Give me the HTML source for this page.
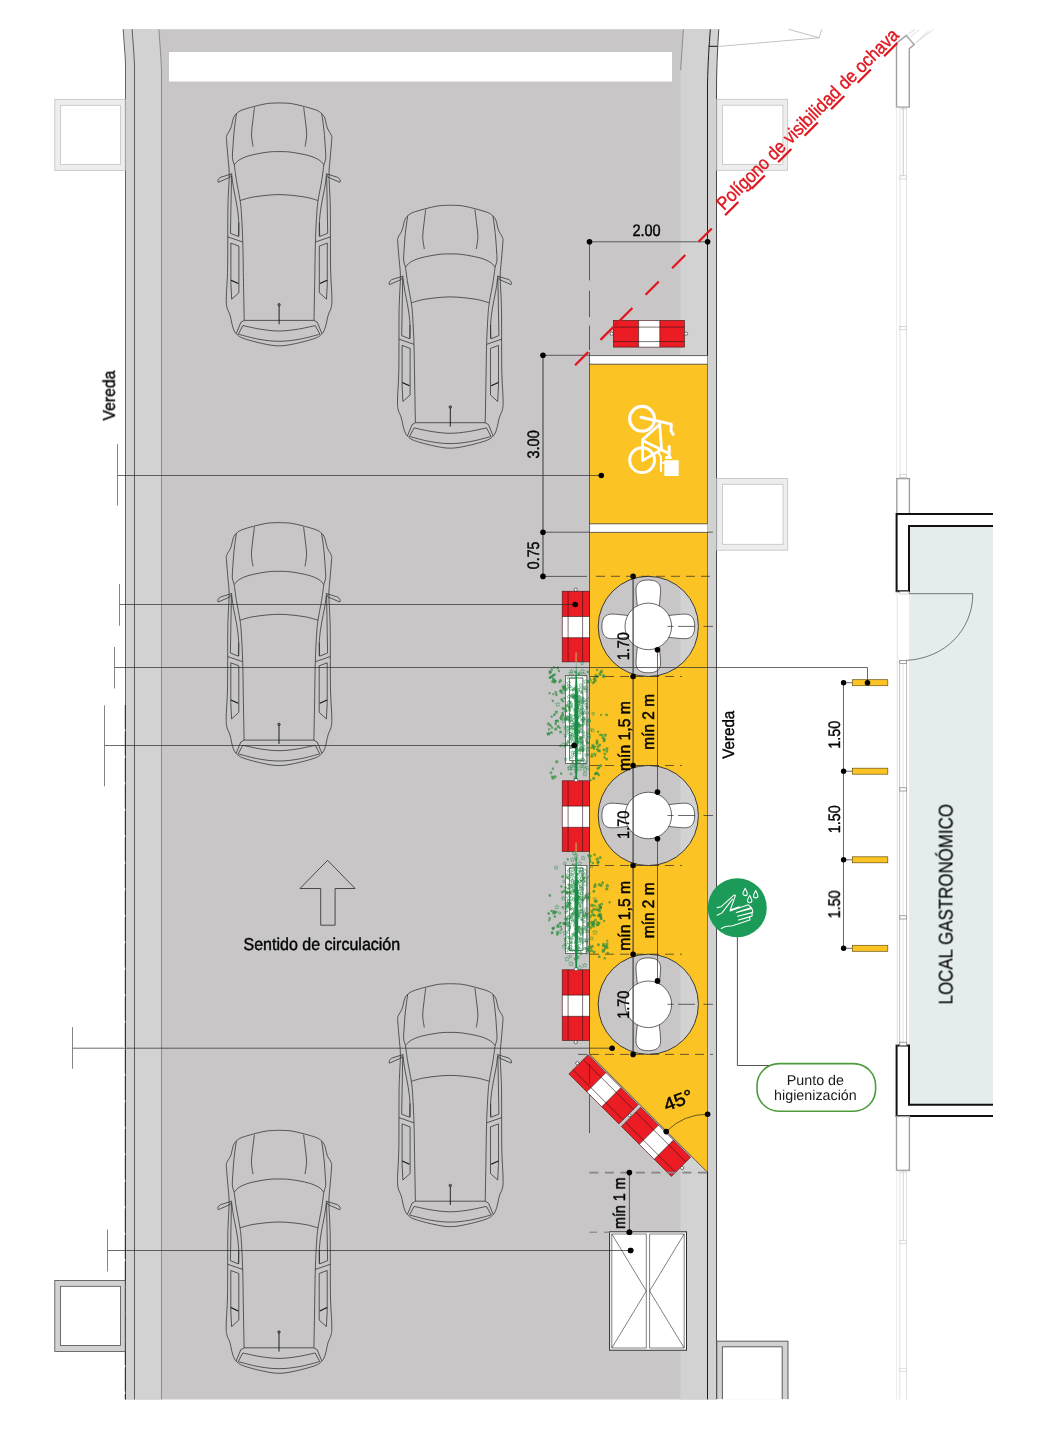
<!DOCTYPE html>
<html lang="es"><head><meta charset="utf-8"><title>Plano local gastronómico</title>
<style>
html,body{margin:0;padding:0;background:#fff;}
body{width:1063px;height:1452px;overflow:hidden;}
svg{display:block;font-family:"Liberation Sans",sans-serif;}
</style></head><body>
<svg width="1063" height="1452" viewBox="0 0 1063 1452">
<rect x="0" y="0" width="1063" height="1452" fill="#fff"/>
<path d="M123.2,29.3 C123.8,40 124.9,50 125.5,64 L125.5,1399.4 L716.5,1399.4 L716.5,90 C716.7,62 717.8,45 718.8,29.3 Z" fill="#c8c6c7"/>
<path d="M123.2,29.3 C123.8,40 124.9,50 125.5,64 L125.5,1399.4 L161.5,1399.4 L161.5,70 C160.8,55 159.6,40 158.9,29.3 Z" fill="#d3d2d3"/>
<path d="M683.4,29.3 C682,50 680.8,65 680.5,80 L680.5,1399.4 L716.5,1399.4 L716.5,90 C716.7,62 717.8,45 718.8,29.3 Z" fill="#d3d2d3"/>
<rect x="169" y="52" width="503" height="29.5" fill="#fff"/>
<path d="M123.2,29.3 C123.8,40 124.9,50 125.5,64 L125.5,1399.4" fill="none" stroke="#2b2a2a" stroke-width="0.7"/>
<path d="M132.1,29.3 C132.8,40 134,52 134.5,66 L134.5,1399.4" fill="none" stroke="#2b2a2a" stroke-width="0.7"/>
<path d="M158.9,29.3 C159.6,40 160.8,55 161.5,70 L161.5,1399.4" fill="none" stroke="#4a4a4a" stroke-width="0.5"/>
<path d="M683.4,29.3 C682.4,45 681.2,60 680.7,70" fill="none" stroke="#4a4a4a" stroke-width="0.5"/>
<path d="M710.3,29.3 C709.2,45 707.9,62 707.5,85 L707.5,1399.4" fill="none" stroke="#1e1e1e" stroke-width="1"/>
<path d="M718.8,29.3 C717.8,45 716.7,62 716.5,90 L716.5,1399.4" fill="none" stroke="#3a3a3a" stroke-width="0.9"/>
<path d="M708.6,46.3 L717.6,46.3" fill="none" stroke="#111" stroke-width="1"/>
<path d="M125.3,705 L125.3,1399.4" fill="none" stroke="#1e1e1e" stroke-width="0.9" stroke-dasharray="24 2.5"/>
<path d="M717.6,46.5 L819.2,37.8 L821.7,29.3 M788.7,29.3 L819.2,37.8" fill="none" stroke="#9a9a9a" stroke-width="0.6"/>
<rect x="54.8" y="99.4" width="70.4" height="71" fill="#ededed" stroke="#c2c2c2" stroke-width="0.8"/>
<rect x="60.5" y="105.30000000000001" width="60.00000000000001" height="59.2" fill="#fff" stroke="#c2c2c2" stroke-width="0.8"/>
<rect x="54.8" y="1280.4" width="70.4" height="71" fill="#d2d2d2" stroke="#4c4c4c" stroke-width="0.8"/>
<rect x="60.5" y="1286.3000000000002" width="60.00000000000001" height="59.2" fill="#fff" stroke="#4c4c4c" stroke-width="0.8"/>
<rect x="716.8" y="99.3" width="70.8" height="71" fill="#ededed" stroke="#c2c2c2" stroke-width="0.8"/>
<rect x="722.5" y="105.2" width="60.4" height="59.2" fill="#fff" stroke="#c2c2c2" stroke-width="0.8"/>
<rect x="716.8" y="478.4" width="70.9" height="71.8" fill="#ededed" stroke="#c2c2c2" stroke-width="0.8"/>
<rect x="722.5" y="484.29999999999995" width="60.50000000000001" height="60.0" fill="#fff" stroke="#c2c2c2" stroke-width="0.8"/>
<path d="M716.8,1399.4 L716.8,1341.2 L788,1341.2 L788,1399.4" fill="#d2d2d2" stroke="#4c4c4c" stroke-width="0.9"/>
<path d="M722.4,1399.4 L722.4,1346.8 L782.2,1346.8 L782.2,1399.4" fill="#fff" stroke="#4c4c4c" stroke-width="0.9"/>
<rect x="716" y="1399.4" width="80" height="3" fill="#fff"/>
<g transform="translate(279.1,102.7)"><path d="M0.00,0.20 C2.06,0.32 8.13,0.28 12.38,0.90 C16.62,1.52 21.32,2.82 25.44,3.90 C29.57,4.98 34.30,6.27 37.12,7.40 C39.95,8.53 40.95,9.38 42.37,10.70 C43.79,12.02 44.67,12.88 45.64,15.30 C46.61,17.72 47.12,22.33 48.21,25.20 C49.30,28.07 51.45,30.52 52.17,32.50 C52.90,34.48 52.75,33.27 52.57,37.10 C52.39,40.93 51.53,49.80 51.08,55.50 C50.64,61.20 49.93,64.72 49.90,71.30 C49.86,77.88 50.65,88.22 50.89,95.00 C51.12,101.78 51.18,100.33 51.28,112.00 C51.38,123.67 51.23,151.33 51.48,165.00 C51.73,178.67 52.65,187.42 52.77,194.00 C52.88,200.58 52.78,201.43 52.17,204.50 C51.56,207.57 50.08,209.12 49.10,212.40 C48.13,215.68 47.34,221.13 46.33,224.20 C45.33,227.27 44.81,228.90 43.06,230.80 C41.32,232.70 40.29,233.92 35.84,235.60 C31.38,237.28 22.31,239.63 16.34,240.90 C10.36,242.17 5.45,243.20 0.00,243.20 C-5.45,243.20 -10.36,242.17 -16.34,240.90 C-22.31,239.63 -31.38,237.28 -35.84,235.60 C-40.29,233.92 -41.32,232.70 -43.06,230.80 C-44.81,228.90 -45.33,227.27 -46.33,224.20 C-47.34,221.13 -48.13,215.68 -49.10,212.40 C-50.08,209.12 -51.56,207.57 -52.17,204.50 C-52.78,201.43 -52.88,200.58 -52.77,194.00 C-52.65,187.42 -51.73,178.67 -51.48,165.00 C-51.23,151.33 -51.38,123.67 -51.28,112.00 C-51.18,100.33 -51.12,101.78 -50.89,95.00 C-50.65,88.22 -49.86,77.88 -49.90,71.30 C-49.93,64.72 -50.64,61.20 -51.08,55.50 C-51.53,49.80 -52.39,40.93 -52.57,37.10 C-52.75,33.27 -52.90,34.48 -52.17,32.50 C-51.45,30.52 -49.30,28.07 -48.21,25.20 C-47.12,22.33 -46.61,17.72 -45.64,15.30 C-44.67,12.88 -43.79,12.02 -42.37,10.70 C-40.95,9.38 -39.95,8.53 -37.12,7.40 C-34.30,6.27 -29.57,4.98 -25.44,3.90 C-21.32,2.82 -16.62,1.52 -12.38,0.90 C-8.13,0.28 -2.06,0.32 -0.00,0.20 Z M42.60,10.70 C42.87,12.58 43.73,18.28 44.20,22.00 C44.67,25.72 45.07,29.17 45.40,33.00 C45.73,36.83 45.98,41.33 46.20,45.00 C46.42,48.67 46.93,52.15 46.70,55.00 C46.47,57.85 45.12,60.92 44.80,62.10 M24.60,4.60 C24.88,6.92 25.80,13.98 26.30,18.50 C26.80,23.02 27.65,27.45 27.60,31.70 C27.55,35.95 26.27,41.95 26.00,44.00 M44.80,62.10 C44.43,64.75 43.57,72.07 42.60,78.00 C41.63,83.93 39.83,92.03 39.00,97.70 C38.17,103.37 38.05,104.95 37.60,112.00 C37.15,119.05 36.63,128.67 36.30,140.00 C35.97,151.33 35.83,167.05 35.60,180.00 C35.37,192.95 35.02,211.42 34.90,217.70 M47.30,72.50 C47.05,74.42 46.65,78.92 45.80,84.00 C44.95,89.08 43.10,97.33 42.20,103.00 C41.30,108.67 40.73,112.92 40.40,118.00 C40.07,123.08 40.23,130.92 40.20,133.50 M47.60,73.50 L48.60,130.60 L40.60,133.80 L40.30,120.00 M36.40,139.30 L51.20,134.20 M40.20,143.40 L48.20,140.40 L48.20,181.00 L47.40,196.50 L40.20,190.00 Z M47.00,71.00 L58.50,74.60 C61.00,76.00 61.80,78.40 60.80,79.60 L49.20,74.60 Z M34.80,217.70 L38.20,219.60 L42.80,230.80 M36.20,222.90 L40.80,231.50 M-42.60,10.70 C-42.87,12.58 -43.73,18.28 -44.20,22.00 C-44.67,25.72 -45.07,29.17 -45.40,33.00 C-45.73,36.83 -45.98,41.33 -46.20,45.00 C-46.42,48.67 -46.93,52.15 -46.70,55.00 C-46.47,57.85 -45.12,60.92 -44.80,62.10 M-24.60,4.60 C-24.88,6.92 -25.80,13.98 -26.30,18.50 C-26.80,23.02 -27.65,27.45 -27.60,31.70 C-27.55,35.95 -26.27,41.95 -26.00,44.00 M-44.80,62.10 C-44.43,64.75 -43.57,72.07 -42.60,78.00 C-41.63,83.93 -39.83,92.03 -39.00,97.70 C-38.17,103.37 -38.05,104.95 -37.60,112.00 C-37.15,119.05 -36.63,128.67 -36.30,140.00 C-35.97,151.33 -35.83,167.05 -35.60,180.00 C-35.37,192.95 -35.02,211.42 -34.90,217.70 M-47.30,72.50 C-47.05,74.42 -46.65,78.92 -45.80,84.00 C-44.95,89.08 -43.10,97.33 -42.20,103.00 C-41.30,108.67 -40.73,112.92 -40.40,118.00 C-40.07,123.08 -40.23,130.92 -40.20,133.50 M-47.60,73.50 L-48.60,130.60 L-40.60,133.80 L-40.30,120.00 M-36.40,139.30 L-51.20,134.20 M-40.20,143.40 L-48.20,140.40 L-48.20,181.00 L-47.40,196.50 L-40.20,190.00 Z M-47.00,71.00 L-58.50,74.60 C-61.00,76.00 -61.80,78.40 -60.80,79.60 L-49.20,74.60 Z M-34.80,217.70 L-38.20,219.60 L-42.80,230.80 M-36.20,222.90 L-40.80,231.50 M-44.80,62.10 C-44.00,61.30 -42.53,58.83 -40.00,57.30 C-37.47,55.77 -34.27,54.20 -29.60,52.90 C-24.93,51.60 -16.93,50.17 -12.00,49.50 C-7.07,48.83 -4.00,48.90 0.00,48.90 C4.00,48.90 7.07,48.83 12.00,49.50 C16.93,50.17 24.93,51.60 29.60,52.90 C34.27,54.20 37.47,55.77 40.00,57.30 C42.53,58.83 44.00,61.30 44.80,62.10 M-38.90,97.80 C-36.58,97.20 -31.48,95.18 -25.00,94.20 C-18.52,93.22 -8.33,91.90 0.00,91.90 C8.33,91.90 18.52,93.22 25.00,94.20 C31.48,95.18 36.58,97.20 38.90,97.80 M-34.8,217.7 L34.8,217.7 M-36.20,222.90 C-33.17,223.52 -24.03,225.70 -18.00,226.60 C-11.97,227.50 -6.00,228.30 0.00,228.30 C6.00,228.30 11.97,227.50 18.00,226.60 C24.03,225.70 33.17,223.52 36.20,222.90 M-40.80,231.50 C-37.33,232.35 -26.80,235.42 -20.00,236.60 C-13.20,237.78 -6.67,238.60 0.00,238.60 C6.67,238.60 13.20,237.78 20.00,236.60 C26.80,235.42 37.33,232.35 40.80,231.50" fill="none" stroke="#232323" stroke-width="0.7" stroke-linejoin="round"/><path d="M40.8,180.8 L48.1,177.5 M-40.8,180.8 L-48.1,177.5" stroke="#111" stroke-width="1.1" fill="none"/><path d="M0,203 L0,221.5" stroke="#111" stroke-width="0.9" fill="none"/><circle cx="0" cy="202" r="1.3" fill="#666" stroke="#111" stroke-width="0.5"/></g>
<g transform="translate(450.3,205.0)"><path d="M0.00,0.20 C2.06,0.32 8.13,0.28 12.38,0.90 C16.62,1.52 21.32,2.82 25.44,3.90 C29.57,4.98 34.30,6.27 37.12,7.40 C39.95,8.53 40.95,9.38 42.37,10.70 C43.79,12.02 44.67,12.88 45.64,15.30 C46.61,17.72 47.12,22.33 48.21,25.20 C49.30,28.07 51.45,30.52 52.17,32.50 C52.90,34.48 52.75,33.27 52.57,37.10 C52.39,40.93 51.53,49.80 51.08,55.50 C50.64,61.20 49.93,64.72 49.90,71.30 C49.86,77.88 50.65,88.22 50.89,95.00 C51.12,101.78 51.18,100.33 51.28,112.00 C51.38,123.67 51.23,151.33 51.48,165.00 C51.73,178.67 52.65,187.42 52.77,194.00 C52.88,200.58 52.78,201.43 52.17,204.50 C51.56,207.57 50.08,209.12 49.10,212.40 C48.13,215.68 47.34,221.13 46.33,224.20 C45.33,227.27 44.81,228.90 43.06,230.80 C41.32,232.70 40.29,233.92 35.84,235.60 C31.38,237.28 22.31,239.63 16.34,240.90 C10.36,242.17 5.45,243.20 0.00,243.20 C-5.45,243.20 -10.36,242.17 -16.34,240.90 C-22.31,239.63 -31.38,237.28 -35.84,235.60 C-40.29,233.92 -41.32,232.70 -43.06,230.80 C-44.81,228.90 -45.33,227.27 -46.33,224.20 C-47.34,221.13 -48.13,215.68 -49.10,212.40 C-50.08,209.12 -51.56,207.57 -52.17,204.50 C-52.78,201.43 -52.88,200.58 -52.77,194.00 C-52.65,187.42 -51.73,178.67 -51.48,165.00 C-51.23,151.33 -51.38,123.67 -51.28,112.00 C-51.18,100.33 -51.12,101.78 -50.89,95.00 C-50.65,88.22 -49.86,77.88 -49.90,71.30 C-49.93,64.72 -50.64,61.20 -51.08,55.50 C-51.53,49.80 -52.39,40.93 -52.57,37.10 C-52.75,33.27 -52.90,34.48 -52.17,32.50 C-51.45,30.52 -49.30,28.07 -48.21,25.20 C-47.12,22.33 -46.61,17.72 -45.64,15.30 C-44.67,12.88 -43.79,12.02 -42.37,10.70 C-40.95,9.38 -39.95,8.53 -37.12,7.40 C-34.30,6.27 -29.57,4.98 -25.44,3.90 C-21.32,2.82 -16.62,1.52 -12.38,0.90 C-8.13,0.28 -2.06,0.32 -0.00,0.20 Z M42.60,10.70 C42.87,12.58 43.73,18.28 44.20,22.00 C44.67,25.72 45.07,29.17 45.40,33.00 C45.73,36.83 45.98,41.33 46.20,45.00 C46.42,48.67 46.93,52.15 46.70,55.00 C46.47,57.85 45.12,60.92 44.80,62.10 M24.60,4.60 C24.88,6.92 25.80,13.98 26.30,18.50 C26.80,23.02 27.65,27.45 27.60,31.70 C27.55,35.95 26.27,41.95 26.00,44.00 M44.80,62.10 C44.43,64.75 43.57,72.07 42.60,78.00 C41.63,83.93 39.83,92.03 39.00,97.70 C38.17,103.37 38.05,104.95 37.60,112.00 C37.15,119.05 36.63,128.67 36.30,140.00 C35.97,151.33 35.83,167.05 35.60,180.00 C35.37,192.95 35.02,211.42 34.90,217.70 M47.30,72.50 C47.05,74.42 46.65,78.92 45.80,84.00 C44.95,89.08 43.10,97.33 42.20,103.00 C41.30,108.67 40.73,112.92 40.40,118.00 C40.07,123.08 40.23,130.92 40.20,133.50 M47.60,73.50 L48.60,130.60 L40.60,133.80 L40.30,120.00 M36.40,139.30 L51.20,134.20 M40.20,143.40 L48.20,140.40 L48.20,181.00 L47.40,196.50 L40.20,190.00 Z M47.00,71.00 L58.50,74.60 C61.00,76.00 61.80,78.40 60.80,79.60 L49.20,74.60 Z M34.80,217.70 L38.20,219.60 L42.80,230.80 M36.20,222.90 L40.80,231.50 M-42.60,10.70 C-42.87,12.58 -43.73,18.28 -44.20,22.00 C-44.67,25.72 -45.07,29.17 -45.40,33.00 C-45.73,36.83 -45.98,41.33 -46.20,45.00 C-46.42,48.67 -46.93,52.15 -46.70,55.00 C-46.47,57.85 -45.12,60.92 -44.80,62.10 M-24.60,4.60 C-24.88,6.92 -25.80,13.98 -26.30,18.50 C-26.80,23.02 -27.65,27.45 -27.60,31.70 C-27.55,35.95 -26.27,41.95 -26.00,44.00 M-44.80,62.10 C-44.43,64.75 -43.57,72.07 -42.60,78.00 C-41.63,83.93 -39.83,92.03 -39.00,97.70 C-38.17,103.37 -38.05,104.95 -37.60,112.00 C-37.15,119.05 -36.63,128.67 -36.30,140.00 C-35.97,151.33 -35.83,167.05 -35.60,180.00 C-35.37,192.95 -35.02,211.42 -34.90,217.70 M-47.30,72.50 C-47.05,74.42 -46.65,78.92 -45.80,84.00 C-44.95,89.08 -43.10,97.33 -42.20,103.00 C-41.30,108.67 -40.73,112.92 -40.40,118.00 C-40.07,123.08 -40.23,130.92 -40.20,133.50 M-47.60,73.50 L-48.60,130.60 L-40.60,133.80 L-40.30,120.00 M-36.40,139.30 L-51.20,134.20 M-40.20,143.40 L-48.20,140.40 L-48.20,181.00 L-47.40,196.50 L-40.20,190.00 Z M-47.00,71.00 L-58.50,74.60 C-61.00,76.00 -61.80,78.40 -60.80,79.60 L-49.20,74.60 Z M-34.80,217.70 L-38.20,219.60 L-42.80,230.80 M-36.20,222.90 L-40.80,231.50 M-44.80,62.10 C-44.00,61.30 -42.53,58.83 -40.00,57.30 C-37.47,55.77 -34.27,54.20 -29.60,52.90 C-24.93,51.60 -16.93,50.17 -12.00,49.50 C-7.07,48.83 -4.00,48.90 0.00,48.90 C4.00,48.90 7.07,48.83 12.00,49.50 C16.93,50.17 24.93,51.60 29.60,52.90 C34.27,54.20 37.47,55.77 40.00,57.30 C42.53,58.83 44.00,61.30 44.80,62.10 M-38.90,97.80 C-36.58,97.20 -31.48,95.18 -25.00,94.20 C-18.52,93.22 -8.33,91.90 0.00,91.90 C8.33,91.90 18.52,93.22 25.00,94.20 C31.48,95.18 36.58,97.20 38.90,97.80 M-34.8,217.7 L34.8,217.7 M-36.20,222.90 C-33.17,223.52 -24.03,225.70 -18.00,226.60 C-11.97,227.50 -6.00,228.30 0.00,228.30 C6.00,228.30 11.97,227.50 18.00,226.60 C24.03,225.70 33.17,223.52 36.20,222.90 M-40.80,231.50 C-37.33,232.35 -26.80,235.42 -20.00,236.60 C-13.20,237.78 -6.67,238.60 0.00,238.60 C6.67,238.60 13.20,237.78 20.00,236.60 C26.80,235.42 37.33,232.35 40.80,231.50" fill="none" stroke="#232323" stroke-width="0.7" stroke-linejoin="round"/><path d="M40.8,180.8 L48.1,177.5 M-40.8,180.8 L-48.1,177.5" stroke="#111" stroke-width="1.1" fill="none"/><path d="M0,203 L0,221.5" stroke="#111" stroke-width="0.9" fill="none"/><circle cx="0" cy="202" r="1.3" fill="#666" stroke="#111" stroke-width="0.5"/></g>
<g transform="translate(279.0,522.4)"><path d="M0.00,0.20 C2.06,0.32 8.13,0.28 12.38,0.90 C16.62,1.52 21.32,2.82 25.44,3.90 C29.57,4.98 34.30,6.27 37.12,7.40 C39.95,8.53 40.95,9.38 42.37,10.70 C43.79,12.02 44.67,12.88 45.64,15.30 C46.61,17.72 47.12,22.33 48.21,25.20 C49.30,28.07 51.45,30.52 52.17,32.50 C52.90,34.48 52.75,33.27 52.57,37.10 C52.39,40.93 51.53,49.80 51.08,55.50 C50.64,61.20 49.93,64.72 49.90,71.30 C49.86,77.88 50.65,88.22 50.89,95.00 C51.12,101.78 51.18,100.33 51.28,112.00 C51.38,123.67 51.23,151.33 51.48,165.00 C51.73,178.67 52.65,187.42 52.77,194.00 C52.88,200.58 52.78,201.43 52.17,204.50 C51.56,207.57 50.08,209.12 49.10,212.40 C48.13,215.68 47.34,221.13 46.33,224.20 C45.33,227.27 44.81,228.90 43.06,230.80 C41.32,232.70 40.29,233.92 35.84,235.60 C31.38,237.28 22.31,239.63 16.34,240.90 C10.36,242.17 5.45,243.20 0.00,243.20 C-5.45,243.20 -10.36,242.17 -16.34,240.90 C-22.31,239.63 -31.38,237.28 -35.84,235.60 C-40.29,233.92 -41.32,232.70 -43.06,230.80 C-44.81,228.90 -45.33,227.27 -46.33,224.20 C-47.34,221.13 -48.13,215.68 -49.10,212.40 C-50.08,209.12 -51.56,207.57 -52.17,204.50 C-52.78,201.43 -52.88,200.58 -52.77,194.00 C-52.65,187.42 -51.73,178.67 -51.48,165.00 C-51.23,151.33 -51.38,123.67 -51.28,112.00 C-51.18,100.33 -51.12,101.78 -50.89,95.00 C-50.65,88.22 -49.86,77.88 -49.90,71.30 C-49.93,64.72 -50.64,61.20 -51.08,55.50 C-51.53,49.80 -52.39,40.93 -52.57,37.10 C-52.75,33.27 -52.90,34.48 -52.17,32.50 C-51.45,30.52 -49.30,28.07 -48.21,25.20 C-47.12,22.33 -46.61,17.72 -45.64,15.30 C-44.67,12.88 -43.79,12.02 -42.37,10.70 C-40.95,9.38 -39.95,8.53 -37.12,7.40 C-34.30,6.27 -29.57,4.98 -25.44,3.90 C-21.32,2.82 -16.62,1.52 -12.38,0.90 C-8.13,0.28 -2.06,0.32 -0.00,0.20 Z M42.60,10.70 C42.87,12.58 43.73,18.28 44.20,22.00 C44.67,25.72 45.07,29.17 45.40,33.00 C45.73,36.83 45.98,41.33 46.20,45.00 C46.42,48.67 46.93,52.15 46.70,55.00 C46.47,57.85 45.12,60.92 44.80,62.10 M24.60,4.60 C24.88,6.92 25.80,13.98 26.30,18.50 C26.80,23.02 27.65,27.45 27.60,31.70 C27.55,35.95 26.27,41.95 26.00,44.00 M44.80,62.10 C44.43,64.75 43.57,72.07 42.60,78.00 C41.63,83.93 39.83,92.03 39.00,97.70 C38.17,103.37 38.05,104.95 37.60,112.00 C37.15,119.05 36.63,128.67 36.30,140.00 C35.97,151.33 35.83,167.05 35.60,180.00 C35.37,192.95 35.02,211.42 34.90,217.70 M47.30,72.50 C47.05,74.42 46.65,78.92 45.80,84.00 C44.95,89.08 43.10,97.33 42.20,103.00 C41.30,108.67 40.73,112.92 40.40,118.00 C40.07,123.08 40.23,130.92 40.20,133.50 M47.60,73.50 L48.60,130.60 L40.60,133.80 L40.30,120.00 M36.40,139.30 L51.20,134.20 M40.20,143.40 L48.20,140.40 L48.20,181.00 L47.40,196.50 L40.20,190.00 Z M47.00,71.00 L58.50,74.60 C61.00,76.00 61.80,78.40 60.80,79.60 L49.20,74.60 Z M34.80,217.70 L38.20,219.60 L42.80,230.80 M36.20,222.90 L40.80,231.50 M-42.60,10.70 C-42.87,12.58 -43.73,18.28 -44.20,22.00 C-44.67,25.72 -45.07,29.17 -45.40,33.00 C-45.73,36.83 -45.98,41.33 -46.20,45.00 C-46.42,48.67 -46.93,52.15 -46.70,55.00 C-46.47,57.85 -45.12,60.92 -44.80,62.10 M-24.60,4.60 C-24.88,6.92 -25.80,13.98 -26.30,18.50 C-26.80,23.02 -27.65,27.45 -27.60,31.70 C-27.55,35.95 -26.27,41.95 -26.00,44.00 M-44.80,62.10 C-44.43,64.75 -43.57,72.07 -42.60,78.00 C-41.63,83.93 -39.83,92.03 -39.00,97.70 C-38.17,103.37 -38.05,104.95 -37.60,112.00 C-37.15,119.05 -36.63,128.67 -36.30,140.00 C-35.97,151.33 -35.83,167.05 -35.60,180.00 C-35.37,192.95 -35.02,211.42 -34.90,217.70 M-47.30,72.50 C-47.05,74.42 -46.65,78.92 -45.80,84.00 C-44.95,89.08 -43.10,97.33 -42.20,103.00 C-41.30,108.67 -40.73,112.92 -40.40,118.00 C-40.07,123.08 -40.23,130.92 -40.20,133.50 M-47.60,73.50 L-48.60,130.60 L-40.60,133.80 L-40.30,120.00 M-36.40,139.30 L-51.20,134.20 M-40.20,143.40 L-48.20,140.40 L-48.20,181.00 L-47.40,196.50 L-40.20,190.00 Z M-47.00,71.00 L-58.50,74.60 C-61.00,76.00 -61.80,78.40 -60.80,79.60 L-49.20,74.60 Z M-34.80,217.70 L-38.20,219.60 L-42.80,230.80 M-36.20,222.90 L-40.80,231.50 M-44.80,62.10 C-44.00,61.30 -42.53,58.83 -40.00,57.30 C-37.47,55.77 -34.27,54.20 -29.60,52.90 C-24.93,51.60 -16.93,50.17 -12.00,49.50 C-7.07,48.83 -4.00,48.90 0.00,48.90 C4.00,48.90 7.07,48.83 12.00,49.50 C16.93,50.17 24.93,51.60 29.60,52.90 C34.27,54.20 37.47,55.77 40.00,57.30 C42.53,58.83 44.00,61.30 44.80,62.10 M-38.90,97.80 C-36.58,97.20 -31.48,95.18 -25.00,94.20 C-18.52,93.22 -8.33,91.90 0.00,91.90 C8.33,91.90 18.52,93.22 25.00,94.20 C31.48,95.18 36.58,97.20 38.90,97.80 M-34.8,217.7 L34.8,217.7 M-36.20,222.90 C-33.17,223.52 -24.03,225.70 -18.00,226.60 C-11.97,227.50 -6.00,228.30 0.00,228.30 C6.00,228.30 11.97,227.50 18.00,226.60 C24.03,225.70 33.17,223.52 36.20,222.90 M-40.80,231.50 C-37.33,232.35 -26.80,235.42 -20.00,236.60 C-13.20,237.78 -6.67,238.60 0.00,238.60 C6.67,238.60 13.20,237.78 20.00,236.60 C26.80,235.42 37.33,232.35 40.80,231.50" fill="none" stroke="#232323" stroke-width="0.7" stroke-linejoin="round"/><path d="M40.8,180.8 L48.1,177.5 M-40.8,180.8 L-48.1,177.5" stroke="#111" stroke-width="1.1" fill="none"/><path d="M0,203 L0,221.5" stroke="#111" stroke-width="0.9" fill="none"/><circle cx="0" cy="202" r="1.3" fill="#666" stroke="#111" stroke-width="0.5"/></g>
<g transform="translate(450.3,983.5)"><path d="M0.00,0.20 C2.06,0.32 8.13,0.28 12.38,0.90 C16.62,1.52 21.32,2.82 25.44,3.90 C29.57,4.98 34.30,6.27 37.12,7.40 C39.95,8.53 40.95,9.38 42.37,10.70 C43.79,12.02 44.67,12.88 45.64,15.30 C46.61,17.72 47.12,22.33 48.21,25.20 C49.30,28.07 51.45,30.52 52.17,32.50 C52.90,34.48 52.75,33.27 52.57,37.10 C52.39,40.93 51.53,49.80 51.08,55.50 C50.64,61.20 49.93,64.72 49.90,71.30 C49.86,77.88 50.65,88.22 50.89,95.00 C51.12,101.78 51.18,100.33 51.28,112.00 C51.38,123.67 51.23,151.33 51.48,165.00 C51.73,178.67 52.65,187.42 52.77,194.00 C52.88,200.58 52.78,201.43 52.17,204.50 C51.56,207.57 50.08,209.12 49.10,212.40 C48.13,215.68 47.34,221.13 46.33,224.20 C45.33,227.27 44.81,228.90 43.06,230.80 C41.32,232.70 40.29,233.92 35.84,235.60 C31.38,237.28 22.31,239.63 16.34,240.90 C10.36,242.17 5.45,243.20 0.00,243.20 C-5.45,243.20 -10.36,242.17 -16.34,240.90 C-22.31,239.63 -31.38,237.28 -35.84,235.60 C-40.29,233.92 -41.32,232.70 -43.06,230.80 C-44.81,228.90 -45.33,227.27 -46.33,224.20 C-47.34,221.13 -48.13,215.68 -49.10,212.40 C-50.08,209.12 -51.56,207.57 -52.17,204.50 C-52.78,201.43 -52.88,200.58 -52.77,194.00 C-52.65,187.42 -51.73,178.67 -51.48,165.00 C-51.23,151.33 -51.38,123.67 -51.28,112.00 C-51.18,100.33 -51.12,101.78 -50.89,95.00 C-50.65,88.22 -49.86,77.88 -49.90,71.30 C-49.93,64.72 -50.64,61.20 -51.08,55.50 C-51.53,49.80 -52.39,40.93 -52.57,37.10 C-52.75,33.27 -52.90,34.48 -52.17,32.50 C-51.45,30.52 -49.30,28.07 -48.21,25.20 C-47.12,22.33 -46.61,17.72 -45.64,15.30 C-44.67,12.88 -43.79,12.02 -42.37,10.70 C-40.95,9.38 -39.95,8.53 -37.12,7.40 C-34.30,6.27 -29.57,4.98 -25.44,3.90 C-21.32,2.82 -16.62,1.52 -12.38,0.90 C-8.13,0.28 -2.06,0.32 -0.00,0.20 Z M42.60,10.70 C42.87,12.58 43.73,18.28 44.20,22.00 C44.67,25.72 45.07,29.17 45.40,33.00 C45.73,36.83 45.98,41.33 46.20,45.00 C46.42,48.67 46.93,52.15 46.70,55.00 C46.47,57.85 45.12,60.92 44.80,62.10 M24.60,4.60 C24.88,6.92 25.80,13.98 26.30,18.50 C26.80,23.02 27.65,27.45 27.60,31.70 C27.55,35.95 26.27,41.95 26.00,44.00 M44.80,62.10 C44.43,64.75 43.57,72.07 42.60,78.00 C41.63,83.93 39.83,92.03 39.00,97.70 C38.17,103.37 38.05,104.95 37.60,112.00 C37.15,119.05 36.63,128.67 36.30,140.00 C35.97,151.33 35.83,167.05 35.60,180.00 C35.37,192.95 35.02,211.42 34.90,217.70 M47.30,72.50 C47.05,74.42 46.65,78.92 45.80,84.00 C44.95,89.08 43.10,97.33 42.20,103.00 C41.30,108.67 40.73,112.92 40.40,118.00 C40.07,123.08 40.23,130.92 40.20,133.50 M47.60,73.50 L48.60,130.60 L40.60,133.80 L40.30,120.00 M36.40,139.30 L51.20,134.20 M40.20,143.40 L48.20,140.40 L48.20,181.00 L47.40,196.50 L40.20,190.00 Z M47.00,71.00 L58.50,74.60 C61.00,76.00 61.80,78.40 60.80,79.60 L49.20,74.60 Z M34.80,217.70 L38.20,219.60 L42.80,230.80 M36.20,222.90 L40.80,231.50 M-42.60,10.70 C-42.87,12.58 -43.73,18.28 -44.20,22.00 C-44.67,25.72 -45.07,29.17 -45.40,33.00 C-45.73,36.83 -45.98,41.33 -46.20,45.00 C-46.42,48.67 -46.93,52.15 -46.70,55.00 C-46.47,57.85 -45.12,60.92 -44.80,62.10 M-24.60,4.60 C-24.88,6.92 -25.80,13.98 -26.30,18.50 C-26.80,23.02 -27.65,27.45 -27.60,31.70 C-27.55,35.95 -26.27,41.95 -26.00,44.00 M-44.80,62.10 C-44.43,64.75 -43.57,72.07 -42.60,78.00 C-41.63,83.93 -39.83,92.03 -39.00,97.70 C-38.17,103.37 -38.05,104.95 -37.60,112.00 C-37.15,119.05 -36.63,128.67 -36.30,140.00 C-35.97,151.33 -35.83,167.05 -35.60,180.00 C-35.37,192.95 -35.02,211.42 -34.90,217.70 M-47.30,72.50 C-47.05,74.42 -46.65,78.92 -45.80,84.00 C-44.95,89.08 -43.10,97.33 -42.20,103.00 C-41.30,108.67 -40.73,112.92 -40.40,118.00 C-40.07,123.08 -40.23,130.92 -40.20,133.50 M-47.60,73.50 L-48.60,130.60 L-40.60,133.80 L-40.30,120.00 M-36.40,139.30 L-51.20,134.20 M-40.20,143.40 L-48.20,140.40 L-48.20,181.00 L-47.40,196.50 L-40.20,190.00 Z M-47.00,71.00 L-58.50,74.60 C-61.00,76.00 -61.80,78.40 -60.80,79.60 L-49.20,74.60 Z M-34.80,217.70 L-38.20,219.60 L-42.80,230.80 M-36.20,222.90 L-40.80,231.50 M-44.80,62.10 C-44.00,61.30 -42.53,58.83 -40.00,57.30 C-37.47,55.77 -34.27,54.20 -29.60,52.90 C-24.93,51.60 -16.93,50.17 -12.00,49.50 C-7.07,48.83 -4.00,48.90 0.00,48.90 C4.00,48.90 7.07,48.83 12.00,49.50 C16.93,50.17 24.93,51.60 29.60,52.90 C34.27,54.20 37.47,55.77 40.00,57.30 C42.53,58.83 44.00,61.30 44.80,62.10 M-38.90,97.80 C-36.58,97.20 -31.48,95.18 -25.00,94.20 C-18.52,93.22 -8.33,91.90 0.00,91.90 C8.33,91.90 18.52,93.22 25.00,94.20 C31.48,95.18 36.58,97.20 38.90,97.80 M-34.8,217.7 L34.8,217.7 M-36.20,222.90 C-33.17,223.52 -24.03,225.70 -18.00,226.60 C-11.97,227.50 -6.00,228.30 0.00,228.30 C6.00,228.30 11.97,227.50 18.00,226.60 C24.03,225.70 33.17,223.52 36.20,222.90 M-40.80,231.50 C-37.33,232.35 -26.80,235.42 -20.00,236.60 C-13.20,237.78 -6.67,238.60 0.00,238.60 C6.67,238.60 13.20,237.78 20.00,236.60 C26.80,235.42 37.33,232.35 40.80,231.50" fill="none" stroke="#232323" stroke-width="0.7" stroke-linejoin="round"/><path d="M40.8,180.8 L48.1,177.5 M-40.8,180.8 L-48.1,177.5" stroke="#111" stroke-width="1.1" fill="none"/><path d="M0,203 L0,221.5" stroke="#111" stroke-width="0.9" fill="none"/><circle cx="0" cy="202" r="1.3" fill="#666" stroke="#111" stroke-width="0.5"/></g>
<g transform="translate(279.0,1130.1)"><path d="M0.00,0.20 C2.06,0.32 8.13,0.28 12.38,0.90 C16.62,1.52 21.32,2.82 25.44,3.90 C29.57,4.98 34.30,6.27 37.12,7.40 C39.95,8.53 40.95,9.38 42.37,10.70 C43.79,12.02 44.67,12.88 45.64,15.30 C46.61,17.72 47.12,22.33 48.21,25.20 C49.30,28.07 51.45,30.52 52.17,32.50 C52.90,34.48 52.75,33.27 52.57,37.10 C52.39,40.93 51.53,49.80 51.08,55.50 C50.64,61.20 49.93,64.72 49.90,71.30 C49.86,77.88 50.65,88.22 50.89,95.00 C51.12,101.78 51.18,100.33 51.28,112.00 C51.38,123.67 51.23,151.33 51.48,165.00 C51.73,178.67 52.65,187.42 52.77,194.00 C52.88,200.58 52.78,201.43 52.17,204.50 C51.56,207.57 50.08,209.12 49.10,212.40 C48.13,215.68 47.34,221.13 46.33,224.20 C45.33,227.27 44.81,228.90 43.06,230.80 C41.32,232.70 40.29,233.92 35.84,235.60 C31.38,237.28 22.31,239.63 16.34,240.90 C10.36,242.17 5.45,243.20 0.00,243.20 C-5.45,243.20 -10.36,242.17 -16.34,240.90 C-22.31,239.63 -31.38,237.28 -35.84,235.60 C-40.29,233.92 -41.32,232.70 -43.06,230.80 C-44.81,228.90 -45.33,227.27 -46.33,224.20 C-47.34,221.13 -48.13,215.68 -49.10,212.40 C-50.08,209.12 -51.56,207.57 -52.17,204.50 C-52.78,201.43 -52.88,200.58 -52.77,194.00 C-52.65,187.42 -51.73,178.67 -51.48,165.00 C-51.23,151.33 -51.38,123.67 -51.28,112.00 C-51.18,100.33 -51.12,101.78 -50.89,95.00 C-50.65,88.22 -49.86,77.88 -49.90,71.30 C-49.93,64.72 -50.64,61.20 -51.08,55.50 C-51.53,49.80 -52.39,40.93 -52.57,37.10 C-52.75,33.27 -52.90,34.48 -52.17,32.50 C-51.45,30.52 -49.30,28.07 -48.21,25.20 C-47.12,22.33 -46.61,17.72 -45.64,15.30 C-44.67,12.88 -43.79,12.02 -42.37,10.70 C-40.95,9.38 -39.95,8.53 -37.12,7.40 C-34.30,6.27 -29.57,4.98 -25.44,3.90 C-21.32,2.82 -16.62,1.52 -12.38,0.90 C-8.13,0.28 -2.06,0.32 -0.00,0.20 Z M42.60,10.70 C42.87,12.58 43.73,18.28 44.20,22.00 C44.67,25.72 45.07,29.17 45.40,33.00 C45.73,36.83 45.98,41.33 46.20,45.00 C46.42,48.67 46.93,52.15 46.70,55.00 C46.47,57.85 45.12,60.92 44.80,62.10 M24.60,4.60 C24.88,6.92 25.80,13.98 26.30,18.50 C26.80,23.02 27.65,27.45 27.60,31.70 C27.55,35.95 26.27,41.95 26.00,44.00 M44.80,62.10 C44.43,64.75 43.57,72.07 42.60,78.00 C41.63,83.93 39.83,92.03 39.00,97.70 C38.17,103.37 38.05,104.95 37.60,112.00 C37.15,119.05 36.63,128.67 36.30,140.00 C35.97,151.33 35.83,167.05 35.60,180.00 C35.37,192.95 35.02,211.42 34.90,217.70 M47.30,72.50 C47.05,74.42 46.65,78.92 45.80,84.00 C44.95,89.08 43.10,97.33 42.20,103.00 C41.30,108.67 40.73,112.92 40.40,118.00 C40.07,123.08 40.23,130.92 40.20,133.50 M47.60,73.50 L48.60,130.60 L40.60,133.80 L40.30,120.00 M36.40,139.30 L51.20,134.20 M40.20,143.40 L48.20,140.40 L48.20,181.00 L47.40,196.50 L40.20,190.00 Z M47.00,71.00 L58.50,74.60 C61.00,76.00 61.80,78.40 60.80,79.60 L49.20,74.60 Z M34.80,217.70 L38.20,219.60 L42.80,230.80 M36.20,222.90 L40.80,231.50 M-42.60,10.70 C-42.87,12.58 -43.73,18.28 -44.20,22.00 C-44.67,25.72 -45.07,29.17 -45.40,33.00 C-45.73,36.83 -45.98,41.33 -46.20,45.00 C-46.42,48.67 -46.93,52.15 -46.70,55.00 C-46.47,57.85 -45.12,60.92 -44.80,62.10 M-24.60,4.60 C-24.88,6.92 -25.80,13.98 -26.30,18.50 C-26.80,23.02 -27.65,27.45 -27.60,31.70 C-27.55,35.95 -26.27,41.95 -26.00,44.00 M-44.80,62.10 C-44.43,64.75 -43.57,72.07 -42.60,78.00 C-41.63,83.93 -39.83,92.03 -39.00,97.70 C-38.17,103.37 -38.05,104.95 -37.60,112.00 C-37.15,119.05 -36.63,128.67 -36.30,140.00 C-35.97,151.33 -35.83,167.05 -35.60,180.00 C-35.37,192.95 -35.02,211.42 -34.90,217.70 M-47.30,72.50 C-47.05,74.42 -46.65,78.92 -45.80,84.00 C-44.95,89.08 -43.10,97.33 -42.20,103.00 C-41.30,108.67 -40.73,112.92 -40.40,118.00 C-40.07,123.08 -40.23,130.92 -40.20,133.50 M-47.60,73.50 L-48.60,130.60 L-40.60,133.80 L-40.30,120.00 M-36.40,139.30 L-51.20,134.20 M-40.20,143.40 L-48.20,140.40 L-48.20,181.00 L-47.40,196.50 L-40.20,190.00 Z M-47.00,71.00 L-58.50,74.60 C-61.00,76.00 -61.80,78.40 -60.80,79.60 L-49.20,74.60 Z M-34.80,217.70 L-38.20,219.60 L-42.80,230.80 M-36.20,222.90 L-40.80,231.50 M-44.80,62.10 C-44.00,61.30 -42.53,58.83 -40.00,57.30 C-37.47,55.77 -34.27,54.20 -29.60,52.90 C-24.93,51.60 -16.93,50.17 -12.00,49.50 C-7.07,48.83 -4.00,48.90 0.00,48.90 C4.00,48.90 7.07,48.83 12.00,49.50 C16.93,50.17 24.93,51.60 29.60,52.90 C34.27,54.20 37.47,55.77 40.00,57.30 C42.53,58.83 44.00,61.30 44.80,62.10 M-38.90,97.80 C-36.58,97.20 -31.48,95.18 -25.00,94.20 C-18.52,93.22 -8.33,91.90 0.00,91.90 C8.33,91.90 18.52,93.22 25.00,94.20 C31.48,95.18 36.58,97.20 38.90,97.80 M-34.8,217.7 L34.8,217.7 M-36.20,222.90 C-33.17,223.52 -24.03,225.70 -18.00,226.60 C-11.97,227.50 -6.00,228.30 0.00,228.30 C6.00,228.30 11.97,227.50 18.00,226.60 C24.03,225.70 33.17,223.52 36.20,222.90 M-40.80,231.50 C-37.33,232.35 -26.80,235.42 -20.00,236.60 C-13.20,237.78 -6.67,238.60 0.00,238.60 C6.67,238.60 13.20,237.78 20.00,236.60 C26.80,235.42 37.33,232.35 40.80,231.50" fill="none" stroke="#232323" stroke-width="0.7" stroke-linejoin="round"/><path d="M40.8,180.8 L48.1,177.5 M-40.8,180.8 L-48.1,177.5" stroke="#111" stroke-width="1.1" fill="none"/><path d="M0,203 L0,221.5" stroke="#111" stroke-width="0.9" fill="none"/><circle cx="0" cy="202" r="1.3" fill="#666" stroke="#111" stroke-width="0.5"/></g>
<rect x="589.5" y="355.6" width="118.0" height="8.6" fill="#fff"/>
<path d="M589.5,364.2 L707.5,364.2 L707.5,1172.3 L589.5,1054.2 Z M598.1999999999999,626.4 a50.1,50.1 0 1,0 100.2,0 a50.1,50.1 0 1,0 -100.2,0 Z M598.1999999999999,815.5 a50.1,50.1 0 1,0 100.2,0 a50.1,50.1 0 1,0 -100.2,0 Z M598.1999999999999,1004.3 a50.1,50.1 0 1,0 100.2,0 a50.1,50.1 0 1,0 -100.2,0 Z" fill="#fcc324" fill-rule="evenodd"/>
<rect x="589.5" y="523.8" width="118.0" height="8.6" fill="#fff"/>
<path d="M589.5,364.2 L707.5,364.2 M589.5,523.8 L707.5,523.8 M589.5,532.4 L707.5,532.4 M589.5,355.6 L707.5,355.6" fill="none" stroke="#2b2a2a" stroke-width="0.7"/>
<path d="M589.5,355.6 L589.5,1054.2 L707.5,1172.3" fill="none" stroke="#2b2a2a" stroke-width="0.7"/>
<circle cx="648.3" cy="626.4" r="50.1" fill="none" stroke="#2b2a2a" stroke-width="0.9"/>
<circle cx="648.3" cy="815.5" r="50.1" fill="none" stroke="#2b2a2a" stroke-width="0.9"/>
<circle cx="648.3" cy="1004.3" r="50.1" fill="none" stroke="#2b2a2a" stroke-width="0.9"/>
<path d="M-10.9,-20 C-11.6,-27 -12.3,-32 -12.3,-36.5 C-12.3,-43.4 -8,-46.4 0,-46.4 C8,-46.4 12.3,-43.4 12.3,-36.5 C12.3,-32 11.6,-27 10.9,-20 Z" transform="translate(648.3,626.4) rotate(0)" fill="#fff" stroke="#2b2a2a" stroke-width="0.7"/>
<path d="M-10.9,-20 C-11.6,-27 -12.3,-32 -12.3,-36.5 C-12.3,-43.4 -8,-46.4 0,-46.4 C8,-46.4 12.3,-43.4 12.3,-36.5 C12.3,-32 11.6,-27 10.9,-20 Z" transform="translate(648.3,626.4) rotate(90)" fill="#fff" stroke="#2b2a2a" stroke-width="0.7"/>
<path d="M-10.9,-20 C-11.6,-27 -12.3,-32 -12.3,-36.5 C-12.3,-43.4 -8,-46.4 0,-46.4 C8,-46.4 12.3,-43.4 12.3,-36.5 C12.3,-32 11.6,-27 10.9,-20 Z" transform="translate(648.3,626.4) rotate(180)" fill="#fff" stroke="#2b2a2a" stroke-width="0.7"/>
<path d="M-10.9,-20 C-11.6,-27 -12.3,-32 -12.3,-36.5 C-12.3,-43.4 -8,-46.4 0,-46.4 C8,-46.4 12.3,-43.4 12.3,-36.5 C12.3,-32 11.6,-27 10.9,-20 Z" transform="translate(648.3,626.4) rotate(270)" fill="#fff" stroke="#2b2a2a" stroke-width="0.7"/>
<circle cx="648.3" cy="626.4" r="23.3" fill="#fff" stroke="#2b2a2a" stroke-width="0.7"/>
<path d="M-10.9,-20 C-11.6,-27 -12.3,-32 -12.3,-36.5 C-12.3,-43.4 -8,-46.4 0,-46.4 C8,-46.4 12.3,-43.4 12.3,-36.5 C12.3,-32 11.6,-27 10.9,-20 Z" transform="translate(648.3,815.5) rotate(90)" fill="#fff" stroke="#2b2a2a" stroke-width="0.7"/>
<path d="M-10.9,-20 C-11.6,-27 -12.3,-32 -12.3,-36.5 C-12.3,-43.4 -8,-46.4 0,-46.4 C8,-46.4 12.3,-43.4 12.3,-36.5 C12.3,-32 11.6,-27 10.9,-20 Z" transform="translate(648.3,815.5) rotate(270)" fill="#fff" stroke="#2b2a2a" stroke-width="0.7"/>
<circle cx="648.3" cy="815.5" r="23.3" fill="#fff" stroke="#2b2a2a" stroke-width="0.7"/>
<path d="M-10.9,-20 C-11.6,-27 -12.3,-32 -12.3,-36.5 C-12.3,-43.4 -8,-46.4 0,-46.4 C8,-46.4 12.3,-43.4 12.3,-36.5 C12.3,-32 11.6,-27 10.9,-20 Z" transform="translate(648.3,1004.3) rotate(0)" fill="#fff" stroke="#2b2a2a" stroke-width="0.7"/>
<path d="M-10.9,-20 C-11.6,-27 -12.3,-32 -12.3,-36.5 C-12.3,-43.4 -8,-46.4 0,-46.4 C8,-46.4 12.3,-43.4 12.3,-36.5 C12.3,-32 11.6,-27 10.9,-20 Z" transform="translate(648.3,1004.3) rotate(180)" fill="#fff" stroke="#2b2a2a" stroke-width="0.7"/>
<circle cx="648.3" cy="1004.3" r="23.3" fill="#fff" stroke="#2b2a2a" stroke-width="0.7"/>
<g transform="translate(589.4,591.2) rotate(90)"><rect x="0" y="0" width="70.7" height="27.2" fill="#ec1c24"/><rect x="25.3" y="0" width="21.2" height="27.2" fill="#fff"/><path d="M0,6.8 L70.7,6.8 M0,21.3 L70.7,21.3 M25.3,0 L25.3,27.2 M46.5,0 L46.5,27.2" fill="none" stroke="#2a1616" stroke-width="0.6"/><rect x="0" y="0" width="70.7" height="27.2" fill="none" stroke="#3a1a1a" stroke-width="0.6"/><circle cx="-1.6" cy="13.6" r="1.6" fill="#fff" stroke="#222" stroke-width="0.6"/></g>
<g transform="translate(589.4,780.8) rotate(90)"><rect x="0" y="0" width="70.7" height="27.2" fill="#ec1c24"/><rect x="25.3" y="0" width="21.2" height="27.2" fill="#fff"/><path d="M0,6.8 L70.7,6.8 M0,21.3 L70.7,21.3 M25.3,0 L25.3,27.2 M46.5,0 L46.5,27.2" fill="none" stroke="#2a1616" stroke-width="0.6"/><rect x="0" y="0" width="70.7" height="27.2" fill="none" stroke="#3a1a1a" stroke-width="0.6"/><circle cx="-1.6" cy="13.6" r="1.6" fill="#fff" stroke="#222" stroke-width="0.6"/></g>
<g transform="translate(589.4,969.8) rotate(90)"><rect x="0" y="0" width="70.7" height="27.2" fill="#ec1c24"/><rect x="25.3" y="0" width="21.2" height="27.2" fill="#fff"/><path d="M0,6.8 L70.7,6.8 M0,21.3 L70.7,21.3 M25.3,0 L25.3,27.2 M46.5,0 L46.5,27.2" fill="none" stroke="#2a1616" stroke-width="0.6"/><rect x="0" y="0" width="70.7" height="27.2" fill="none" stroke="#3a1a1a" stroke-width="0.6"/><circle cx="72.3" cy="13.6" r="1.6" fill="#fff" stroke="#222" stroke-width="0.6"/></g>
<g transform="translate(613.3,320.3) rotate(0)"><rect x="0" y="0" width="71.2" height="26.8" fill="#ec1c24"/><rect x="25.3" y="0" width="21.2" height="26.8" fill="#fff"/><path d="M0,6.8 L71.2,6.8 M0,21.3 L71.2,21.3 M25.3,0 L25.3,26.8 M46.5,0 L46.5,26.8" fill="none" stroke="#2a1616" stroke-width="0.6"/><rect x="0" y="0" width="71.2" height="26.8" fill="none" stroke="#3a1a1a" stroke-width="0.6"/><circle cx="72.8" cy="13.4" r="1.6" fill="#fff" stroke="#222" stroke-width="0.6"/></g>
<circle cx="611.6" cy="333.7" r="1.6" fill="#fff" stroke="#222" stroke-width="0.6"/>
<g transform="translate(588.1,1054.7) rotate(45)"><rect x="0" y="0" width="70.7" height="27.2" fill="#ec1c24"/><rect x="25.3" y="0" width="21.2" height="27.2" fill="#fff"/><path d="M0,6.8 L70.7,6.8 M0,21.3 L70.7,21.3 M25.3,0 L25.3,27.2 M46.5,0 L46.5,27.2" fill="none" stroke="#2a1616" stroke-width="0.6"/><rect x="0" y="0" width="70.7" height="27.2" fill="none" stroke="#3a1a1a" stroke-width="0.6"/><circle cx="-1.6" cy="13.6" r="1.6" fill="#fff" stroke="#222" stroke-width="0.6"/></g>
<g transform="translate(640.6,1107.2) rotate(45)"><rect x="0" y="0" width="70.7" height="27.2" fill="#ec1c24"/><rect x="25.3" y="0" width="21.2" height="27.2" fill="#fff"/><path d="M0,6.8 L70.7,6.8 M0,21.3 L70.7,21.3 M25.3,0 L25.3,27.2 M46.5,0 L46.5,27.2" fill="none" stroke="#2a1616" stroke-width="0.6"/><rect x="0" y="0" width="70.7" height="27.2" fill="none" stroke="#3a1a1a" stroke-width="0.6"/><circle cx="72.3" cy="13.6" r="1.6" fill="#fff" stroke="#222" stroke-width="0.6"/></g>
<g><rect x="565.3" y="675.5" width="21.6" height="87.8" fill="#fff" stroke="#555" stroke-width="0.6"/><rect x="569.4" y="678.0" width="13.5" height="82.4" fill="#fff" stroke="#555" stroke-width="0.6"/><path d="M574.6,733.1 L575.1,734.5 L576.7,734.7 L575.5,735.7 L575.9,737.1 L574.6,736.4 L573.3,737.1 L573.6,735.7 L572.5,734.7 L574.0,734.5Z M583.9,734.5 L584.4,735.7 L585.7,735.8 L584.7,736.6 L585.0,737.9 L583.9,737.2 L582.7,737.9 L583.1,736.6 L582.1,735.8 L583.4,735.7Z M583.9,731.1 L584.3,732.1 L585.3,732.2 L584.5,732.9 L584.8,733.9 L583.9,733.3 L583.0,733.9 L583.2,732.9 L582.4,732.2 L583.5,732.1Z M573.9,722.7 L574.4,723.7 L575.5,723.8 L574.6,724.5 L574.9,725.6 L573.9,725.0 L573.0,725.6 L573.2,724.5 L572.4,723.8 L573.5,723.7Z M565.0,744.4 L565.4,745.4 L566.5,745.5 L565.7,746.2 L565.9,747.3 L565.0,746.7 L564.0,747.3 L564.3,746.2 L563.4,745.5 L564.5,745.4Z M577.9,759.9 L578.6,761.5 L580.3,761.7 L579.0,762.8 L579.4,764.5 L577.9,763.6 L576.4,764.5 L576.8,762.8 L575.5,761.7 L577.2,761.5Z M570.3,702.4 L570.9,704.0 L572.7,704.2 L571.4,705.3 L571.8,707.1 L570.3,706.1 L568.7,707.1 L569.1,705.3 L567.8,704.2 L569.6,704.0Z M589.2,735.4 L589.7,736.5 L590.9,736.6 L590.0,737.4 L590.2,738.7 L589.2,738.0 L588.1,738.7 L588.4,737.4 L587.4,736.6 L588.7,736.5Z M578.4,729.9 L578.9,731.0 L580.1,731.2 L579.2,732.0 L579.5,733.2 L578.4,732.5 L577.3,733.2 L577.6,732.0 L576.6,731.2 L577.9,731.0Z M578.0,699.5 L578.6,700.8 L580.1,700.9 L578.9,701.9 L579.3,703.3 L578.0,702.6 L576.8,703.3 L577.1,701.9 L576.0,700.9 L577.5,700.8Z M572.1,694.5 L572.6,695.8 L574.1,695.9 L573.0,696.9 L573.3,698.3 L572.1,697.5 L570.8,698.3 L571.2,696.9 L570.1,695.9 L571.5,695.8Z M578.5,722.0 L579.0,723.0 L580.1,723.1 L579.2,723.9 L579.5,725.1 L578.5,724.5 L577.5,725.1 L577.8,723.9 L576.9,723.1 L578.0,723.0Z M573.3,688.0 L573.7,689.2 L575.0,689.3 L574.0,690.1 L574.3,691.3 L573.3,690.7 L572.2,691.3 L572.5,690.1 L571.5,689.3 L572.8,689.2Z M569.9,700.2 L570.4,701.4 L571.6,701.5 L570.7,702.3 L571.0,703.5 L569.9,702.9 L568.8,703.5 L569.1,702.3 L568.1,701.5 L569.4,701.4Z M579.2,671.5 L579.7,672.7 L580.9,672.8 L580.0,673.6 L580.2,674.7 L579.2,674.1 L578.2,674.7 L578.4,673.6 L577.5,672.8 L578.7,672.7Z M568.9,700.0 L569.5,701.5 L571.2,701.7 L569.9,702.8 L570.3,704.4 L568.9,703.6 L567.4,704.4 L567.8,702.8 L566.5,701.7 L568.2,701.5Z M575.6,691.6 L576.3,693.2 L578.0,693.4 L576.7,694.5 L577.1,696.3 L575.6,695.3 L574.1,696.3 L574.5,694.5 L573.1,693.4 L574.9,693.2Z M581.5,739.0 L582.1,740.4 L583.7,740.6 L582.5,741.6 L582.9,743.2 L581.5,742.3 L580.1,743.2 L580.5,741.6 L579.3,740.6 L580.9,740.4Z M580.9,747.3 L581.3,748.3 L582.3,748.3 L581.5,749.0 L581.8,750.1 L580.9,749.5 L579.9,750.1 L580.2,749.0 L579.4,748.3 L580.4,748.3Z M570.6,671.5 L571.2,672.8 L572.6,672.9 L571.5,673.9 L571.9,675.3 L570.6,674.5 L569.4,675.3 L569.7,673.9 L568.6,672.9 L570.1,672.8Z M580.5,698.3 L581.1,699.7 L582.6,699.8 L581.5,700.9 L581.8,702.4 L580.5,701.6 L579.2,702.4 L579.5,700.9 L578.3,699.8 L579.9,699.7Z M568.9,694.7 L569.4,696.0 L570.8,696.1 L569.7,697.0 L570.0,698.3 L568.9,697.6 L567.7,698.3 L568.0,697.0 L567.0,696.1 L568.3,696.0Z M566.4,725.4 L566.8,726.3 L567.9,726.4 L567.1,727.1 L567.3,728.2 L566.4,727.6 L565.5,728.2 L565.7,727.1 L564.9,726.4 L566.0,726.3Z M573.4,674.2 L574.0,675.9 L575.8,676.0 L574.5,677.2 L574.9,678.9 L573.4,678.0 L571.8,678.9 L572.2,677.2 L570.9,676.0 L572.7,675.9Z M578.7,694.8 L579.2,696.0 L580.6,696.1 L579.6,696.9 L579.9,698.2 L578.7,697.5 L577.6,698.2 L577.9,696.9 L576.9,696.1 L578.2,696.0Z M575.6,711.7 L576.1,713.0 L577.5,713.1 L576.4,714.0 L576.8,715.3 L575.6,714.6 L574.4,715.3 L574.7,714.0 L573.7,713.1 L575.1,713.0Z M578.0,731.4 L578.4,732.4 L579.5,732.5 L578.6,733.2 L578.9,734.2 L578.0,733.7 L577.1,734.2 L577.3,733.2 L576.5,732.5 L577.6,732.4Z M576.7,701.5 L577.2,702.6 L578.4,702.7 L577.5,703.5 L577.8,704.7 L576.7,704.1 L575.7,704.7 L576.0,703.5 L575.0,702.7 L576.2,702.6Z M565.6,757.6 L566.1,758.7 L567.1,758.7 L566.3,759.5 L566.6,760.5 L565.6,759.9 L564.7,760.5 L565.0,759.5 L564.1,758.7 L565.2,758.7Z M568.1,729.3 L568.8,730.9 L570.5,731.0 L569.2,732.1 L569.6,733.8 L568.1,732.9 L566.7,733.8 L567.1,732.1 L565.8,731.0 L567.5,730.9Z M582.0,661.5 L582.5,662.7 L583.7,662.8 L582.8,663.6 L583.1,664.8 L582.0,664.2 L581.0,664.8 L581.3,663.6 L580.3,662.8 L581.5,662.7Z M570.8,731.9 L571.4,733.4 L573.1,733.6 L571.8,734.7 L572.2,736.3 L570.8,735.4 L569.3,736.3 L569.7,734.7 L568.4,733.6 L570.1,733.4Z M580.1,713.2 L580.5,714.2 L581.7,714.3 L580.8,715.1 L581.0,716.2 L580.1,715.6 L579.1,716.2 L579.3,715.1 L578.4,714.3 L579.6,714.2Z M576.9,739.9 L577.4,741.2 L578.8,741.3 L577.7,742.2 L578.1,743.6 L576.9,742.9 L575.7,743.6 L576.0,742.2 L574.9,741.3 L576.3,741.2Z M571.8,705.1 L572.2,706.1 L573.2,706.2 L572.4,706.9 L572.7,707.9 L571.8,707.3 L570.9,707.9 L571.2,706.9 L570.4,706.2 L571.4,706.1Z M570.6,731.9 L571.2,733.2 L572.6,733.4 L571.5,734.3 L571.8,735.7 L570.6,735.0 L569.4,735.7 L569.7,734.3 L568.6,733.4 L570.0,733.2Z M586.3,703.6 L586.8,705.0 L588.2,705.1 L587.2,706.0 L587.5,707.4 L586.3,706.6 L585.1,707.4 L585.4,706.0 L584.3,705.1 L585.7,705.0Z M568.8,686.6 L569.2,687.6 L570.2,687.7 L569.4,688.4 L569.7,689.4 L568.8,688.9 L567.8,689.4 L568.1,688.4 L567.3,687.7 L568.3,687.6Z M585.9,685.2 L586.5,686.8 L588.2,686.9 L586.9,688.0 L587.3,689.7 L585.9,688.8 L584.4,689.7 L584.8,688.0 L583.5,686.9 L585.2,686.8Z M578.3,688.0 L578.8,689.2 L580.2,689.3 L579.1,690.2 L579.5,691.5 L578.3,690.8 L577.2,691.5 L577.5,690.2 L576.5,689.3 L577.8,689.2Z M584.0,744.6 L584.4,745.6 L585.5,745.6 L584.6,746.3 L584.9,747.4 L584.0,746.8 L583.1,747.4 L583.3,746.3 L582.5,745.6 L583.6,745.6Z M580.5,726.5 L581.0,727.6 L582.1,727.7 L581.3,728.4 L581.5,729.6 L580.5,729.0 L579.6,729.6 L579.8,728.4 L578.9,727.7 L580.1,727.6Z M575.1,726.6 L575.5,727.6 L576.5,727.6 L575.7,728.3 L576.0,729.3 L575.1,728.8 L574.2,729.3 L574.5,728.3 L573.7,727.6 L574.7,727.6Z M578.1,729.3 L578.6,730.5 L579.9,730.6 L578.9,731.4 L579.2,732.7 L578.1,732.0 L577.0,732.7 L577.3,731.4 L576.3,730.6 L577.6,730.5Z M590.0,727.4 L590.5,728.8 L592.0,728.9 L590.9,729.9 L591.3,731.3 L590.0,730.6 L588.7,731.3 L589.0,729.9 L587.9,728.9 L589.4,728.8Z M579.4,736.6 L579.9,737.8 L581.2,737.9 L580.2,738.8 L580.5,740.0 L579.4,739.3 L578.3,740.0 L578.6,738.8 L577.6,737.9 L578.9,737.8Z M574.0,729.0 L574.7,730.6 L576.3,730.7 L575.1,731.8 L575.4,733.4 L574.0,732.6 L572.6,733.4 L573.0,731.8 L571.7,730.7 L573.4,730.6Z M583.9,716.0 L584.4,717.3 L585.8,717.4 L584.8,718.3 L585.1,719.6 L583.9,718.9 L582.7,719.6 L583.0,718.3 L582.0,717.4 L583.4,717.3Z M579.0,725.0 L579.5,726.2 L580.8,726.3 L579.8,727.2 L580.1,728.4 L579.0,727.7 L577.9,728.4 L578.2,727.2 L577.2,726.3 L578.5,726.2Z M575.1,775.8 L575.6,776.9 L576.7,777.0 L575.8,777.7 L576.1,778.9 L575.1,778.3 L574.1,778.9 L574.4,777.7 L573.5,777.0 L574.7,776.9Z M592.8,728.4 L593.4,729.8 L594.8,729.9 L593.7,730.8 L594.0,732.2 L592.8,731.4 L591.6,732.2 L591.9,730.8 L590.8,729.9 L592.3,729.8Z M581.4,748.9 L581.9,749.8 L582.9,749.9 L582.1,750.6 L582.3,751.6 L581.4,751.1 L580.5,751.6 L580.8,750.6 L580.0,749.9 L581.0,749.8Z M557.7,702.0 L558.4,703.5 L560.1,703.6 L558.8,704.7 L559.2,706.4 L557.7,705.5 L556.3,706.4 L556.7,704.7 L555.4,703.6 L557.1,703.5Z M574.5,694.8 L575.0,696.1 L576.4,696.2 L575.4,697.0 L575.7,698.3 L574.5,697.6 L573.4,698.3 L573.7,697.0 L572.7,696.2 L574.0,696.1Z M582.1,763.6 L582.7,765.0 L584.1,765.1 L583.0,766.0 L583.3,767.4 L582.1,766.7 L580.9,767.4 L581.2,766.0 L580.1,765.1 L581.6,765.0Z M577.4,690.5 L577.9,691.6 L579.1,691.7 L578.2,692.5 L578.4,693.6 L577.4,693.0 L576.4,693.6 L576.7,692.5 L575.7,691.7 L576.9,691.6Z M583.7,672.2 L584.3,673.8 L586.0,673.9 L584.7,675.0 L585.1,676.6 L583.7,675.7 L582.3,676.6 L582.7,675.0 L581.4,673.9 L583.1,673.8Z M576.0,695.2 L576.5,696.6 L578.0,696.7 L576.9,697.6 L577.2,699.0 L576.0,698.2 L574.8,699.0 L575.1,697.6 L574.0,696.7 L575.4,696.6Z M575.3,723.9 L575.7,724.9 L576.7,725.0 L575.9,725.6 L576.2,726.7 L575.3,726.1 L574.4,726.7 L574.6,725.6 L573.8,725.0 L574.9,724.9Z M575.3,740.8 L575.9,742.3 L577.5,742.4 L576.3,743.4 L576.7,744.9 L575.3,744.1 L574.0,744.9 L574.4,743.4 L573.2,742.4 L574.7,742.3Z M583.4,707.9 L584.1,709.5 L585.8,709.6 L584.5,710.7 L584.9,712.4 L583.4,711.5 L581.9,712.4 L582.3,710.7 L581.0,709.6 L582.8,709.5Z M593.2,711.8 L593.7,713.0 L595.0,713.1 L594.0,714.0 L594.3,715.2 L593.2,714.6 L592.1,715.2 L592.4,714.0 L591.4,713.1 L592.7,713.0Z M577.2,739.6 L577.7,740.7 L578.8,740.8 L577.9,741.6 L578.2,742.7 L577.2,742.1 L576.2,742.7 L576.5,741.6 L575.6,740.8 L576.7,740.7Z M579.0,758.6 L579.6,760.2 L581.4,760.3 L580.1,761.4 L580.5,763.1 L579.0,762.2 L577.5,763.1 L577.9,761.4 L576.6,760.3 L578.3,760.2Z M580.5,687.4 L581.1,688.8 L582.6,689.0 L581.4,690.0 L581.8,691.4 L580.5,690.6 L579.2,691.4 L579.5,690.0 L578.4,689.0 L579.9,688.8Z M577.2,704.9 L577.8,706.3 L579.3,706.4 L578.1,707.4 L578.5,708.9 L577.2,708.1 L575.9,708.9 L576.2,707.4 L575.1,706.4 L576.6,706.3Z M586.3,688.1 L586.9,689.6 L588.5,689.7 L587.3,690.8 L587.7,692.3 L586.3,691.5 L585.0,692.3 L585.3,690.8 L584.1,689.7 L585.7,689.6Z M572.1,719.8 L572.7,721.3 L574.3,721.4 L573.1,722.5 L573.5,724.1 L572.1,723.2 L570.7,724.1 L571.1,722.5 L569.8,721.4 L571.4,721.3Z M570.2,765.3 L570.9,766.9 L572.7,767.1 L571.3,768.2 L571.8,769.9 L570.2,769.0 L568.7,769.9 L569.1,768.2 L567.8,767.1 L569.6,766.9Z M570.8,736.1 L571.5,737.7 L573.3,737.8 L571.9,739.0 L572.3,740.7 L570.8,739.8 L569.3,740.7 L569.7,739.0 L568.4,737.8 L570.2,737.7Z M575.6,699.2 L576.1,700.2 L577.2,700.3 L576.3,701.0 L576.6,702.1 L575.6,701.6 L574.7,702.1 L574.9,701.0 L574.1,700.3 L575.2,700.2Z M584.9,771.8 L585.5,773.3 L587.2,773.4 L585.9,774.5 L586.3,776.1 L584.9,775.3 L583.5,776.1 L583.9,774.5 L582.6,773.4 L584.3,773.3Z M584.0,763.0 L584.7,764.7 L586.5,764.8 L585.1,766.0 L585.5,767.7 L584.0,766.8 L582.5,767.7 L582.9,766.0 L581.6,764.8 L583.3,764.7Z M572.8,693.4 L573.4,694.7 L574.8,694.8 L573.7,695.7 L574.1,697.2 L572.8,696.4 L571.6,697.2 L571.9,695.7 L570.8,694.8 L572.3,694.7Z M577.1,720.8 L577.8,722.4 L579.5,722.6 L578.2,723.7 L578.6,725.4 L577.1,724.5 L575.6,725.4 L576.0,723.7 L574.6,722.6 L576.4,722.4Z M571.4,686.3 L572.1,688.0 L573.8,688.1 L572.5,689.2 L572.9,690.9 L571.4,690.0 L569.9,690.9 L570.3,689.2 L569.0,688.1 L570.7,688.0Z M563.7,742.5 L564.3,744.0 L566.0,744.1 L564.7,745.2 L565.1,746.8 L563.7,746.0 L562.3,746.8 L562.7,745.2 L561.4,744.1 L563.1,744.0Z M577.6,740.6 L578.0,741.7 L579.3,741.8 L578.3,742.7 L578.6,743.9 L577.6,743.2 L576.5,743.9 L576.8,742.7 L575.8,741.8 L577.1,741.7Z M576.8,758.8 L577.3,760.0 L578.5,760.1 L577.6,760.9 L577.9,762.1 L576.8,761.4 L575.8,762.1 L576.1,760.9 L575.1,760.1 L576.4,760.0Z M573.2,725.0 L573.8,726.6 L575.5,726.7 L574.2,727.9 L574.6,729.5 L573.2,728.6 L571.7,729.5 L572.1,727.9 L570.8,726.7 L572.5,726.6Z M571.7,744.6 L572.3,746.0 L573.8,746.1 L572.6,747.1 L573.0,748.5 L571.7,747.7 L570.5,748.5 L570.8,747.1 L569.7,746.1 L571.2,746.0Z M582.2,698.7 L582.8,700.3 L584.5,700.4 L583.2,701.5 L583.6,703.2 L582.2,702.3 L580.7,703.2 L581.1,701.5 L579.8,700.4 L581.5,700.3Z M567.9,717.0 L568.5,718.3 L569.9,718.5 L568.8,719.4 L569.1,720.8 L567.9,720.0 L566.7,720.8 L567.0,719.4 L565.9,718.5 L567.4,718.3Z M583.6,721.7 L584.0,722.8 L585.2,722.9 L584.3,723.7 L584.6,724.8 L583.6,724.2 L582.6,724.8 L582.8,723.7 L582.0,722.9 L583.1,722.8Z M588.5,719.2 L588.9,720.3 L590.1,720.4 L589.2,721.1 L589.5,722.2 L588.5,721.6 L587.5,722.2 L587.8,721.1 L586.9,720.4 L588.0,720.3Z M565.5,725.6 L566.1,727.0 L567.5,727.1 L566.4,728.1 L566.8,729.5 L565.5,728.7 L564.3,729.5 L564.6,728.1 L563.5,727.1 L565.0,727.0Z M572.5,750.7 L573.1,752.0 L574.5,752.1 L573.4,753.1 L573.8,754.5 L572.5,753.7 L571.3,754.5 L571.6,753.1 L570.5,752.1 L572.0,752.0Z M577.0,703.0 L577.5,704.4 L579.0,704.5 L577.9,705.5 L578.2,706.9 L577.0,706.1 L575.7,706.9 L576.1,705.5 L575.0,704.5 L576.4,704.4Z M576.4,742.1 L577.0,743.6 L578.6,743.7 L577.4,744.8 L577.7,746.4 L576.4,745.5 L575.0,746.4 L575.3,744.8 L574.1,743.7 L575.7,743.6Z M567.6,715.2 L568.2,716.7 L569.8,716.8 L568.6,717.9 L568.9,719.5 L567.6,718.6 L566.2,719.5 L566.6,717.9 L565.4,716.8 L567.0,716.7Z M582.6,699.8 L583.1,701.2 L584.6,701.3 L583.5,702.3 L583.9,703.7 L582.6,702.9 L581.3,703.7 L581.6,702.3 L580.5,701.3 L582.0,701.2Z M568.2,715.9 L568.8,717.4 L570.3,717.5 L569.1,718.5 L569.5,720.0 L568.2,719.2 L566.8,720.0 L567.2,718.5 L566.0,717.5 L567.6,717.4Z M568.3,728.8 L568.8,730.1 L570.2,730.2 L569.1,731.1 L569.5,732.4 L568.3,731.7 L567.1,732.4 L567.4,731.1 L566.4,730.2 L567.7,730.1Z M586.1,699.8 L586.8,701.3 L588.5,701.5 L587.2,702.6 L587.6,704.2 L586.1,703.3 L584.7,704.2 L585.1,702.6 L583.8,701.5 L585.5,701.3Z M581.2,708.8 L581.8,710.2 L583.2,710.3 L582.1,711.3 L582.5,712.7 L581.2,711.9 L580.0,712.7 L580.3,711.3 L579.2,710.3 L580.7,710.2Z M588.5,697.1 L588.9,698.2 L590.1,698.3 L589.2,699.0 L589.5,700.1 L588.5,699.5 L587.5,700.1 L587.8,699.0 L586.9,698.3 L588.1,698.2Z M581.6,741.1 L582.0,742.1 L583.1,742.2 L582.3,742.9 L582.5,744.0 L581.6,743.4 L580.7,744.0 L580.9,742.9 L580.1,742.2 L581.2,742.1Z M576.5,729.3 L577.0,730.7 L578.6,730.9 L577.4,731.9 L577.8,733.4 L576.5,732.6 L575.1,733.4 L575.5,731.9 L574.3,730.9 L575.9,730.7Z M582.4,757.9 L583.0,759.3 L584.5,759.4 L583.3,760.4 L583.7,761.9 L582.4,761.1 L581.1,761.9 L581.4,760.4 L580.3,759.4 L581.8,759.3Z M585.1,767.2 L585.7,768.8 L587.5,768.9 L586.2,770.1 L586.6,771.8 L585.1,770.9 L583.6,771.8 L584.0,770.1 L582.6,768.9 L584.4,768.8Z M570.0,738.3 L570.7,739.9 L572.5,740.1 L571.1,741.2 L571.5,743.0 L570.0,742.0 L568.5,743.0 L568.9,741.2 L567.5,740.1 L569.3,739.9Z M578.3,701.5 L578.8,702.8 L580.2,702.9 L579.1,703.8 L579.5,705.1 L578.3,704.4 L577.1,705.1 L577.5,703.8 L576.4,702.9 L577.8,702.8Z M570.1,715.0 L570.6,716.1 L571.8,716.2 L570.9,717.0 L571.1,718.1 L570.1,717.5 L569.1,718.1 L569.4,717.0 L568.5,716.2 L569.7,716.1Z M571.8,763.1 L572.2,764.0 L573.2,764.1 L572.4,764.8 L572.7,765.8 L571.8,765.3 L570.9,765.8 L571.1,764.8 L570.3,764.1 L571.4,764.0Z M569.4,706.9 L569.8,707.8 L570.8,707.9 L570.0,708.6 L570.3,709.6 L569.4,709.1 L568.5,709.6 L568.7,708.6 L567.9,707.9 L569.0,707.8Z M571.6,755.2 L572.2,756.5 L573.6,756.7 L572.5,757.6 L572.9,759.0 L571.6,758.2 L570.4,759.0 L570.8,757.6 L569.7,756.7 L571.1,756.5Z M594.4,752.5 L595.1,754.0 L596.7,754.1 L595.4,755.2 L595.8,756.8 L594.4,755.9 L593.0,756.8 L593.4,755.2 L592.2,754.1 L593.8,754.0Z M579.4,715.1 L579.9,716.3 L581.2,716.4 L580.2,717.2 L580.5,718.4 L579.4,717.7 L578.4,718.4 L578.7,717.2 L577.7,716.4 L579.0,716.3Z M587.8,731.0 L588.2,732.1 L589.5,732.2 L588.5,733.0 L588.8,734.2 L587.8,733.6 L586.7,734.2 L587.0,733.0 L586.0,732.2 L587.3,732.1Z M581.2,740.6 L581.9,742.2 L583.6,742.3 L582.3,743.5 L582.7,745.1 L581.2,744.2 L579.7,745.1 L580.1,743.5 L578.8,742.3 L580.5,742.2Z M578.5,696.1 L578.9,697.1 L580.1,697.2 L579.2,698.0 L579.5,699.1 L578.5,698.5 L577.5,699.1 L577.8,698.0 L576.9,697.2 L578.1,697.1Z M584.0,697.6 L584.6,699.1 L586.2,699.2 L585.0,700.2 L585.4,701.7 L584.0,700.9 L582.7,701.7 L583.1,700.2 L581.9,699.2 L583.4,699.1Z M578.3,722.9 L578.9,724.4 L580.4,724.5 L579.2,725.5 L579.6,727.0 L578.3,726.2 L577.0,727.0 L577.3,725.5 L576.1,724.5 L577.7,724.4Z M573.9,722.4 L574.6,724.0 L576.4,724.2 L575.0,725.3 L575.4,727.0 L573.9,726.1 L572.5,727.0 L572.9,725.3 L571.5,724.2 L573.3,724.0Z M568.2,676.2 L568.6,677.2 L569.7,677.3 L568.9,678.0 L569.1,679.1 L568.2,678.5 L567.2,679.1 L567.5,678.0 L566.7,677.3 L567.8,677.2Z M577.9,708.0 L578.5,709.6 L580.2,709.7 L578.9,710.8 L579.3,712.4 L577.9,711.6 L576.4,712.4 L576.8,710.8 L575.5,709.7 L577.2,709.6Z M570.4,725.5 L570.9,726.8 L572.4,726.9 L571.3,727.9 L571.6,729.3 L570.4,728.5 L569.1,729.3 L569.5,727.9 L568.4,726.9 L569.8,726.8Z M581.1,707.0 L581.5,708.0 L582.7,708.1 L581.8,708.8 L582.1,709.9 L581.1,709.4 L580.1,709.9 L580.4,708.8 L579.5,708.1 L580.7,708.0Z M571.4,714.0 L571.8,715.1 L572.9,715.1 L572.0,715.9 L572.3,717.0 L571.4,716.4 L570.4,717.0 L570.7,715.9 L569.8,715.1 L570.9,715.1Z M577.5,726.2 L577.9,727.3 L579.1,727.4 L578.2,728.2 L578.5,729.4 L577.5,728.7 L576.4,729.4 L576.7,728.2 L575.8,727.4 L577.0,727.3Z M574.1,741.6 L574.7,743.1 L576.3,743.2 L575.1,744.3 L575.5,745.9 L574.1,745.0 L572.7,745.9 L573.1,744.3 L571.9,743.2 L573.5,743.1Z M574.3,753.2 L574.8,754.2 L575.9,754.3 L575.0,755.1 L575.3,756.2 L574.3,755.6 L573.3,756.2 L573.6,755.1 L572.7,754.3 L573.9,754.2Z M575.6,722.6 L576.0,723.7 L577.2,723.8 L576.3,724.6 L576.6,725.8 L575.6,725.2 L574.5,725.8 L574.8,724.6 L573.9,723.8 L575.1,723.7Z M587.3,722.2 L587.9,723.6 L589.3,723.7 L588.2,724.6 L588.5,726.1 L587.3,725.3 L586.1,726.1 L586.4,724.6 L585.3,723.7 L586.7,723.6Z M579.2,749.6 L579.8,751.2 L581.6,751.4 L580.2,752.5 L580.7,754.2 L579.2,753.3 L577.7,754.2 L578.1,752.5 L576.8,751.4 L578.5,751.2Z M586.2,753.0 L586.7,754.3 L588.0,754.4 L587.0,755.3 L587.3,756.6 L586.2,755.9 L585.0,756.6 L585.3,755.3 L584.3,754.4 L585.6,754.3Z M563.4,719.4 L563.9,720.6 L565.2,720.7 L564.2,721.6 L564.5,722.9 L563.4,722.2 L562.3,722.9 L562.6,721.6 L561.6,720.7 L562.9,720.6Z M565.9,714.9 L566.6,716.6 L568.4,716.7 L567.0,717.9 L567.5,719.6 L565.9,718.7 L564.4,719.6 L564.8,717.9 L563.5,716.7 L565.3,716.6Z M569.2,766.1 L569.8,767.6 L571.4,767.7 L570.2,768.7 L570.6,770.3 L569.2,769.4 L567.9,770.3 L568.3,768.7 L567.1,767.7 L568.6,767.6Z M571.8,693.8 L572.2,695.0 L573.5,695.1 L572.6,696.0 L572.9,697.2 L571.8,696.5 L570.6,697.2 L570.9,696.0 L570.0,695.1 L571.3,695.0Z M579.7,723.4 L580.1,724.4 L581.2,724.5 L580.4,725.2 L580.6,726.3 L579.7,725.7 L578.8,726.3 L579.0,725.2 L578.2,724.5 L579.3,724.4Z M576.0,694.0 L576.4,695.1 L577.6,695.2 L576.7,696.0 L577.0,697.1 L576.0,696.5 L575.0,697.1 L575.3,696.0 L574.4,695.2 L575.6,695.1Z M587.6,747.2 L588.2,748.7 L589.9,748.9 L588.6,750.0 L589.0,751.6 L587.6,750.7 L586.1,751.6 L586.5,750.0 L585.2,748.9 L586.9,748.7Z M573.7,695.6 L574.1,696.7 L575.3,696.8 L574.4,697.6 L574.7,698.8 L573.7,698.1 L572.6,698.8 L572.9,697.6 L572.0,696.8 L573.2,696.7Z M574.3,751.0 L574.7,752.0 L575.9,752.1 L575.0,752.9 L575.3,754.0 L574.3,753.4 L573.3,754.0 L573.6,752.9 L572.7,752.1 L573.8,752.0Z M571.3,725.0 L572.0,726.7 L573.7,726.8 L572.4,727.9 L572.8,729.7 L571.3,728.7 L569.8,729.7 L570.2,727.9 L568.9,726.8 L570.6,726.7Z M584.7,711.1 L585.2,712.2 L586.4,712.3 L585.5,713.1 L585.8,714.3 L584.7,713.6 L583.7,714.3 L584.0,713.1 L583.0,712.3 L584.3,712.2Z M582.0,711.9 L582.5,713.1 L583.8,713.2 L582.8,714.1 L583.1,715.3 L582.0,714.6 L580.9,715.3 L581.2,714.1 L580.2,713.2 L581.5,713.1Z M583.0,717.7 L583.5,719.0 L584.9,719.1 L583.8,720.0 L584.2,721.3 L583.0,720.6 L581.8,721.3 L582.1,720.0 L581.0,719.1 L582.4,719.0Z M571.7,717.1 L572.3,718.4 L573.7,718.5 L572.6,719.4 L573.0,720.8 L571.7,720.1 L570.5,720.8 L570.9,719.4 L569.8,718.5 L571.2,718.4Z M581.6,718.7 L582.0,719.7 L583.1,719.8 L582.3,720.5 L582.6,721.5 L581.6,721.0 L580.7,721.5 L580.9,720.5 L580.1,719.8 L581.2,719.7Z M574.7,723.3 L575.1,724.3 L576.1,724.4 L575.4,725.1 L575.6,726.1 L574.7,725.5 L573.8,726.1 L574.0,725.1 L573.2,724.4 L574.3,724.3Z M574.6,738.6 L575.2,740.0 L576.7,740.1 L575.6,741.1 L575.9,742.5 L574.6,741.7 L573.4,742.5 L573.7,741.1 L572.6,740.1 L574.1,740.0Z M565.2,707.9 L565.7,709.3 L567.3,709.4 L566.1,710.4 L566.5,711.9 L565.2,711.1 L563.9,711.9 L564.2,710.4 L563.0,709.4 L564.6,709.3Z M571.7,734.5 L572.3,736.2 L574.1,736.3 L572.8,737.5 L573.2,739.2 L571.7,738.3 L570.1,739.2 L570.6,737.5 L569.2,736.3 L571.0,736.2Z M582.7,757.4 L583.3,758.8 L584.8,759.0 L583.7,760.0 L584.0,761.4 L582.7,760.6 L581.4,761.4 L581.8,760.0 L580.6,759.0 L582.2,758.8Z M588.7,733.0 L589.4,734.6 L591.1,734.7 L589.8,735.8 L590.2,737.5 L588.7,736.6 L587.3,737.5 L587.7,735.8 L586.4,734.7 L588.1,734.6Z M568.6,680.9 L569.2,682.4 L570.9,682.6 L569.6,683.6 L570.0,685.3 L568.6,684.4 L567.2,685.3 L567.6,683.6 L566.3,682.6 L568.0,682.4Z M581.6,746.4 L582.2,747.7 L583.6,747.9 L582.5,748.8 L582.8,750.2 L581.6,749.4 L580.4,750.2 L580.7,748.8 L579.7,747.9 L581.1,747.7Z M582.6,668.9 L583.2,670.4 L584.8,670.5 L583.6,671.6 L584.0,673.2 L582.6,672.3 L581.1,673.2 L581.5,671.6 L580.3,670.5 L581.9,670.4Z M563.9,684.2 L564.5,685.7 L566.0,685.8 L564.9,686.8 L565.2,688.3 L563.9,687.5 L562.6,688.3 L562.9,686.8 L561.7,685.8 L563.3,685.7Z M574.6,697.0 L575.0,697.9 L576.0,698.0 L575.2,698.7 L575.5,699.7 L574.6,699.2 L573.7,699.7 L573.9,698.7 L573.1,698.0 L574.2,697.9Z M580.6,739.6 L581.0,740.7 L582.1,740.8 L581.3,741.5 L581.6,742.6 L580.6,742.0 L579.7,742.6 L579.9,741.5 L579.1,740.8 L580.2,740.7Z M580.8,683.3 L581.3,684.7 L582.8,684.8 L581.7,685.8 L582.1,687.3 L580.8,686.5 L579.5,687.3 L579.8,685.8 L578.7,684.8 L580.2,684.7Z M569.1,684.1 L569.6,685.4 L571.0,685.5 L570.0,686.4 L570.3,687.8 L569.1,687.0 L567.9,687.8 L568.2,686.4 L567.2,685.5 L568.6,685.4Z M588.5,718.3 L589.1,719.8 L590.7,719.9 L589.4,721.0 L589.8,722.5 L588.5,721.7 L587.1,722.5 L587.5,721.0 L586.2,719.9 L587.8,719.8Z M567.9,716.6 L568.5,718.0 L570.0,718.1 L568.8,719.1 L569.2,720.6 L567.9,719.8 L566.6,720.6 L566.9,719.1 L565.8,718.1 L567.3,718.0Z M586.5,738.1 L586.9,739.3 L588.2,739.4 L587.2,740.2 L587.5,741.4 L586.5,740.7 L585.4,741.4 L585.7,740.2 L584.8,739.4 L586.0,739.3Z M581.1,728.2 L581.7,729.6 L583.3,729.8 L582.1,730.8 L582.4,732.3 L581.1,731.5 L579.7,732.3 L580.1,730.8 L578.9,729.8 L580.5,729.6Z M579.4,765.8 L580.1,767.4 L581.8,767.6 L580.5,768.7 L580.9,770.5 L579.4,769.5 L577.9,770.5 L578.3,768.7 L577.0,767.6 L578.7,767.4Z M569.6,718.6 L570.2,719.9 L571.6,720.0 L570.5,720.9 L570.8,722.3 L569.6,721.6 L568.4,722.3 L568.8,720.9 L567.7,720.0 L569.1,719.9Z M571.6,668.9 L572.2,670.3 L573.7,670.4 L572.5,671.4 L572.9,672.9 L571.6,672.1 L570.3,672.9 L570.7,671.4 L569.5,670.4 L571.0,670.3Z M574.6,708.1 L575.0,709.2 L576.2,709.3 L575.3,710.0 L575.6,711.1 L574.6,710.5 L573.6,711.1 L573.9,710.0 L573.0,709.3 L574.2,709.2Z M576.0,768.8 L576.5,769.9 L577.8,770.0 L576.8,770.9 L577.1,772.1 L576.0,771.4 L574.9,772.1 L575.2,770.9 L574.3,770.0 L575.5,769.9Z M575.3,715.9 L575.7,716.9 L576.8,717.0 L576.0,717.7 L576.2,718.7 L575.3,718.2 L574.4,718.7 L574.6,717.7 L573.8,717.0 L574.9,716.9Z M575.1,763.2 L575.7,764.6 L577.3,764.8 L576.1,765.8 L576.4,767.3 L575.1,766.5 L573.8,767.3 L574.1,765.8 L573.0,764.8 L574.5,764.6Z M573.8,694.5 L574.3,695.8 L575.7,695.9 L574.6,696.8 L575.0,698.2 L573.8,697.5 L572.5,698.2 L572.9,696.8 L571.8,695.9 L573.2,695.8Z M568.9,725.5 L569.3,726.6 L570.4,726.6 L569.6,727.4 L569.8,728.5 L568.9,727.9 L567.9,728.5 L568.2,727.4 L567.3,726.6 L568.4,726.6Z M579.9,704.1 L580.5,705.8 L582.3,705.9 L581.0,707.1 L581.4,708.8 L579.9,707.9 L578.3,708.8 L578.8,707.1 L577.4,705.9 L579.2,705.8Z M577.5,715.2 L578.0,716.5 L579.4,716.6 L578.3,717.5 L578.7,718.9 L577.5,718.1 L576.3,718.9 L576.6,717.5 L575.6,716.6 L576.9,716.5Z M571.2,725.4 L571.6,726.5 L572.8,726.6 L571.9,727.4 L572.2,728.6 L571.2,727.9 L570.2,728.6 L570.4,727.4 L569.5,726.6 L570.7,726.5Z M580.7,710.2 L581.3,711.6 L582.7,711.7 L581.6,712.6 L582.0,714.1 L580.7,713.3 L579.4,714.1 L579.8,712.6 L578.7,711.7 L580.1,711.6Z M581.5,746.3 L582.2,747.9 L583.9,748.1 L582.6,749.2 L583.0,750.9 L581.5,750.0 L580.0,750.9 L580.4,749.2 L579.1,748.1 L580.8,747.9Z M584.8,759.9 L585.3,761.3 L586.7,761.4 L585.7,762.3 L586.0,763.7 L584.8,762.9 L583.6,763.7 L583.9,762.3 L582.8,761.4 L584.2,761.3Z M584.3,686.2 L584.8,687.3 L586.0,687.4 L585.1,688.2 L585.4,689.4 L584.3,688.8 L583.3,689.4 L583.6,688.2 L582.7,687.4 L583.9,687.3Z M582.6,696.5 L583.0,697.5 L584.0,697.6 L583.2,698.3 L583.5,699.3 L582.6,698.7 L581.7,699.3 L581.9,698.3 L581.1,697.6 L582.2,697.5Z M584.2,718.3 L584.7,719.6 L586.1,719.7 L585.1,720.6 L585.4,721.9 L584.2,721.2 L583.0,721.9 L583.4,720.6 L582.3,719.7 L583.7,719.6Z M575.1,733.8 L575.6,735.0 L576.9,735.1 L575.9,735.9 L576.2,737.2 L575.1,736.5 L574.0,737.2 L574.3,735.9 L573.3,735.1 L574.6,735.0Z M571.0,772.3 L571.4,773.3 L572.5,773.4 L571.7,774.0 L571.9,775.0 L571.0,774.5 L570.2,775.0 L570.4,774.0 L569.6,773.4 L570.6,773.3Z M587.6,765.7 L588.2,767.2 L589.8,767.3 L588.6,768.3 L589.0,769.8 L587.6,769.0 L586.3,769.8 L586.6,768.3 L585.4,767.3 L587.0,767.2Z M580.9,702.7 L581.4,703.9 L582.7,704.0 L581.7,704.9 L582.0,706.2 L580.9,705.5 L579.8,706.2 L580.1,704.9 L579.1,704.0 L580.4,703.9Z M570.9,701.9 L571.4,703.2 L572.7,703.3 L571.7,704.2 L572.0,705.5 L570.9,704.8 L569.7,705.5 L570.0,704.2 L569.0,703.3 L570.3,703.2Z M576.0,727.5 L576.4,728.5 L577.5,728.6 L576.7,729.4 L576.9,730.4 L576.0,729.9 L575.0,730.4 L575.3,729.4 L574.4,728.6 L575.5,728.5Z M579.1,695.1 L579.8,696.7 L581.5,696.8 L580.2,697.9 L580.6,699.6 L579.1,698.7 L577.6,699.6 L578.0,697.9 L576.7,696.8 L578.5,696.7Z M576.3,741.8 L576.9,743.1 L578.3,743.2 L577.2,744.2 L577.5,745.5 L576.3,744.8 L575.1,745.5 L575.4,744.2 L574.4,743.2 L575.8,743.1Z M578.7,744.8 L579.4,746.4 L581.2,746.6 L579.8,747.7 L580.2,749.4 L578.7,748.5 L577.2,749.4 L577.6,747.7 L576.3,746.6 L578.1,746.4Z M585.6,679.6 L586.2,681.0 L587.7,681.1 L586.5,682.1 L586.9,683.6 L585.6,682.8 L584.3,683.6 L584.6,682.1 L583.5,681.1 L585.0,681.0Z M590.1,679.3 L590.7,680.6 L592.1,680.7 L591.0,681.7 L591.4,683.1 L590.1,682.3 L588.9,683.1 L589.2,681.7 L588.1,680.7 L589.6,680.6Z M575.9,707.5 L576.5,709.0 L578.1,709.1 L576.9,710.1 L577.2,711.7 L575.9,710.8 L574.5,711.7 L574.9,710.1 L573.7,709.1 L575.3,709.0Z M565.5,733.0 L566.1,734.4 L567.6,734.6 L566.4,735.6 L566.8,737.0 L565.5,736.2 L564.2,737.0 L564.5,735.6 L563.4,734.6 L564.9,734.4Z M575.8,726.6 L576.5,728.2 L578.2,728.3 L576.9,729.4 L577.3,731.1 L575.8,730.2 L574.3,731.1 L574.7,729.4 L573.4,728.3 L575.1,728.2Z M581.7,742.8 L582.2,744.0 L583.4,744.1 L582.5,744.9 L582.8,746.2 L581.7,745.5 L580.6,746.2 L580.9,744.9 L579.9,744.1 L581.2,744.0Z M573.0,765.5 L573.7,767.1 L575.5,767.2 L574.1,768.4 L574.5,770.1 L573.0,769.2 L571.5,770.1 L571.9,768.4 L570.6,767.2 L572.3,767.1Z M575.7,762.9 L576.1,764.0 L577.4,764.1 L576.4,764.9 L576.7,766.2 L575.7,765.5 L574.6,766.2 L574.9,764.9 L573.9,764.1 L575.2,764.0Z M569.9,706.9 L570.4,707.9 L571.5,708.0 L570.6,708.8 L570.9,709.9 L569.9,709.3 L568.9,709.9 L569.2,708.8 L568.3,708.0 L569.5,707.9Z M578.7,735.0 L579.4,736.6 L581.1,736.7 L579.8,737.8 L580.2,739.5 L578.7,738.6 L577.3,739.5 L577.7,737.8 L576.4,736.7 L578.1,736.6Z M571.5,717.4 L572.2,719.0 L573.9,719.1 L572.6,720.2 L573.0,721.9 L571.5,721.0 L570.0,721.9 L570.4,720.2 L569.1,719.1 L570.8,719.0Z M583.7,717.1 L584.2,718.1 L585.3,718.2 L584.4,719.0 L584.7,720.1 L583.7,719.5 L582.8,720.1 L583.0,719.0 L582.2,718.2 L583.3,718.1Z M577.3,730.3 L577.8,731.5 L579.1,731.6 L578.2,732.4 L578.5,733.7 L577.3,733.0 L576.2,733.7 L576.5,732.4 L575.6,731.6 L576.9,731.5Z M580.5,730.1 L581.0,731.3 L582.2,731.4 L581.3,732.2 L581.6,733.4 L580.5,732.7 L579.5,733.4 L579.8,732.2 L578.8,731.4 L580.1,731.3Z M563.4,689.7 L564.0,691.2 L565.6,691.3 L564.4,692.4 L564.8,693.9 L563.4,693.1 L562.1,693.9 L562.4,692.4 L561.2,691.3 L562.8,691.2Z M570.3,734.1 L570.8,735.4 L572.3,735.6 L571.2,736.5 L571.5,737.9 L570.3,737.1 L569.1,737.9 L569.4,736.5 L568.3,735.6 L569.8,735.4Z" fill="none" stroke="#268f4c" stroke-width="0.42"/><path d="M557.7,719.5 L558.0,720.4 L559.0,720.5 L558.3,721.2 L558.5,722.1 L557.7,721.6 L556.8,722.1 L557.0,721.2 L556.3,720.5 L557.3,720.4Z M551.7,715.5 L552.0,716.2 L552.8,716.3 L552.2,716.8 L552.4,717.6 L551.7,717.2 L551.0,717.6 L551.1,716.8 L550.5,716.3 L551.3,716.2Z M555.7,722.3 L556.1,723.2 L557.0,723.3 L556.3,723.9 L556.5,724.8 L555.7,724.3 L554.9,724.8 L555.1,723.9 L554.4,723.3 L555.4,723.2Z M548.5,722.2 L549.0,723.3 L550.2,723.4 L549.3,724.2 L549.6,725.4 L548.5,724.7 L547.5,725.4 L547.8,724.2 L546.9,723.4 L548.1,723.3Z M556.5,719.8 L556.8,720.4 L557.5,720.5 L556.9,721.0 L557.1,721.7 L556.5,721.3 L555.9,721.7 L556.1,721.0 L555.5,720.5 L556.2,720.4Z M554.3,713.3 L554.7,714.2 L555.7,714.3 L554.9,714.9 L555.2,715.9 L554.3,715.4 L553.5,715.9 L553.7,714.9 L553.0,714.3 L553.9,714.2Z M556.0,719.9 L556.3,720.8 L557.3,720.9 L556.6,721.5 L556.8,722.4 L556.0,721.9 L555.2,722.4 L555.4,721.5 L554.7,720.9 L555.6,720.8Z M561.4,716.9 L561.9,718.0 L563.1,718.1 L562.1,718.9 L562.4,720.1 L561.4,719.4 L560.3,720.1 L560.6,718.9 L559.7,718.1 L560.9,718.0Z M560.8,689.1 L561.2,690.3 L562.5,690.4 L561.5,691.2 L561.8,692.5 L560.8,691.8 L559.7,692.5 L560.0,691.2 L559.0,690.4 L560.3,690.3Z M564.7,685.4 L565.2,686.5 L566.3,686.6 L565.5,687.4 L565.7,688.5 L564.7,687.9 L563.7,688.5 L564.0,687.4 L563.1,686.6 L564.3,686.5Z M561.6,691.7 L561.9,692.4 L562.6,692.4 L562.1,692.9 L562.3,693.6 L561.6,693.2 L561.0,693.6 L561.2,692.9 L560.7,692.4 L561.4,692.4Z M566.0,687.6 L566.5,688.7 L567.8,688.8 L566.8,689.6 L567.1,690.9 L566.0,690.2 L565.0,690.9 L565.2,689.6 L564.3,688.8 L565.5,688.7Z M563.9,688.4 L564.2,689.1 L565.0,689.2 L564.4,689.7 L564.5,690.4 L563.9,690.0 L563.2,690.4 L563.4,689.7 L562.8,689.2 L563.6,689.1Z M549.8,676.2 L550.2,677.1 L551.1,677.2 L550.4,677.8 L550.6,678.7 L549.8,678.2 L549.1,678.7 L549.3,677.8 L548.6,677.2 L549.5,677.1Z M554.7,681.5 L555.0,682.2 L555.7,682.2 L555.2,682.7 L555.3,683.3 L554.7,683.0 L554.2,683.3 L554.3,682.7 L553.8,682.2 L554.5,682.2Z M552.9,679.7 L553.4,680.9 L554.7,681.0 L553.7,681.9 L554.0,683.1 L552.9,682.4 L551.8,683.1 L552.1,681.9 L551.1,681.0 L552.4,680.9Z M549.9,671.6 L550.3,672.5 L551.3,672.6 L550.6,673.2 L550.8,674.2 L549.9,673.6 L549.1,674.2 L549.3,673.2 L548.6,672.6 L549.6,672.5Z M554.3,678.8 L554.8,680.0 L556.0,680.1 L555.1,680.9 L555.4,682.1 L554.3,681.5 L553.2,682.1 L553.5,680.9 L552.5,680.1 L553.8,680.0Z M553.3,674.6 L553.5,675.2 L554.2,675.3 L553.7,675.7 L553.9,676.4 L553.3,676.1 L552.7,676.4 L552.8,675.7 L552.3,675.3 L553.0,675.2Z M597.2,668.7 L597.5,669.5 L598.3,669.6 L597.7,670.1 L597.9,670.9 L597.2,670.5 L596.5,670.9 L596.7,670.1 L596.1,669.6 L596.9,669.5Z M603.7,675.5 L604.0,676.4 L605.0,676.4 L604.2,677.1 L604.5,678.0 L603.7,677.5 L602.8,678.0 L603.1,677.1 L602.3,676.4 L603.3,676.4Z M599.9,672.6 L600.4,673.7 L601.6,673.8 L600.7,674.6 L601.0,675.7 L599.9,675.1 L598.9,675.7 L599.2,674.6 L598.3,673.8 L599.5,673.7Z M600.6,671.3 L600.9,672.0 L601.7,672.1 L601.1,672.6 L601.3,673.4 L600.6,673.0 L599.9,673.4 L600.0,672.6 L599.4,672.1 L600.2,672.0Z M603.5,674.0 L604.0,675.1 L605.2,675.2 L604.3,676.0 L604.6,677.1 L603.5,676.5 L602.5,677.1 L602.8,676.0 L601.9,675.2 L603.1,675.1Z M590.1,678.1 L590.5,678.9 L591.3,679.0 L590.7,679.5 L590.9,680.3 L590.1,679.9 L589.4,680.3 L589.6,679.5 L589.0,679.0 L589.8,678.9Z M588.1,679.8 L588.6,681.0 L589.9,681.1 L588.9,681.9 L589.2,683.1 L588.1,682.5 L587.0,683.1 L587.3,681.9 L586.3,681.1 L587.6,681.0Z M594.1,680.6 L594.5,681.4 L595.3,681.5 L594.7,682.0 L594.8,682.8 L594.1,682.4 L593.4,682.8 L593.6,682.0 L593.0,681.5 L593.8,681.4Z M594.0,677.9 L594.2,678.6 L594.9,678.7 L594.4,679.1 L594.6,679.8 L594.0,679.5 L593.3,679.8 L593.5,679.1 L593.0,678.7 L593.7,678.6Z M595.2,678.6 L595.7,679.8 L596.9,679.9 L596.0,680.7 L596.2,681.9 L595.2,681.3 L594.1,681.9 L594.4,680.7 L593.5,679.9 L594.7,679.8Z M596.1,673.9 L596.6,675.1 L597.9,675.2 L596.9,676.1 L597.2,677.3 L596.1,676.7 L595.0,677.3 L595.3,676.1 L594.3,675.2 L595.6,675.1Z M594.8,676.9 L595.1,677.7 L595.9,677.7 L595.3,678.2 L595.5,679.0 L594.8,678.6 L594.1,679.0 L594.3,678.2 L593.7,677.7 L594.5,677.7Z M597.1,676.2 L597.4,676.8 L598.1,676.9 L597.5,677.3 L597.7,678.0 L597.1,677.7 L596.5,678.0 L596.6,677.3 L596.1,676.9 L596.8,676.8Z M595.3,772.8 L595.6,773.6 L596.5,773.7 L595.8,774.3 L596.0,775.1 L595.3,774.7 L594.6,775.1 L594.8,774.3 L594.1,773.7 L595.0,773.6Z M590.4,779.2 L590.7,779.9 L591.5,780.0 L590.9,780.4 L591.1,781.2 L590.4,780.8 L589.8,781.2 L590.0,780.4 L589.4,780.0 L590.1,779.9Z M597.3,772.1 L597.7,772.9 L598.6,773.0 L597.9,773.6 L598.1,774.5 L597.3,774.0 L596.5,774.5 L596.8,773.6 L596.1,773.0 L597.0,772.9Z M597.8,767.1 L598.1,768.0 L599.1,768.1 L598.4,768.7 L598.6,769.6 L597.8,769.1 L597.0,769.6 L597.2,768.7 L596.5,768.1 L597.4,768.0Z M598.6,773.6 L599.0,774.5 L599.9,774.6 L599.2,775.2 L599.4,776.1 L598.6,775.6 L597.9,776.1 L598.1,775.2 L597.4,774.6 L598.3,774.5Z M597.0,771.5 L597.4,772.4 L598.3,772.5 L597.6,773.0 L597.8,773.9 L597.0,773.5 L596.2,773.9 L596.5,773.0 L595.8,772.5 L596.7,772.4Z M595.8,772.0 L596.2,772.9 L597.1,773.0 L596.4,773.6 L596.6,774.5 L595.8,774.0 L595.0,774.5 L595.2,773.6 L594.5,773.0 L595.5,772.9Z M569.6,709.6 L570.0,710.4 L570.8,710.4 L570.2,711.0 L570.4,711.8 L569.6,711.4 L568.9,711.8 L569.1,711.0 L568.5,710.4 L569.3,710.4Z M562.9,699.9 L563.2,700.7 L564.1,700.8 L563.4,701.4 L563.6,702.3 L562.9,701.8 L562.1,702.3 L562.3,701.4 L561.6,700.8 L562.5,700.7Z M561.9,714.5 L562.3,715.5 L563.3,715.5 L562.5,716.2 L562.8,717.3 L561.9,716.7 L561.0,717.3 L561.2,716.2 L560.4,715.5 L561.5,715.5Z M562.6,711.8 L562.9,712.7 L563.8,712.7 L563.2,713.3 L563.4,714.2 L562.6,713.7 L561.8,714.2 L562.1,713.3 L561.4,712.7 L562.3,712.7Z M562.9,706.7 L563.4,707.7 L564.5,707.8 L563.7,708.6 L563.9,709.7 L562.9,709.1 L562.0,709.7 L562.2,708.6 L561.3,707.8 L562.5,707.7Z M566.9,703.9 L567.4,705.1 L568.7,705.2 L567.7,706.0 L568.0,707.3 L566.9,706.6 L565.8,707.3 L566.1,706.0 L565.2,705.2 L566.4,705.1Z M565.3,707.0 L565.7,707.9 L566.7,708.0 L565.9,708.6 L566.1,709.6 L565.3,709.1 L564.5,709.6 L564.7,708.6 L563.9,708.0 L564.9,707.9Z M606.8,749.8 L607.2,750.7 L608.2,750.8 L607.4,751.4 L607.7,752.4 L606.8,751.9 L606.0,752.4 L606.2,751.4 L605.4,750.8 L606.4,750.7Z M604.5,756.3 L604.8,757.0 L605.6,757.1 L605.0,757.6 L605.2,758.4 L604.5,757.9 L603.8,758.4 L604.0,757.6 L603.4,757.1 L604.2,757.0Z M606.7,757.7 L607.1,758.6 L608.0,758.7 L607.3,759.3 L607.5,760.3 L606.7,759.8 L605.8,760.3 L606.1,759.3 L605.3,758.7 L606.3,758.6Z M607.0,747.1 L607.4,748.1 L608.4,748.1 L607.7,748.8 L607.9,749.8 L607.0,749.2 L606.2,749.8 L606.4,748.8 L605.6,748.1 L606.6,748.1Z M604.7,752.6 L605.0,753.5 L606.0,753.6 L605.2,754.2 L605.5,755.1 L604.7,754.6 L603.9,755.1 L604.1,754.2 L603.4,753.6 L604.3,753.5Z M604.0,748.3 L604.4,749.3 L605.4,749.4 L604.6,750.0 L604.8,751.0 L604.0,750.5 L603.1,751.0 L603.3,750.0 L602.5,749.4 L603.6,749.3Z M551.0,771.3 L551.4,772.1 L552.3,772.2 L551.6,772.8 L551.8,773.8 L551.0,773.3 L550.2,773.8 L550.4,772.8 L549.7,772.2 L550.7,772.1Z M561.1,772.4 L561.4,773.1 L562.2,773.2 L561.6,773.7 L561.8,774.5 L561.1,774.1 L560.4,774.5 L560.6,773.7 L560.0,773.2 L560.8,773.1Z M555.0,775.0 L555.4,776.2 L556.7,776.3 L555.7,777.1 L556.0,778.3 L555.0,777.6 L553.9,778.3 L554.2,777.1 L553.2,776.3 L554.5,776.2Z M552.9,776.5 L553.4,777.5 L554.6,777.6 L553.7,778.4 L553.9,779.5 L552.9,778.9 L552.0,779.5 L552.2,778.4 L551.3,777.6 L552.5,777.5Z M552.9,767.4 L553.2,768.2 L554.1,768.2 L553.4,768.8 L553.6,769.7 L552.9,769.2 L552.2,769.7 L552.4,768.8 L551.7,768.2 L552.6,768.2Z M552.1,775.4 L552.4,776.2 L553.3,776.3 L552.6,776.8 L552.8,777.7 L552.1,777.2 L551.4,777.7 L551.6,776.8 L550.9,776.3 L551.8,776.2Z M552.8,699.7 L553.1,700.4 L553.9,700.5 L553.3,701.0 L553.5,701.8 L552.8,701.4 L552.1,701.8 L552.3,701.0 L551.7,700.5 L552.5,700.4Z M556.4,693.7 L556.7,694.5 L557.6,694.6 L556.9,695.1 L557.1,695.9 L556.4,695.5 L555.7,695.9 L555.9,695.1 L555.2,694.6 L556.1,694.5Z M549.6,692.1 L549.9,692.8 L550.6,692.9 L550.1,693.4 L550.2,694.1 L549.6,693.7 L549.0,694.1 L549.1,693.4 L548.6,692.9 L549.3,692.8Z M553.3,693.2 L553.6,693.8 L554.3,693.9 L553.7,694.3 L553.9,695.0 L553.3,694.6 L552.7,695.0 L552.9,694.3 L552.4,693.9 L553.0,693.8Z M555.9,691.0 L556.3,691.9 L557.2,692.0 L556.5,692.6 L556.7,693.6 L555.9,693.1 L555.1,693.6 L555.3,692.6 L554.5,692.0 L555.5,691.9Z M551.1,675.7 L551.4,676.4 L552.3,676.5 L551.6,677.0 L551.8,677.8 L551.1,677.4 L550.4,677.8 L550.6,677.0 L550.0,676.5 L550.8,676.4Z M559.4,681.0 L559.7,681.7 L560.5,681.8 L559.9,682.3 L560.1,683.1 L559.4,682.6 L558.7,683.1 L558.9,682.3 L558.3,681.8 L559.1,681.7Z M551.6,675.4 L552.0,676.5 L553.1,676.5 L552.3,677.3 L552.5,678.3 L551.6,677.8 L550.6,678.3 L550.9,677.3 L550.1,676.5 L551.2,676.5Z M560.5,678.9 L561.0,680.0 L562.1,680.1 L561.2,680.8 L561.5,681.9 L560.5,681.3 L559.6,681.9 L559.8,680.8 L559.0,680.1 L560.1,680.0Z M555.5,679.8 L555.8,680.6 L556.7,680.7 L556.0,681.3 L556.2,682.1 L555.5,681.7 L554.7,682.1 L554.9,681.3 L554.2,680.7 L555.1,680.6Z M555.7,727.5 L556.2,728.6 L557.4,728.7 L556.5,729.5 L556.8,730.6 L555.7,730.0 L554.7,730.6 L555.0,729.5 L554.1,728.7 L555.3,728.6Z M548.1,732.3 L548.5,733.3 L549.6,733.4 L548.8,734.1 L549.0,735.2 L548.1,734.6 L547.2,735.2 L547.4,734.1 L546.6,733.4 L547.7,733.3Z M551.4,731.2 L551.8,732.1 L552.8,732.2 L552.0,732.8 L552.3,733.8 L551.4,733.3 L550.6,733.8 L550.8,732.8 L550.0,732.2 L551.0,732.1Z M552.0,726.6 L552.4,727.3 L553.1,727.4 L552.5,727.9 L552.7,728.6 L552.0,728.2 L551.4,728.6 L551.6,727.9 L551.0,727.4 L551.7,727.3Z M548.7,731.9 L549.2,733.1 L550.5,733.2 L549.5,734.0 L549.8,735.3 L548.7,734.6 L547.6,735.3 L547.9,734.0 L546.9,733.2 L548.2,733.1Z M549.1,728.3 L549.3,729.0 L550.1,729.0 L549.5,729.5 L549.7,730.2 L549.1,729.8 L548.4,730.2 L548.6,729.5 L548.1,729.0 L548.8,729.0Z M550.5,724.2 L550.9,725.1 L551.8,725.2 L551.1,725.8 L551.3,726.7 L550.5,726.2 L549.7,726.7 L549.9,725.8 L549.2,725.2 L550.1,725.1Z M602.3,734.0 L602.5,734.6 L603.2,734.7 L602.7,735.1 L602.9,735.8 L602.3,735.4 L601.7,735.8 L601.8,735.1 L601.3,734.7 L602.0,734.6Z M605.3,733.4 L605.8,734.5 L607.0,734.6 L606.0,735.4 L606.3,736.6 L605.3,735.9 L604.3,736.6 L604.6,735.4 L603.7,734.6 L604.8,734.5Z M597.1,739.4 L597.4,740.3 L598.4,740.3 L597.7,741.0 L597.9,741.9 L597.1,741.4 L596.2,741.9 L596.5,741.0 L595.7,740.3 L596.7,740.3Z M602.9,736.1 L603.3,737.0 L604.3,737.1 L603.5,737.8 L603.7,738.8 L602.9,738.2 L602.0,738.8 L602.2,737.8 L601.4,737.1 L602.5,737.0Z M598.1,730.6 L598.4,731.3 L599.1,731.3 L598.6,731.8 L598.8,732.6 L598.1,732.2 L597.5,732.6 L597.7,731.8 L597.1,731.3 L597.8,731.3Z M600.4,733.5 L600.7,734.4 L601.7,734.5 L601.0,735.2 L601.2,736.1 L600.4,735.6 L599.5,736.1 L599.7,735.2 L599.0,734.5 L600.0,734.4Z M604.2,737.7 L604.5,738.6 L605.6,738.7 L604.8,739.4 L605.0,740.4 L604.2,739.8 L603.3,740.4 L603.5,739.4 L602.8,738.7 L603.8,738.6Z M588.1,753.6 L588.4,754.3 L589.1,754.3 L588.6,754.8 L588.7,755.5 L588.1,755.1 L587.5,755.5 L587.7,754.8 L587.1,754.3 L587.8,754.3Z M592.4,745.9 L592.9,746.9 L593.9,747.0 L593.1,747.7 L593.4,748.7 L592.4,748.1 L591.5,748.7 L591.8,747.7 L591.0,747.0 L592.0,746.9Z M589.2,746.2 L589.6,747.3 L590.7,747.3 L589.9,748.1 L590.1,749.2 L589.2,748.6 L588.2,749.2 L588.5,748.1 L587.6,747.3 L588.7,747.3Z M587.5,741.1 L587.9,742.1 L589.0,742.2 L588.2,742.9 L588.4,743.9 L587.5,743.4 L586.6,743.9 L586.8,742.9 L586.0,742.2 L587.1,742.1Z M592.8,743.8 L593.2,744.8 L594.3,744.9 L593.5,745.6 L593.7,746.6 L592.8,746.1 L591.9,746.6 L592.2,745.6 L591.4,744.9 L592.4,744.8Z M554.8,673.4 L555.1,674.1 L555.9,674.2 L555.3,674.7 L555.5,675.4 L554.8,675.0 L554.1,675.4 L554.3,674.7 L553.7,674.2 L554.5,674.1Z M558.9,669.8 L559.2,670.5 L560.0,670.6 L559.4,671.1 L559.6,671.9 L558.9,671.5 L558.2,671.9 L558.4,671.1 L557.8,670.6 L558.6,670.5Z M557.7,666.3 L558.1,667.3 L559.3,667.4 L558.4,668.1 L558.7,669.2 L557.7,668.6 L556.8,669.2 L557.0,668.1 L556.2,667.4 L557.3,667.3Z M551.7,668.2 L552.1,669.0 L553.0,669.1 L552.3,669.7 L552.5,670.6 L551.7,670.1 L550.9,670.6 L551.2,669.7 L550.5,669.1 L551.4,669.0Z M554.0,666.2 L554.3,667.0 L555.2,667.1 L554.5,667.6 L554.7,668.5 L554.0,668.0 L553.2,668.5 L553.4,667.6 L552.7,667.1 L553.6,667.0Z M553.2,673.9 L553.5,674.7 L554.4,674.8 L553.7,675.4 L553.9,676.3 L553.2,675.8 L552.4,676.3 L552.6,675.4 L551.9,674.8 L552.8,674.7Z M551.1,671.0 L551.4,671.6 L552.1,671.6 L551.6,672.1 L551.7,672.8 L551.1,672.4 L550.5,672.8 L550.7,672.1 L550.2,671.6 L550.9,671.6Z M599.9,743.6 L600.2,744.5 L601.2,744.5 L600.4,745.2 L600.7,746.1 L599.9,745.6 L599.1,746.1 L599.3,745.2 L598.6,744.5 L599.5,744.5Z M599.6,749.9 L599.9,750.7 L600.9,750.8 L600.2,751.4 L600.4,752.3 L599.6,751.8 L598.8,752.3 L599.0,751.4 L598.3,750.8 L599.2,750.7Z M598.1,744.8 L598.5,745.8 L599.6,745.9 L598.7,746.6 L599.0,747.7 L598.1,747.1 L597.1,747.7 L597.4,746.6 L596.5,745.9 L597.6,745.8Z M598.5,748.6 L599.0,749.7 L600.2,749.8 L599.3,750.6 L599.6,751.9 L598.5,751.2 L597.4,751.9 L597.7,750.6 L596.7,749.8 L598.0,749.7Z M594.8,753.6 L595.1,754.3 L595.9,754.3 L595.3,754.8 L595.5,755.5 L594.8,755.2 L594.2,755.5 L594.4,754.8 L593.8,754.3 L594.6,754.3Z M596.9,741.6 L597.3,742.6 L598.4,742.7 L597.6,743.4 L597.9,744.5 L596.9,743.9 L596.0,744.5 L596.2,743.4 L595.4,742.7 L596.5,742.6Z M597.0,748.2 L597.3,748.9 L598.0,748.9 L597.5,749.4 L597.6,750.1 L597.0,749.7 L596.4,750.1 L596.5,749.4 L596.0,748.9 L596.7,748.9Z M560.6,690.1 L560.9,690.8 L561.7,690.9 L561.1,691.4 L561.3,692.1 L560.6,691.7 L560.0,692.1 L560.2,691.4 L559.6,690.9 L560.3,690.8Z M599.2,766.2 L599.5,767.0 L600.3,767.1 L599.7,767.7 L599.9,768.5 L599.2,768.0 L598.4,768.5 L598.6,767.7 L598.0,767.1 L598.8,767.0Z M588.0,670.4 L588.4,671.4 L589.5,671.5 L588.6,672.2 L588.9,673.2 L588.0,672.7 L587.1,673.2 L587.3,672.2 L586.5,671.5 L587.6,671.4Z M576.1,699.0 L576.5,700.0 L577.7,700.1 L576.8,700.9 L577.1,702.0 L576.1,701.4 L575.1,702.0 L575.4,700.9 L574.5,700.1 L575.6,700.0Z M569.2,705.6 L569.5,706.4 L570.4,706.5 L569.7,707.0 L569.9,707.9 L569.2,707.4 L568.5,707.9 L568.7,707.0 L568.0,706.5 L568.9,706.4Z M553.4,677.5 L553.7,678.4 L554.7,678.5 L554.0,679.1 L554.2,680.0 L553.4,679.5 L552.6,680.0 L552.8,679.1 L552.1,678.5 L553.0,678.4Z M558.1,725.0 L558.5,726.0 L559.5,726.0 L558.7,726.7 L559.0,727.7 L558.1,727.2 L557.2,727.7 L557.4,726.7 L556.7,726.0 L557.7,726.0Z M579.1,749.2 L579.5,749.9 L580.2,750.0 L579.6,750.5 L579.8,751.3 L579.1,750.9 L578.5,751.3 L578.6,750.5 L578.0,750.0 L578.8,749.9Z M560.5,744.6 L560.8,745.4 L561.6,745.5 L561.0,746.0 L561.2,746.8 L560.5,746.4 L559.7,746.8 L559.9,746.0 L559.3,745.5 L560.1,745.4Z M571.1,745.6 L571.6,746.7 L572.7,746.8 L571.8,747.5 L572.1,748.6 L571.1,748.0 L570.2,748.6 L570.4,747.5 L569.6,746.8 L570.7,746.7Z M575.7,771.6 L576.0,772.2 L576.7,772.3 L576.1,772.7 L576.3,773.4 L575.7,773.1 L575.1,773.4 L575.2,772.7 L574.7,772.3 L575.4,772.2Z M560.6,730.5 L561.0,731.5 L562.1,731.6 L561.2,732.3 L561.5,733.3 L560.6,732.8 L559.7,733.3 L559.9,732.3 L559.1,731.6 L560.2,731.5Z M587.1,706.2 L587.5,707.1 L588.4,707.2 L587.7,707.8 L587.9,708.8 L587.1,708.3 L586.2,708.8 L586.5,707.8 L585.7,707.2 L586.7,707.1Z M593.2,681.7 L593.6,682.5 L594.5,682.6 L593.8,683.2 L594.0,684.1 L593.2,683.6 L592.5,684.1 L592.7,683.2 L592.0,682.6 L592.9,682.5Z M567.8,740.6 L568.1,741.4 L568.8,741.4 L568.3,741.9 L568.4,742.7 L567.8,742.3 L567.1,742.7 L567.3,741.9 L566.7,741.4 L567.5,741.4Z M575.0,731.1 L575.3,731.9 L576.1,731.9 L575.5,732.5 L575.7,733.3 L575.0,732.8 L574.3,733.3 L574.5,732.5 L573.9,731.9 L574.7,731.9Z M549.7,670.2 L550.1,671.0 L550.9,671.0 L550.3,671.6 L550.5,672.4 L549.7,672.0 L549.0,672.4 L549.2,671.6 L548.6,671.0 L549.4,671.0Z M565.1,717.1 L565.6,718.2 L566.8,718.3 L565.9,719.1 L566.2,720.3 L565.1,719.7 L564.1,720.3 L564.4,719.1 L563.5,718.3 L564.7,718.2Z M601.6,669.6 L602.1,670.7 L603.3,670.8 L602.4,671.6 L602.6,672.7 L601.6,672.1 L600.6,672.7 L600.9,671.6 L600.0,670.8 L601.2,670.7Z M575.4,670.9 L575.7,671.6 L576.5,671.7 L575.9,672.2 L576.0,673.0 L575.4,672.6 L574.7,673.0 L574.9,672.2 L574.2,671.7 L575.0,671.6Z M572.6,760.8 L573.0,761.7 L573.9,761.8 L573.2,762.4 L573.4,763.2 L572.6,762.8 L571.9,763.2 L572.1,762.4 L571.4,761.8 L572.3,761.7Z M574.9,727.2 L575.3,728.1 L576.2,728.1 L575.5,728.8 L575.7,729.7 L574.9,729.2 L574.1,729.7 L574.3,728.8 L573.6,728.1 L574.5,728.1Z M574.5,714.5 L574.8,715.2 L575.5,715.2 L575.0,715.7 L575.1,716.4 L574.5,716.0 L573.9,716.4 L574.1,715.7 L573.5,715.2 L574.2,715.2Z M566.4,709.6 L566.7,710.5 L567.7,710.6 L567.0,711.2 L567.2,712.2 L566.4,711.7 L565.5,712.2 L565.7,711.2 L565.0,710.6 L566.0,710.5Z M562.9,713.7 L563.2,714.5 L564.0,714.5 L563.4,715.1 L563.6,715.9 L562.9,715.5 L562.1,715.9 L562.3,715.1 L561.7,714.5 L562.5,714.5Z M587.6,741.2 L588.0,742.2 L589.1,742.3 L588.3,743.1 L588.5,744.2 L587.6,743.6 L586.6,744.2 L586.8,743.1 L586.0,742.3 L587.1,742.2Z M579.4,724.1 L579.8,725.1 L580.9,725.2 L580.1,726.0 L580.3,727.1 L579.4,726.5 L578.4,727.1 L578.7,726.0 L577.8,725.2 L578.9,725.1Z M573.7,688.8 L573.9,689.4 L574.7,689.5 L574.1,690.0 L574.3,690.7 L573.7,690.3 L573.0,690.7 L573.2,690.0 L572.7,689.5 L573.4,689.4Z M591.6,755.3 L592.0,756.1 L592.8,756.2 L592.2,756.7 L592.4,757.5 L591.6,757.1 L590.9,757.5 L591.1,756.7 L590.5,756.2 L591.3,756.1Z M604.1,739.0 L604.6,740.1 L605.7,740.2 L604.8,741.0 L605.1,742.1 L604.1,741.5 L603.1,742.1 L603.4,741.0 L602.5,740.2 L603.7,740.1Z M561.7,697.9 L562.1,698.9 L563.1,698.9 L562.3,699.6 L562.5,700.6 L561.7,700.1 L560.8,700.6 L561.0,699.6 L560.3,698.9 L561.3,698.9Z M560.6,716.5 L560.9,717.2 L561.7,717.3 L561.1,717.8 L561.3,718.6 L560.6,718.2 L560.0,718.6 L560.1,717.8 L559.6,717.3 L560.3,717.2Z M583.3,720.5 L583.6,721.2 L584.3,721.2 L583.8,721.7 L583.9,722.4 L583.3,722.0 L582.7,722.4 L582.9,721.7 L582.4,721.2 L583.1,721.2Z M581.5,736.0 L581.9,737.1 L583.1,737.2 L582.2,738.0 L582.5,739.1 L581.5,738.5 L580.5,739.1 L580.7,738.0 L579.8,737.2 L581.0,737.1Z M594.3,745.3 L594.7,746.3 L595.8,746.3 L595.0,747.0 L595.2,748.0 L594.3,747.5 L593.4,748.0 L593.7,747.0 L592.9,746.3 L593.9,746.3Z M583.0,749.4 L583.4,750.3 L584.4,750.4 L583.6,751.0 L583.9,751.9 L583.0,751.4 L582.2,751.9 L582.4,751.0 L581.7,750.4 L582.7,750.3Z M564.5,686.3 L564.8,687.2 L565.7,687.2 L565.0,687.8 L565.3,688.7 L564.5,688.3 L563.7,688.7 L563.9,687.8 L563.2,687.2 L564.1,687.2Z M564.5,697.1 L564.7,697.8 L565.5,697.8 L564.9,698.3 L565.1,699.0 L564.5,698.6 L563.8,699.0 L564.0,698.3 L563.5,697.8 L564.2,697.8Z M575.3,686.3 L575.6,687.2 L576.6,687.3 L575.9,687.9 L576.1,688.9 L575.3,688.4 L574.4,688.9 L574.6,687.9 L573.9,687.3 L574.9,687.2Z M566.6,742.5 L567.1,743.6 L568.3,743.7 L567.4,744.4 L567.6,745.6 L566.6,745.0 L565.6,745.6 L565.9,744.4 L565.0,743.7 L566.2,743.6Z M597.2,741.6 L597.5,742.3 L598.2,742.4 L597.6,742.9 L597.8,743.6 L597.2,743.2 L596.5,743.6 L596.7,742.9 L596.1,742.4 L596.9,742.3Z M589.7,719.5 L590.1,720.5 L591.1,720.5 L590.3,721.2 L590.6,722.2 L589.7,721.7 L588.8,722.2 L589.0,721.2 L588.2,720.5 L589.3,720.5Z M600.6,764.0 L601.0,765.1 L602.2,765.2 L601.3,765.9 L601.6,767.1 L600.6,766.5 L599.6,767.1 L599.8,765.9 L598.9,765.2 L600.1,765.1Z M589.0,712.2 L589.3,712.9 L590.0,712.9 L589.4,713.4 L589.6,714.1 L589.0,713.7 L588.4,714.1 L588.5,713.4 L588.0,712.9 L588.7,712.9Z M563.1,685.9 L563.5,686.8 L564.6,686.9 L563.8,687.6 L564.0,688.7 L563.1,688.1 L562.2,688.7 L562.5,687.6 L561.7,686.9 L562.7,686.8Z M583.0,712.3 L583.4,713.2 L584.3,713.2 L583.6,713.9 L583.8,714.8 L583.0,714.3 L582.2,714.8 L582.4,713.9 L581.7,713.2 L582.6,713.2Z M593.7,776.8 L594.2,777.8 L595.3,777.9 L594.4,778.7 L594.7,779.8 L593.7,779.2 L592.7,779.8 L593.0,778.7 L592.1,777.9 L593.3,777.8Z M580.6,736.7 L581.0,737.8 L582.2,737.9 L581.3,738.6 L581.6,739.8 L580.6,739.2 L579.6,739.8 L579.8,738.6 L578.9,737.9 L580.1,737.8Z M583.3,747.8 L583.7,748.8 L584.7,748.8 L583.9,749.5 L584.2,750.5 L583.3,750.0 L582.4,750.5 L582.7,749.5 L581.9,748.8 L582.9,748.8Z M556.7,760.0 L557.2,761.2 L558.4,761.2 L557.4,762.0 L557.7,763.2 L556.7,762.6 L555.7,763.2 L556.0,762.0 L555.0,761.2 L556.2,761.2Z M606.6,713.5 L607.0,714.4 L608.0,714.4 L607.2,715.1 L607.4,716.0 L606.6,715.5 L605.8,716.0 L606.0,715.1 L605.2,714.4 L606.2,714.4Z M559.8,726.9 L560.1,727.6 L560.8,727.6 L560.3,728.1 L560.4,728.7 L559.8,728.4 L559.2,728.7 L559.4,728.1 L558.9,727.6 L559.6,727.6Z M581.6,691.0 L582.0,692.0 L583.0,692.0 L582.3,692.7 L582.5,693.7 L581.6,693.2 L580.8,693.7 L581.0,692.7 L580.2,692.0 L581.3,692.0Z M569.6,713.1 L569.8,713.8 L570.5,713.9 L570.0,714.3 L570.2,715.0 L569.6,714.6 L569.0,715.0 L569.1,714.3 L568.6,713.9 L569.3,713.8Z M594.0,747.4 L594.3,748.1 L595.0,748.2 L594.4,748.7 L594.6,749.5 L594.0,749.1 L593.3,749.5 L593.5,748.7 L592.9,748.2 L593.7,748.1Z M601.1,713.9 L601.3,714.5 L602.0,714.6 L601.5,715.0 L601.7,715.7 L601.1,715.4 L600.5,715.7 L600.6,715.0 L600.1,714.6 L600.8,714.5Z M591.9,753.4 L592.2,754.0 L592.9,754.1 L592.3,754.6 L592.5,755.3 L591.9,754.9 L591.3,755.3 L591.5,754.6 L590.9,754.1 L591.6,754.0Z M582.2,723.6 L582.7,724.7 L583.8,724.8 L582.9,725.6 L583.2,726.7 L582.2,726.1 L581.2,726.7 L581.5,725.6 L580.6,724.8 L581.8,724.7Z M578.7,699.8 L579.2,700.9 L580.4,701.0 L579.5,701.8 L579.8,703.0 L578.7,702.3 L577.7,703.0 L578.0,701.8 L577.1,701.0 L578.3,700.9Z M556.3,710.4 L556.8,711.5 L558.0,711.6 L557.1,712.4 L557.3,713.5 L556.3,712.9 L555.3,713.5 L555.6,712.4 L554.7,711.6 L555.9,711.5Z M578.9,672.9 L579.2,673.8 L580.1,673.8 L579.4,674.4 L579.6,675.3 L578.9,674.8 L578.1,675.3 L578.3,674.4 L577.6,673.8 L578.5,673.8Z M578.2,740.7 L578.5,741.3 L579.2,741.4 L578.7,741.9 L578.8,742.5 L578.2,742.2 L577.6,742.5 L577.8,741.9 L577.2,741.4 L577.9,741.3Z" fill="#3c9a3c" fill-opacity="0.75" stroke="#2a8a40" stroke-width="0.4"/><rect x="565.3" y="675.5" width="21.6" height="87.8" fill="none" stroke="#555" stroke-width="0.5"/><rect x="569.4" y="678.0" width="13.5" height="82.4" fill="none" stroke="#3a6a4a" stroke-width="0.5"/><path d="M576.1,661.5 L578.4,705.5 L578.2,735.5 L577.0,779.5 L575.4,779.5 L574.6,735.5 L574.4,705.5 Z" fill="#178c47"/><path d="M576.1,652.5 L576.1,662.5" stroke="#c98a4a" stroke-width="1.8" opacity="0.85"/></g>
<g><rect x="565.3" y="865.5" width="21.6" height="87.8" fill="#fff" stroke="#555" stroke-width="0.6"/><rect x="569.4" y="868.0" width="13.5" height="82.4" fill="#fff" stroke="#555" stroke-width="0.6"/><path d="M568.0,918.7 L568.6,920.3 L570.4,920.4 L569.1,921.6 L569.5,923.2 L568.0,922.3 L566.5,923.2 L566.9,921.6 L565.6,920.4 L567.3,920.3Z M568.4,915.3 L569.0,916.6 L570.4,916.7 L569.3,917.7 L569.7,919.1 L568.4,918.4 L567.1,919.1 L567.5,917.7 L566.3,916.7 L567.8,916.6Z M579.6,941.4 L580.1,942.7 L581.6,942.9 L580.5,943.8 L580.8,945.3 L579.6,944.5 L578.3,945.3 L578.6,943.8 L577.5,942.9 L579.0,942.7Z M577.1,894.4 L577.6,895.5 L578.9,895.6 L577.9,896.5 L578.2,897.7 L577.1,897.0 L576.0,897.7 L576.3,896.5 L575.4,895.6 L576.6,895.5Z M586.7,937.7 L587.3,939.1 L588.9,939.3 L587.7,940.3 L588.1,941.8 L586.7,941.0 L585.4,941.8 L585.8,940.3 L584.6,939.3 L586.1,939.1Z M594.9,929.8 L595.6,931.5 L597.4,931.6 L596.0,932.7 L596.4,934.5 L594.9,933.5 L593.4,934.5 L593.8,932.7 L592.5,931.6 L594.3,931.5Z M571.0,872.5 L571.4,873.6 L572.6,873.7 L571.7,874.4 L571.9,875.6 L571.0,875.0 L570.0,875.6 L570.2,874.4 L569.4,873.7 L570.5,873.6Z M584.6,911.5 L585.0,912.5 L586.1,912.6 L585.3,913.3 L585.5,914.3 L584.6,913.8 L583.7,914.3 L583.9,913.3 L583.1,912.6 L584.2,912.5Z M578.2,929.4 L578.6,930.4 L579.6,930.5 L578.8,931.2 L579.1,932.2 L578.2,931.7 L577.3,932.2 L577.5,931.2 L576.7,930.5 L577.8,930.4Z M569.2,914.6 L569.8,916.1 L571.5,916.3 L570.2,917.3 L570.6,919.0 L569.2,918.1 L567.7,919.0 L568.1,917.3 L566.9,916.3 L568.5,916.1Z M566.6,902.1 L567.2,903.4 L568.6,903.6 L567.5,904.5 L567.9,905.8 L566.6,905.1 L565.4,905.8 L565.8,904.5 L564.7,903.6 L566.1,903.4Z M572.4,878.5 L572.8,879.6 L574.1,879.7 L573.1,880.5 L573.4,881.7 L572.4,881.1 L571.3,881.7 L571.6,880.5 L570.7,879.7 L571.9,879.6Z M598.7,905.6 L599.4,907.1 L601.0,907.2 L599.8,908.3 L600.2,910.0 L598.7,909.1 L597.3,910.0 L597.7,908.3 L596.4,907.2 L598.1,907.1Z M574.7,881.7 L575.2,882.8 L576.4,882.9 L575.5,883.7 L575.8,884.9 L574.7,884.3 L573.7,884.9 L574.0,883.7 L573.1,882.9 L574.3,882.8Z M575.7,918.6 L576.3,920.1 L577.9,920.3 L576.7,921.3 L577.0,922.9 L575.7,922.0 L574.3,922.9 L574.7,921.3 L573.4,920.3 L575.1,920.1Z M565.6,942.7 L566.1,944.0 L567.5,944.1 L566.5,944.9 L566.8,946.2 L565.6,945.5 L564.5,946.2 L564.8,944.9 L563.8,944.1 L565.1,944.0Z M589.0,892.3 L589.4,893.3 L590.5,893.4 L589.7,894.0 L589.9,895.1 L589.0,894.5 L588.1,895.1 L588.4,894.0 L587.6,893.4 L588.6,893.3Z M557.6,923.9 L558.1,925.1 L559.4,925.2 L558.4,926.1 L558.7,927.4 L557.6,926.7 L556.4,927.4 L556.7,926.1 L555.7,925.2 L557.1,925.1Z M584.9,926.5 L585.5,928.0 L587.1,928.1 L585.9,929.2 L586.3,930.8 L584.9,929.9 L583.5,930.8 L583.9,929.2 L582.6,928.1 L584.3,928.0Z M575.9,920.8 L576.4,922.0 L577.7,922.1 L576.7,922.9 L577.0,924.1 L575.9,923.5 L574.8,924.1 L575.1,922.9 L574.2,922.1 L575.4,922.0Z M587.5,896.2 L587.9,897.2 L589.0,897.3 L588.2,898.0 L588.4,899.1 L587.5,898.5 L586.5,899.1 L586.8,898.0 L585.9,897.3 L587.0,897.2Z M576.4,922.2 L576.8,923.2 L577.9,923.3 L577.0,924.0 L577.3,925.1 L576.4,924.5 L575.5,925.1 L575.7,924.0 L574.9,923.3 L576.0,923.2Z M577.5,888.8 L578.1,890.2 L579.6,890.3 L578.4,891.2 L578.8,892.7 L577.5,891.9 L576.3,892.7 L576.6,891.2 L575.5,890.3 L577.0,890.2Z M572.1,913.7 L572.7,915.2 L574.3,915.3 L573.1,916.4 L573.5,917.9 L572.1,917.1 L570.8,917.9 L571.1,916.4 L569.9,915.3 L571.5,915.2Z M582.9,940.5 L583.4,941.6 L584.5,941.6 L583.6,942.4 L583.9,943.5 L582.9,942.9 L582.0,943.5 L582.2,942.4 L581.4,941.6 L582.5,941.6Z M572.2,917.9 L572.6,919.1 L573.9,919.2 L572.9,920.0 L573.2,921.2 L572.2,920.6 L571.1,921.2 L571.4,920.0 L570.5,919.2 L571.7,919.1Z M588.4,897.5 L588.8,898.7 L590.1,898.8 L589.1,899.6 L589.4,900.8 L588.4,900.2 L587.3,900.8 L587.6,899.6 L586.6,898.8 L587.9,898.7Z M579.8,893.4 L580.3,894.7 L581.6,894.8 L580.6,895.7 L580.9,896.9 L579.8,896.3 L578.7,896.9 L579.0,895.7 L578.0,894.8 L579.3,894.7Z M582.2,872.7 L582.7,873.7 L583.8,873.8 L582.9,874.5 L583.2,875.6 L582.2,875.0 L581.3,875.6 L581.6,874.5 L580.7,873.8 L581.8,873.7Z M581.0,906.3 L581.5,907.4 L582.7,907.5 L581.8,908.3 L582.0,909.5 L581.0,908.9 L580.0,909.5 L580.2,908.3 L579.3,907.5 L580.5,907.4Z M577.2,880.3 L577.6,881.4 L578.9,881.5 L577.9,882.3 L578.2,883.6 L577.2,882.9 L576.1,883.6 L576.4,882.3 L575.4,881.5 L576.7,881.4Z M578.9,913.4 L579.5,914.7 L581.0,914.8 L579.9,915.8 L580.2,917.2 L578.9,916.5 L577.7,917.2 L578.0,915.8 L576.9,914.8 L578.4,914.7Z M576.7,949.6 L577.2,950.8 L578.5,950.9 L577.5,951.8 L577.8,953.0 L576.7,952.4 L575.6,953.0 L575.9,951.8 L574.9,950.9 L576.2,950.8Z M559.8,930.2 L560.4,931.5 L561.8,931.6 L560.7,932.5 L561.0,933.9 L559.8,933.1 L558.6,933.9 L559.0,932.5 L557.9,931.6 L559.3,931.5Z M564.1,879.7 L564.6,880.8 L565.7,880.9 L564.9,881.6 L565.1,882.8 L564.1,882.2 L563.1,882.8 L563.4,881.6 L562.5,880.9 L563.7,880.8Z M584.7,963.0 L585.4,964.5 L587.0,964.6 L585.8,965.7 L586.1,967.3 L584.7,966.4 L583.3,967.3 L583.7,965.7 L582.4,964.6 L584.1,964.5Z M576.3,927.3 L576.9,928.8 L578.5,928.9 L577.3,929.9 L577.7,931.5 L576.3,930.7 L575.0,931.5 L575.3,929.9 L574.1,928.9 L575.7,928.8Z M580.5,899.5 L581.2,901.1 L582.9,901.2 L581.6,902.4 L582.0,904.1 L580.5,903.1 L579.0,904.1 L579.4,902.4 L578.1,901.2 L579.8,901.1Z M583.1,879.1 L583.6,880.3 L585.0,880.5 L584.0,881.3 L584.3,882.6 L583.1,881.9 L582.0,882.6 L582.3,881.3 L581.3,880.5 L582.6,880.3Z M577.8,912.2 L578.5,913.9 L580.3,914.0 L578.9,915.1 L579.3,916.9 L577.8,915.9 L576.3,916.9 L576.7,915.1 L575.4,914.0 L577.1,913.9Z M577.1,956.0 L577.5,957.1 L578.8,957.2 L577.8,958.0 L578.1,959.2 L577.1,958.6 L576.0,959.2 L576.3,958.0 L575.4,957.2 L576.6,957.1Z M580.4,870.3 L580.9,871.5 L582.1,871.6 L581.2,872.4 L581.5,873.6 L580.4,873.0 L579.3,873.6 L579.6,872.4 L578.7,871.6 L579.9,871.5Z M581.2,952.1 L581.6,953.1 L582.7,953.2 L581.9,953.9 L582.1,954.9 L581.2,954.4 L580.3,954.9 L580.5,953.9 L579.7,953.2 L580.8,953.1Z M577.5,946.4 L578.1,947.9 L579.8,948.1 L578.5,949.2 L578.9,950.8 L577.5,949.9 L576.0,950.8 L576.4,949.2 L575.2,948.1 L576.8,947.9Z M572.1,890.4 L572.8,892.0 L574.5,892.2 L573.2,893.3 L573.6,895.0 L572.1,894.1 L570.7,895.0 L571.1,893.3 L569.8,892.2 L571.5,892.0Z M576.7,913.1 L577.1,914.3 L578.4,914.4 L577.4,915.2 L577.7,916.4 L576.7,915.7 L575.6,916.4 L575.9,915.2 L574.9,914.4 L576.2,914.3Z M574.0,911.5 L574.5,912.5 L575.6,912.6 L574.8,913.4 L575.0,914.5 L574.0,913.9 L573.0,914.5 L573.3,913.4 L572.4,912.6 L573.6,912.5Z M570.3,937.5 L570.7,938.6 L571.8,938.6 L571.0,939.4 L571.3,940.5 L570.3,939.9 L569.3,940.5 L569.6,939.4 L568.7,938.6 L569.8,938.6Z M567.0,956.6 L567.7,958.3 L569.5,958.4 L568.1,959.6 L568.5,961.3 L567.0,960.4 L565.5,961.3 L565.9,959.6 L564.6,958.4 L566.3,958.3Z M570.5,867.7 L571.1,869.1 L572.6,869.2 L571.5,870.2 L571.8,871.6 L570.5,870.8 L569.3,871.6 L569.6,870.2 L568.5,869.2 L570.0,869.1Z M577.5,914.4 L577.9,915.3 L578.9,915.4 L578.1,916.1 L578.3,917.1 L577.5,916.6 L576.6,917.1 L576.8,916.1 L576.0,915.4 L577.1,915.3Z M585.2,881.2 L585.9,882.8 L587.7,883.0 L586.3,884.1 L586.7,885.8 L585.2,884.9 L583.7,885.8 L584.1,884.1 L582.8,883.0 L584.6,882.8Z M585.9,913.3 L586.4,914.6 L587.8,914.7 L586.8,915.7 L587.1,917.0 L585.9,916.3 L584.7,917.0 L585.0,915.7 L584.0,914.7 L585.3,914.6Z M575.6,879.9 L576.3,881.6 L578.0,881.7 L576.7,882.9 L577.1,884.6 L575.6,883.7 L574.0,884.6 L574.5,882.9 L573.1,881.7 L574.9,881.6Z M583.9,924.9 L584.5,926.4 L586.1,926.5 L584.9,927.6 L585.3,929.1 L583.9,928.3 L582.6,929.1 L582.9,927.6 L581.7,926.5 L583.3,926.4Z M585.3,877.5 L585.9,878.9 L587.5,879.1 L586.3,880.1 L586.6,881.6 L585.3,880.8 L584.0,881.6 L584.3,880.1 L583.1,879.1 L584.7,878.9Z M570.1,944.8 L570.8,946.4 L572.5,946.5 L571.2,947.7 L571.6,949.3 L570.1,948.4 L568.7,949.3 L569.1,947.7 L567.8,946.5 L569.5,946.4Z M581.2,883.8 L581.8,885.3 L583.4,885.4 L582.2,886.5 L582.6,888.1 L581.2,887.2 L579.8,888.1 L580.2,886.5 L578.9,885.4 L580.5,885.3Z M582.1,876.7 L582.7,878.1 L584.2,878.2 L583.0,879.2 L583.4,880.7 L582.1,879.9 L580.8,880.7 L581.2,879.2 L580.0,878.2 L581.5,878.1Z M569.7,934.9 L570.2,936.3 L571.7,936.4 L570.6,937.4 L570.9,938.9 L569.7,938.1 L568.4,938.9 L568.7,937.4 L567.6,936.4 L569.1,936.3Z M584.8,928.3 L585.5,929.9 L587.3,930.1 L585.9,931.2 L586.3,933.0 L584.8,932.0 L583.3,933.0 L583.7,931.2 L582.3,930.1 L584.1,929.9Z M584.3,873.3 L584.8,874.5 L586.1,874.6 L585.1,875.5 L585.4,876.8 L584.3,876.1 L583.2,876.8 L583.5,875.5 L582.5,874.6 L583.8,874.5Z M575.5,866.8 L576.0,868.1 L577.3,868.2 L576.3,869.1 L576.6,870.4 L575.5,869.7 L574.3,870.4 L574.6,869.1 L573.6,868.2 L574.9,868.1Z M577.8,896.2 L578.4,897.6 L580.0,897.8 L578.8,898.8 L579.2,900.4 L577.8,899.5 L576.4,900.4 L576.8,898.8 L575.6,897.8 L577.2,897.6Z M585.4,915.3 L585.9,916.6 L587.3,916.7 L586.2,917.6 L586.6,919.0 L585.4,918.2 L584.2,919.0 L584.5,917.6 L583.4,916.7 L584.8,916.6Z M577.6,955.1 L578.1,956.4 L579.6,956.5 L578.5,957.4 L578.8,958.8 L577.6,958.0 L576.4,958.8 L576.7,957.4 L575.7,956.5 L577.1,956.4Z M564.8,861.8 L565.3,862.9 L566.5,863.0 L565.6,863.8 L565.8,865.0 L564.8,864.3 L563.7,865.0 L564.0,863.8 L563.1,863.0 L564.3,862.9Z M582.0,909.1 L582.6,910.5 L584.2,910.7 L583.0,911.7 L583.4,913.2 L582.0,912.4 L580.7,913.2 L581.1,911.7 L579.9,910.7 L581.4,910.5Z M577.5,925.1 L578.2,926.7 L579.9,926.8 L578.6,927.9 L579.0,929.6 L577.5,928.7 L576.0,929.6 L576.4,927.9 L575.1,926.8 L576.9,926.7Z M572.4,878.8 L573.0,880.3 L574.7,880.5 L573.4,881.6 L573.8,883.2 L572.4,882.3 L570.9,883.2 L571.3,881.6 L570.0,880.5 L571.7,880.3Z M571.6,948.4 L572.1,949.5 L573.3,949.6 L572.4,950.4 L572.6,951.5 L571.6,950.9 L570.6,951.5 L570.9,950.4 L570.0,949.6 L571.2,949.5Z M565.1,930.6 L565.8,932.2 L567.5,932.3 L566.2,933.5 L566.6,935.1 L565.1,934.2 L563.7,935.1 L564.1,933.5 L562.7,932.3 L564.5,932.2Z M581.2,886.5 L581.8,887.9 L583.2,888.0 L582.1,888.9 L582.4,890.4 L581.2,889.6 L579.9,890.4 L580.3,888.9 L579.2,888.0 L580.6,887.9Z M574.8,922.8 L575.3,924.1 L576.8,924.2 L575.7,925.1 L576.0,926.5 L574.8,925.8 L573.6,926.5 L573.9,925.1 L572.9,924.2 L574.3,924.1Z M583.2,855.8 L583.8,857.2 L585.3,857.3 L584.2,858.4 L584.5,859.9 L583.2,859.1 L581.8,859.9 L582.2,858.4 L581.0,857.3 L582.6,857.2Z M581.5,900.1 L582.0,901.2 L583.1,901.3 L582.2,902.0 L582.5,903.2 L581.5,902.5 L580.5,903.2 L580.8,902.0 L579.9,901.3 L581.1,901.2Z M571.1,915.4 L571.6,916.5 L572.8,916.6 L571.8,917.3 L572.1,918.5 L571.1,917.9 L570.1,918.5 L570.4,917.3 L569.5,916.6 L570.6,916.5Z M568.1,929.8 L568.7,931.1 L570.1,931.2 L569.0,932.1 L569.3,933.5 L568.1,932.8 L566.9,933.5 L567.3,932.1 L566.2,931.2 L567.6,931.1Z M571.1,961.3 L571.8,962.9 L573.6,963.0 L572.2,964.2 L572.6,965.9 L571.1,965.0 L569.6,965.9 L570.0,964.2 L568.7,963.0 L570.4,962.9Z M573.7,911.6 L574.1,912.5 L575.2,912.6 L574.4,913.3 L574.6,914.3 L573.7,913.8 L572.8,914.3 L573.1,913.3 L572.3,912.6 L573.3,912.5Z M577.7,900.8 L578.3,902.2 L579.8,902.3 L578.7,903.3 L579.0,904.9 L577.7,904.1 L576.3,904.9 L576.7,903.3 L575.5,902.3 L577.1,902.2Z M571.0,895.7 L571.6,897.2 L573.3,897.3 L572.0,898.4 L572.4,900.0 L571.0,899.1 L569.6,900.0 L570.0,898.4 L568.8,897.3 L570.4,897.2Z M579.9,909.5 L580.5,910.8 L581.9,910.9 L580.8,911.8 L581.1,913.1 L579.9,912.4 L578.8,913.1 L579.1,911.8 L578.0,910.9 L579.4,910.8Z M588.9,916.8 L589.4,917.9 L590.6,918.0 L589.7,918.8 L590.0,920.0 L588.9,919.3 L587.9,920.0 L588.2,918.8 L587.3,918.0 L588.5,917.9Z M577.6,914.7 L578.2,916.1 L579.7,916.3 L578.6,917.2 L578.9,918.7 L577.6,917.9 L576.3,918.7 L576.7,917.2 L575.6,916.3 L577.1,916.1Z M567.2,921.7 L567.8,923.1 L569.4,923.2 L568.2,924.2 L568.6,925.7 L567.2,924.9 L565.9,925.7 L566.3,924.2 L565.1,923.2 L566.7,923.1Z M574.5,888.5 L575.0,889.8 L576.4,889.9 L575.4,890.8 L575.7,892.2 L574.5,891.5 L573.3,892.2 L573.6,890.8 L572.6,889.9 L574.0,889.8Z M576.7,911.6 L577.3,912.9 L578.7,913.0 L577.6,913.9 L577.9,915.2 L576.7,914.5 L575.5,915.2 L575.9,913.9 L574.8,913.0 L576.2,912.9Z M575.3,888.7 L575.8,889.9 L577.1,890.0 L576.1,890.8 L576.4,892.0 L575.3,891.3 L574.3,892.0 L574.6,890.8 L573.6,890.0 L574.9,889.9Z M570.4,946.9 L570.9,948.3 L572.3,948.4 L571.2,949.3 L571.6,950.7 L570.4,949.9 L569.1,950.7 L569.5,949.3 L568.4,948.4 L569.8,948.3Z M567.7,873.3 L568.2,874.5 L569.5,874.6 L568.5,875.5 L568.8,876.8 L567.7,876.1 L566.6,876.8 L566.9,875.5 L565.9,874.6 L567.2,874.5Z M589.8,944.7 L590.4,946.2 L592.0,946.3 L590.8,947.3 L591.1,948.9 L589.8,948.0 L588.4,948.9 L588.8,947.3 L587.6,946.3 L589.2,946.2Z M581.4,932.1 L582.0,933.5 L583.5,933.7 L582.4,934.6 L582.7,936.1 L581.4,935.3 L580.1,936.1 L580.5,934.6 L579.3,933.7 L580.8,933.5Z M581.9,891.2 L582.4,892.6 L583.9,892.7 L582.8,893.6 L583.1,895.1 L581.9,894.3 L580.6,895.1 L581.0,893.6 L579.9,892.7 L581.3,892.6Z M585.1,868.9 L585.8,870.5 L587.5,870.7 L586.2,871.8 L586.6,873.5 L585.1,872.6 L583.6,873.5 L584.0,871.8 L582.7,870.7 L584.4,870.5Z M566.7,917.9 L567.1,919.0 L568.3,919.1 L567.4,919.9 L567.7,921.1 L566.7,920.4 L565.7,921.1 L565.9,919.9 L565.0,919.1 L566.2,919.0Z M574.1,850.9 L574.7,852.3 L576.2,852.5 L575.0,853.4 L575.4,854.9 L574.1,854.1 L572.8,854.9 L573.2,853.4 L572.0,852.5 L573.5,852.3Z M575.3,886.0 L576.0,887.6 L577.7,887.7 L576.4,888.8 L576.8,890.5 L575.3,889.6 L573.9,890.5 L574.3,888.8 L573.0,887.7 L574.7,887.6Z M594.9,897.0 L595.4,898.3 L596.9,898.4 L595.8,899.4 L596.1,900.8 L594.9,900.0 L593.6,900.8 L594.0,899.4 L592.9,898.4 L594.3,898.3Z M577.8,880.6 L578.5,882.2 L580.2,882.4 L578.9,883.5 L579.3,885.2 L577.8,884.3 L576.3,885.2 L576.7,883.5 L575.4,882.4 L577.2,882.2Z M580.2,885.3 L580.6,886.3 L581.7,886.4 L580.9,887.1 L581.1,888.2 L580.2,887.6 L579.2,888.2 L579.5,887.1 L578.7,886.4 L579.8,886.3Z M568.3,921.4 L568.9,922.9 L570.5,923.0 L569.3,924.0 L569.7,925.6 L568.3,924.8 L566.9,925.6 L567.3,924.0 L566.1,923.0 L567.7,922.9Z M574.7,907.7 L575.3,909.2 L576.9,909.3 L575.7,910.4 L576.1,912.0 L574.7,911.2 L573.3,912.0 L573.6,910.4 L572.4,909.3 L574.0,909.2Z M587.5,929.6 L588.0,930.7 L589.1,930.8 L588.2,931.5 L588.5,932.6 L587.5,932.0 L586.5,932.6 L586.8,931.5 L585.9,930.8 L587.1,930.7Z M570.2,954.8 L570.6,955.9 L571.8,956.0 L570.9,956.7 L571.2,957.8 L570.2,957.2 L569.2,957.8 L569.5,956.7 L568.6,956.0 L569.8,955.9Z M581.2,937.3 L581.8,938.7 L583.4,938.8 L582.2,939.9 L582.5,941.4 L581.2,940.6 L579.8,941.4 L580.2,939.9 L579.0,938.8 L580.6,938.7Z M581.9,866.9 L582.5,868.5 L584.3,868.7 L583.0,869.8 L583.4,871.5 L581.9,870.6 L580.4,871.5 L580.8,869.8 L579.5,868.7 L581.2,868.5Z M559.7,911.4 L560.1,912.4 L561.2,912.5 L560.4,913.2 L560.7,914.3 L559.7,913.7 L558.8,914.3 L559.0,913.2 L558.2,912.5 L559.3,912.4Z M577.8,945.0 L578.3,946.1 L579.5,946.2 L578.6,947.1 L578.9,948.3 L577.8,947.6 L576.7,948.3 L577.0,947.1 L576.1,946.2 L577.3,946.1Z M575.0,863.6 L575.6,864.9 L577.0,865.0 L575.9,865.9 L576.2,867.3 L575.0,866.6 L573.8,867.3 L574.1,865.9 L573.0,865.0 L574.5,864.9Z M581.1,874.6 L581.6,875.8 L582.9,875.9 L581.9,876.7 L582.2,877.9 L581.1,877.3 L580.1,877.9 L580.3,876.7 L579.4,875.9 L580.6,875.8Z M566.7,947.7 L567.3,949.3 L569.0,949.4 L567.7,950.5 L568.1,952.2 L566.7,951.3 L565.2,952.2 L565.6,950.5 L564.3,949.4 L566.0,949.3Z M579.7,965.3 L580.4,967.0 L582.2,967.1 L580.8,968.3 L581.2,970.0 L579.7,969.1 L578.2,970.0 L578.6,968.3 L577.3,967.1 L579.1,967.0Z M567.5,901.6 L568.0,902.7 L569.2,902.8 L568.3,903.6 L568.5,904.8 L567.5,904.1 L566.5,904.8 L566.8,903.6 L565.9,902.8 L567.1,902.7Z M568.5,899.1 L569.0,900.5 L570.5,900.6 L569.4,901.6 L569.7,903.1 L568.5,902.3 L567.2,903.1 L567.5,901.6 L566.4,900.6 L567.9,900.5Z M594.0,921.6 L594.5,923.0 L596.0,923.1 L594.9,924.0 L595.2,925.4 L594.0,924.6 L592.8,925.4 L593.1,924.0 L592.0,923.1 L593.4,923.0Z M566.4,940.0 L566.9,941.3 L568.4,941.4 L567.3,942.4 L567.6,943.8 L566.4,943.0 L565.1,943.8 L565.5,942.4 L564.4,941.4 L565.8,941.3Z M565.9,910.6 L566.3,911.6 L567.4,911.7 L566.6,912.4 L566.8,913.4 L565.9,912.9 L565.0,913.4 L565.2,912.4 L564.4,911.7 L565.5,911.6Z M569.5,899.2 L570.2,900.9 L571.9,901.0 L570.6,902.1 L571.0,903.8 L569.5,902.9 L568.0,903.8 L568.4,902.1 L567.1,901.0 L568.8,900.9Z M581.1,896.1 L581.6,897.4 L583.0,897.5 L581.9,898.4 L582.3,899.8 L581.1,899.0 L579.9,899.8 L580.2,898.4 L579.2,897.5 L580.5,897.4Z M581.4,930.8 L582.0,932.3 L583.6,932.4 L582.4,933.5 L582.8,935.1 L581.4,934.2 L580.0,935.1 L580.3,933.5 L579.1,932.4 L580.7,932.3Z M582.6,887.0 L583.1,888.2 L584.3,888.3 L583.4,889.1 L583.7,890.4 L582.6,889.7 L581.5,890.4 L581.8,889.1 L580.8,888.3 L582.1,888.2Z M579.7,947.1 L580.4,948.7 L582.1,948.8 L580.8,950.0 L581.2,951.7 L579.7,950.8 L578.2,951.7 L578.6,950.0 L577.3,948.8 L579.0,948.7Z M584.4,947.1 L584.8,948.1 L585.9,948.2 L585.1,948.9 L585.3,949.9 L584.4,949.3 L583.5,949.9 L583.8,948.9 L583.0,948.2 L584.0,948.1Z M578.0,928.1 L578.6,929.6 L580.1,929.7 L578.9,930.7 L579.3,932.2 L578.0,931.4 L576.7,932.2 L577.0,930.7 L575.8,929.7 L577.4,929.6Z M573.5,933.4 L574.1,934.8 L575.6,934.9 L574.4,935.9 L574.8,937.4 L573.5,936.6 L572.2,937.4 L572.6,935.9 L571.4,934.9 L572.9,934.8Z M585.0,938.6 L585.4,939.7 L586.6,939.8 L585.7,940.5 L586.0,941.6 L585.0,941.0 L584.0,941.6 L584.3,940.5 L583.5,939.8 L584.6,939.7Z M571.1,906.2 L571.6,907.3 L572.8,907.4 L571.9,908.2 L572.2,909.3 L571.1,908.7 L570.1,909.3 L570.4,908.2 L569.5,907.4 L570.7,907.3Z M569.1,901.3 L569.7,902.5 L571.0,902.6 L570.0,903.5 L570.3,904.8 L569.1,904.1 L568.0,904.8 L568.3,903.5 L567.3,902.6 L568.6,902.5Z M569.2,927.5 L569.6,928.6 L570.8,928.7 L569.9,929.4 L570.1,930.6 L569.2,930.0 L568.2,930.6 L568.4,929.4 L567.6,928.7 L568.7,928.6Z M579.0,949.3 L579.6,950.7 L581.1,950.8 L580.0,951.8 L580.3,953.3 L579.0,952.5 L577.7,953.3 L578.1,951.8 L576.9,950.8 L578.4,950.7Z M563.3,896.1 L563.8,897.5 L565.3,897.6 L564.2,898.6 L564.5,900.1 L563.3,899.3 L562.0,900.1 L562.3,898.6 L561.2,897.6 L562.7,897.5Z M579.4,889.5 L580.0,891.0 L581.6,891.1 L580.4,892.1 L580.7,893.7 L579.4,892.9 L578.0,893.7 L578.4,892.1 L577.2,891.1 L578.8,891.0Z M573.9,931.7 L574.6,933.3 L576.3,933.4 L575.0,934.5 L575.4,936.2 L573.9,935.3 L572.4,936.2 L572.8,934.5 L571.5,933.4 L573.3,933.3Z M579.1,896.9 L579.5,898.1 L580.8,898.2 L579.8,899.0 L580.1,900.1 L579.1,899.5 L578.0,900.1 L578.3,899.0 L577.4,898.2 L578.6,898.1Z M575.5,884.1 L576.0,885.1 L577.1,885.2 L576.2,886.0 L576.5,887.0 L575.5,886.5 L574.6,887.0 L574.8,886.0 L574.0,885.2 L575.1,885.1Z M579.8,878.9 L580.4,880.4 L582.1,880.6 L580.8,881.6 L581.2,883.2 L579.8,882.4 L578.4,883.2 L578.8,881.6 L577.6,880.6 L579.2,880.4Z M581.2,929.6 L581.7,931.1 L583.3,931.2 L582.1,932.2 L582.5,933.7 L581.2,932.9 L579.8,933.7 L580.2,932.2 L579.0,931.2 L580.6,931.1Z M580.8,909.6 L581.4,911.0 L583.0,911.1 L581.8,912.1 L582.1,913.6 L580.8,912.8 L579.5,913.6 L579.9,912.1 L578.7,911.1 L580.2,911.0Z M591.5,864.8 L591.9,865.8 L593.0,865.9 L592.2,866.7 L592.4,867.8 L591.5,867.2 L590.5,867.8 L590.8,866.7 L589.9,865.9 L591.0,865.8Z M564.8,905.6 L565.4,906.9 L566.8,907.0 L565.7,907.9 L566.1,909.3 L564.8,908.6 L563.6,909.3 L564.0,907.9 L562.9,907.0 L564.3,906.9Z M574.6,889.5 L575.0,890.5 L576.1,890.6 L575.2,891.3 L575.5,892.3 L574.6,891.8 L573.6,892.3 L573.9,891.3 L573.1,890.6 L574.2,890.5Z M577.8,912.7 L578.3,914.0 L579.8,914.1 L578.7,915.1 L579.0,916.5 L577.8,915.7 L576.5,916.5 L576.9,915.1 L575.8,914.1 L577.2,914.0Z M567.5,904.1 L568.0,905.2 L569.1,905.2 L568.2,906.0 L568.5,907.1 L567.5,906.5 L566.5,907.1 L566.8,906.0 L565.9,905.2 L567.1,905.2Z M578.1,926.3 L578.8,927.8 L580.4,927.9 L579.2,929.0 L579.6,930.7 L578.1,929.8 L576.7,930.7 L577.1,929.0 L575.8,927.9 L577.5,927.8Z M591.8,903.6 L592.2,904.6 L593.4,904.7 L592.5,905.4 L592.8,906.5 L591.8,905.9 L590.9,906.5 L591.1,905.4 L590.3,904.7 L591.4,904.6Z M591.8,936.4 L592.3,937.7 L593.7,937.8 L592.6,938.7 L593.0,940.1 L591.8,939.3 L590.6,940.1 L590.9,938.7 L589.9,937.8 L591.2,937.7Z M576.9,880.0 L577.4,881.3 L578.8,881.4 L577.7,882.3 L578.0,883.7 L576.9,882.9 L575.7,883.7 L576.0,882.3 L574.9,881.4 L576.3,881.3Z M569.1,904.2 L569.7,905.6 L571.2,905.7 L570.0,906.6 L570.4,908.1 L569.1,907.3 L567.9,908.1 L568.2,906.6 L567.1,905.7 L568.6,905.6Z M586.8,911.1 L587.5,912.6 L589.1,912.8 L587.9,913.8 L588.3,915.5 L586.8,914.6 L585.4,915.5 L585.8,913.8 L584.5,912.8 L586.2,912.6Z M579.4,938.2 L580.0,939.6 L581.6,939.8 L580.4,940.8 L580.8,942.3 L579.4,941.5 L578.1,942.3 L578.4,940.8 L577.2,939.8 L578.8,939.6Z M572.6,919.3 L573.0,920.3 L574.2,920.4 L573.3,921.2 L573.6,922.3 L572.6,921.7 L571.6,922.3 L571.9,921.2 L571.0,920.4 L572.1,920.3Z M575.1,906.6 L575.8,908.2 L577.5,908.3 L576.2,909.4 L576.6,911.1 L575.1,910.2 L573.6,911.1 L574.0,909.4 L572.7,908.3 L574.4,908.2Z M579.7,861.2 L580.3,862.7 L582.0,862.9 L580.7,864.0 L581.1,865.6 L579.7,864.7 L578.3,865.6 L578.6,864.0 L577.4,862.9 L579.0,862.7Z M571.5,884.4 L572.1,885.8 L573.6,885.9 L572.5,886.9 L572.8,888.3 L571.5,887.5 L570.3,888.3 L570.6,886.9 L569.5,885.9 L571.0,885.8Z M556.9,904.7 L557.6,906.3 L559.2,906.4 L558.0,907.5 L558.3,909.1 L556.9,908.2 L555.5,909.1 L555.9,907.5 L554.7,906.4 L556.3,906.3Z M575.9,853.4 L576.5,854.9 L578.2,855.0 L576.9,856.1 L577.3,857.7 L575.9,856.8 L574.5,857.7 L574.9,856.1 L573.6,855.0 L575.3,854.9Z M564.3,943.9 L564.9,945.5 L566.6,945.6 L565.3,946.7 L565.7,948.4 L564.3,947.5 L562.8,948.4 L563.2,946.7 L561.9,945.6 L563.6,945.5Z M572.4,857.4 L573.0,858.9 L574.6,859.0 L573.4,860.0 L573.7,861.6 L572.4,860.8 L571.0,861.6 L571.4,860.0 L570.1,859.0 L571.7,858.9Z M567.3,935.6 L567.7,936.6 L568.8,936.7 L567.9,937.4 L568.2,938.5 L567.3,937.9 L566.3,938.5 L566.6,937.4 L565.8,936.7 L566.8,936.6Z M572.1,937.2 L572.5,938.2 L573.6,938.3 L572.8,938.9 L573.0,940.0 L572.1,939.4 L571.2,940.0 L571.5,938.9 L570.7,938.3 L571.7,938.2Z M570.3,942.2 L570.9,943.5 L572.4,943.7 L571.3,944.6 L571.6,946.1 L570.3,945.3 L569.0,946.1 L569.4,944.6 L568.2,943.7 L569.7,943.5Z M573.2,882.9 L573.8,884.4 L575.3,884.5 L574.1,885.5 L574.5,887.0 L573.2,886.2 L571.9,887.0 L572.2,885.5 L571.1,884.5 L572.6,884.4Z M568.7,891.4 L569.2,892.6 L570.5,892.7 L569.5,893.6 L569.8,894.9 L568.7,894.2 L567.6,894.9 L567.9,893.6 L566.9,892.7 L568.2,892.6Z M586.1,907.2 L586.7,908.6 L588.2,908.8 L587.0,909.8 L587.4,911.3 L586.1,910.5 L584.7,911.3 L585.1,909.8 L583.9,908.8 L585.4,908.6Z M585.6,913.3 L586.2,914.8 L587.8,914.9 L586.6,915.9 L587.0,917.5 L585.6,916.7 L584.2,917.5 L584.6,915.9 L583.4,914.9 L585.0,914.8Z M576.0,939.3 L576.4,940.3 L577.5,940.4 L576.7,941.1 L576.9,942.1 L576.0,941.6 L575.1,942.1 L575.3,941.1 L574.5,940.4 L575.6,940.3Z M578.5,936.2 L578.9,937.3 L580.0,937.3 L579.2,938.1 L579.5,939.1 L578.5,938.6 L577.6,939.1 L577.8,938.1 L577.0,937.3 L578.1,937.3Z M568.6,895.5 L569.3,897.1 L571.0,897.3 L569.7,898.4 L570.1,900.2 L568.6,899.2 L567.1,900.2 L567.5,898.4 L566.2,897.3 L567.9,897.1Z M556.1,865.4 L556.7,866.8 L558.2,866.9 L557.1,867.9 L557.4,869.4 L556.1,868.6 L554.8,869.4 L555.2,867.9 L554.0,866.9 L555.5,866.8Z M577.3,895.9 L577.9,897.2 L579.3,897.3 L578.2,898.3 L578.6,899.8 L577.3,899.0 L576.0,899.8 L576.4,898.3 L575.2,897.3 L576.7,897.2Z M576.4,897.6 L577.1,899.2 L578.8,899.3 L577.5,900.4 L577.9,902.1 L576.4,901.2 L574.9,902.1 L575.3,900.4 L574.0,899.3 L575.8,899.2Z M580.4,937.4 L580.9,938.4 L582.0,938.5 L581.1,939.3 L581.4,940.4 L580.4,939.8 L579.4,940.4 L579.7,939.3 L578.8,938.5 L580.0,938.4Z M567.0,909.1 L567.4,910.1 L568.4,910.2 L567.6,910.9 L567.9,912.0 L567.0,911.4 L566.0,912.0 L566.3,910.9 L565.5,910.2 L566.5,910.1Z M583.0,896.5 L583.5,897.8 L585.0,897.9 L583.9,898.9 L584.2,900.3 L583.0,899.5 L581.8,900.3 L582.1,898.9 L581.0,897.9 L582.4,897.8Z M571.0,890.6 L571.5,891.8 L572.7,891.9 L571.8,892.7 L572.1,893.9 L571.0,893.3 L569.9,893.9 L570.2,892.7 L569.3,891.9 L570.5,891.8Z M571.4,874.8 L571.9,875.9 L573.1,876.0 L572.2,876.9 L572.5,878.1 L571.4,877.4 L570.3,878.1 L570.6,876.9 L569.7,876.0 L570.9,875.9Z M575.1,882.6 L575.5,883.5 L576.6,883.6 L575.8,884.3 L576.0,885.3 L575.1,884.8 L574.2,885.3 L574.5,884.3 L573.7,883.6 L574.7,883.5Z M576.4,917.0 L576.8,918.1 L578.0,918.1 L577.1,918.9 L577.3,920.0 L576.4,919.4 L575.4,920.0 L575.6,918.9 L574.8,918.1 L575.9,918.1Z M576.5,876.2 L577.2,877.8 L578.9,877.9 L577.6,879.0 L578.0,880.7 L576.5,879.8 L575.0,880.7 L575.4,879.0 L574.1,877.9 L575.8,877.8Z M576.3,897.0 L577.0,898.6 L578.7,898.8 L577.4,899.9 L577.8,901.6 L576.3,900.7 L574.8,901.6 L575.2,899.9 L573.8,898.8 L575.6,898.6Z M578.8,902.9 L579.5,904.4 L581.2,904.6 L579.9,905.7 L580.3,907.4 L578.8,906.5 L577.3,907.4 L577.7,905.7 L576.4,904.6 L578.1,904.4Z M569.3,922.1 L570.0,923.7 L571.7,923.8 L570.4,925.0 L570.8,926.7 L569.3,925.8 L567.8,926.7 L568.2,925.0 L566.9,923.8 L568.6,923.7Z M576.6,944.7 L577.3,946.3 L579.0,946.4 L577.7,947.6 L578.1,949.3 L576.6,948.3 L575.1,949.3 L575.5,947.6 L574.2,946.4 L576.0,946.3Z M575.0,872.6 L575.7,874.2 L577.4,874.4 L576.1,875.5 L576.5,877.2 L575.0,876.3 L573.5,877.2 L573.9,875.5 L572.5,874.4 L574.3,874.2Z M580.1,869.3 L580.5,870.4 L581.6,870.5 L580.8,871.2 L581.0,872.3 L580.1,871.7 L579.1,872.3 L579.4,871.2 L578.5,870.5 L579.6,870.4Z M571.0,883.7 L571.4,884.8 L572.6,884.9 L571.7,885.7 L572.0,886.8 L571.0,886.2 L570.0,886.8 L570.2,885.7 L569.3,884.9 L570.5,884.8Z M584.2,920.1 L584.6,921.1 L585.7,921.2 L584.9,921.9 L585.2,923.0 L584.2,922.4 L583.2,923.0 L583.5,921.9 L582.6,921.2 L583.8,921.1Z M566.8,923.7 L567.4,924.9 L568.8,925.1 L567.7,925.9 L568.0,927.3 L566.8,926.6 L565.7,927.3 L566.0,925.9 L564.9,925.1 L566.3,924.9Z M575.6,948.4 L576.1,949.6 L577.5,949.7 L576.5,950.6 L576.8,951.9 L575.6,951.2 L574.5,951.9 L574.8,950.6 L573.8,949.7 L575.1,949.6Z M577.8,869.4 L578.4,871.0 L580.2,871.1 L578.9,872.3 L579.3,874.1 L577.8,873.1 L576.2,874.1 L576.7,872.3 L575.3,871.1 L577.1,871.0Z M586.9,892.9 L587.4,894.1 L588.6,894.2 L587.6,894.9 L587.9,896.1 L586.9,895.5 L585.8,896.1 L586.1,894.9 L585.2,894.2 L586.4,894.1Z M587.1,950.1 L587.8,951.6 L589.4,951.7 L588.2,952.8 L588.5,954.4 L587.1,953.5 L585.8,954.4 L586.1,952.8 L584.9,951.7 L586.5,951.6Z M571.8,887.0 L572.2,888.2 L573.5,888.3 L572.5,889.1 L572.8,890.3 L571.8,889.6 L570.7,890.3 L571.0,889.1 L570.1,888.3 L571.3,888.2Z M572.8,870.6 L573.4,872.0 L574.9,872.1 L573.7,873.1 L574.1,874.5 L572.8,873.8 L571.6,874.5 L571.9,873.1 L570.8,872.1 L572.2,872.0Z M568.7,869.3 L569.1,870.4 L570.3,870.5 L569.4,871.2 L569.7,872.4 L568.7,871.8 L567.7,872.4 L567.9,871.2 L567.0,870.5 L568.2,870.4Z M588.4,875.8 L588.8,876.8 L589.8,876.9 L589.0,877.5 L589.3,878.6 L588.4,878.0 L587.4,878.6 L587.7,877.5 L586.9,876.9 L587.9,876.8Z M581.3,916.7 L581.8,918.0 L583.2,918.1 L582.2,919.0 L582.5,920.3 L581.3,919.6 L580.2,920.3 L580.5,919.0 L579.4,918.1 L580.8,918.0Z M574.0,897.3 L574.6,898.7 L576.0,898.8 L574.9,899.7 L575.3,901.1 L574.0,900.4 L572.8,901.1 L573.1,899.7 L572.0,898.8 L573.5,898.7Z" fill="none" stroke="#268f4c" stroke-width="0.42"/><path d="M554.8,915.2 L555.2,916.1 L556.1,916.1 L555.4,916.7 L555.6,917.6 L554.8,917.1 L554.0,917.6 L554.3,916.7 L553.6,916.1 L554.5,916.1Z M549.2,919.0 L549.5,919.7 L550.3,919.8 L549.7,920.3 L549.9,921.1 L549.2,920.6 L548.5,921.1 L548.7,920.3 L548.1,919.8 L548.9,919.7Z M555.1,911.4 L555.5,912.2 L556.4,912.3 L555.7,913.0 L555.9,913.9 L555.1,913.4 L554.3,913.9 L554.5,913.0 L553.8,912.3 L554.7,912.2Z M553.8,909.8 L554.3,910.9 L555.4,911.0 L554.6,911.7 L554.8,912.8 L553.8,912.2 L552.8,912.8 L553.1,911.7 L552.2,911.0 L553.4,910.9Z M549.7,917.0 L550.1,917.7 L550.8,917.8 L550.2,918.3 L550.4,919.1 L549.7,918.6 L549.1,919.1 L549.3,918.3 L548.7,917.8 L549.4,917.7Z M553.4,912.0 L553.7,912.8 L554.6,912.9 L553.9,913.5 L554.1,914.3 L553.4,913.8 L552.6,914.3 L552.8,913.5 L552.2,912.9 L553.1,912.8Z M551.5,909.8 L551.8,910.6 L552.6,910.6 L552.0,911.2 L552.2,911.9 L551.5,911.5 L550.8,911.9 L551.0,911.2 L550.4,910.6 L551.2,910.6Z M548.8,912.1 L549.1,913.0 L550.1,913.1 L549.4,913.7 L549.6,914.6 L548.8,914.1 L547.9,914.6 L548.2,913.7 L547.4,913.1 L548.4,913.0Z M599.8,913.4 L600.2,914.5 L601.4,914.6 L600.5,915.4 L600.8,916.6 L599.8,915.9 L598.7,916.6 L599.0,915.4 L598.1,914.6 L599.3,914.5Z M601.1,916.8 L601.6,917.9 L602.8,918.0 L601.9,918.8 L602.2,920.1 L601.1,919.4 L600.0,920.1 L600.3,918.8 L599.4,918.0 L600.6,917.9Z M594.4,914.0 L594.8,914.9 L595.8,915.0 L595.0,915.6 L595.3,916.6 L594.4,916.1 L593.6,916.6 L593.8,915.6 L593.0,915.0 L594.0,914.9Z M598.6,913.8 L599.1,914.9 L600.3,915.0 L599.3,915.8 L599.6,917.0 L598.6,916.4 L597.5,917.0 L597.8,915.8 L596.9,915.0 L598.1,914.9Z M599.2,921.7 L599.6,922.6 L600.5,922.6 L599.8,923.2 L600.0,924.1 L599.2,923.6 L598.5,924.1 L598.7,923.2 L598.0,922.6 L598.9,922.6Z M600.7,915.5 L601.0,916.4 L602.0,916.4 L601.3,917.1 L601.5,918.0 L600.7,917.5 L599.9,918.0 L600.1,917.1 L599.3,916.4 L600.3,916.4Z M592.6,912.9 L593.0,914.0 L594.2,914.1 L593.3,914.8 L593.6,915.9 L592.6,915.3 L591.7,915.9 L591.9,914.8 L591.1,914.1 L592.2,914.0Z M592.0,909.6 L592.5,910.7 L593.8,910.8 L592.8,911.7 L593.1,912.9 L592.0,912.2 L591.0,912.9 L591.3,911.7 L590.3,910.8 L591.6,910.7Z M598.1,908.7 L598.5,909.5 L599.4,909.6 L598.7,910.2 L598.9,911.1 L598.1,910.6 L597.3,911.1 L597.5,910.2 L596.8,909.6 L597.8,909.5Z M596.0,908.1 L596.3,908.9 L597.3,909.0 L596.6,909.6 L596.8,910.5 L596.0,910.0 L595.2,910.5 L595.4,909.6 L594.7,909.0 L595.6,908.9Z M599.5,909.2 L599.9,910.2 L601.1,910.3 L600.2,911.1 L600.5,912.3 L599.5,911.6 L598.5,912.3 L598.7,911.1 L597.8,910.3 L599.0,910.2Z M592.2,904.0 L592.6,904.9 L593.6,905.0 L592.8,905.7 L593.1,906.7 L592.2,906.1 L591.3,906.7 L591.5,905.7 L590.7,905.0 L591.8,904.9Z M598.4,943.3 L598.8,944.2 L599.9,944.3 L599.1,945.0 L599.3,946.0 L598.4,945.5 L597.5,946.0 L597.8,945.0 L597.0,944.3 L598.0,944.2Z M607.0,942.5 L607.4,943.6 L608.6,943.7 L607.7,944.4 L608.0,945.6 L607.0,945.0 L605.9,945.6 L606.2,944.4 L605.3,943.7 L606.5,943.6Z M606.1,945.0 L606.6,946.1 L607.7,946.2 L606.9,947.0 L607.1,948.1 L606.1,947.5 L605.1,948.1 L605.4,947.0 L604.5,946.2 L605.7,946.1Z M603.6,944.2 L604.0,945.2 L605.1,945.3 L604.3,946.1 L604.5,947.2 L603.6,946.6 L602.6,947.2 L602.8,946.1 L602.0,945.3 L603.1,945.2Z M603.5,942.8 L603.9,943.8 L605.0,943.9 L604.2,944.6 L604.4,945.7 L603.5,945.1 L602.6,945.7 L602.8,944.6 L602.0,943.9 L603.1,943.8Z M595.2,883.2 L595.5,884.0 L596.4,884.1 L595.8,884.7 L596.0,885.5 L595.2,885.1 L594.4,885.5 L594.6,884.7 L594.0,884.1 L594.9,884.0Z M599.3,883.0 L599.8,884.1 L600.9,884.2 L600.0,885.0 L600.3,886.2 L599.3,885.5 L598.3,886.2 L598.6,885.0 L597.7,884.2 L598.8,884.1Z M601.3,884.1 L601.7,885.0 L602.7,885.1 L601.9,885.7 L602.2,886.7 L601.3,886.2 L600.5,886.7 L600.7,885.7 L599.9,885.1 L600.9,885.0Z M602.6,881.3 L603.0,882.3 L604.1,882.4 L603.3,883.1 L603.5,884.1 L602.6,883.5 L601.7,884.1 L601.9,883.1 L601.1,882.4 L602.2,882.3Z M607.3,883.7 L607.8,884.9 L609.1,885.0 L608.1,885.8 L608.4,887.1 L607.3,886.4 L606.2,887.1 L606.5,885.8 L605.5,885.0 L606.8,884.9Z M592.5,944.9 L592.9,945.8 L593.9,945.9 L593.1,946.6 L593.4,947.5 L592.5,947.0 L591.6,947.5 L591.9,946.6 L591.1,945.9 L592.1,945.8Z M586.6,940.6 L587.0,941.5 L588.0,941.5 L587.2,942.2 L587.5,943.1 L586.6,942.6 L585.8,943.1 L586.1,942.2 L585.3,941.5 L586.3,941.5Z M586.5,946.7 L586.9,947.8 L588.1,947.9 L587.2,948.6 L587.5,949.8 L586.5,949.2 L585.5,949.8 L585.8,948.6 L584.9,947.9 L586.1,947.8Z M591.2,946.2 L591.5,947.0 L592.3,947.0 L591.7,947.5 L591.9,948.3 L591.2,947.9 L590.5,948.3 L590.7,947.5 L590.1,947.0 L590.9,947.0Z M589.0,949.5 L589.4,950.3 L590.2,950.4 L589.6,951.0 L589.8,951.8 L589.0,951.4 L588.3,951.8 L588.5,951.0 L587.8,950.4 L588.7,950.3Z M589.2,946.1 L589.5,946.9 L590.4,946.9 L589.7,947.5 L589.9,948.4 L589.2,947.9 L588.4,948.4 L588.6,947.5 L588.0,946.9 L588.8,946.9Z M591.5,948.9 L592.0,950.0 L593.2,950.1 L592.3,950.8 L592.5,952.0 L591.5,951.4 L590.5,952.0 L590.8,950.8 L589.9,950.1 L591.1,950.0Z M589.9,857.8 L590.2,858.5 L591.0,858.5 L590.4,859.0 L590.6,859.8 L589.9,859.4 L589.3,859.8 L589.4,859.0 L588.9,858.5 L589.6,858.5Z M590.1,860.2 L590.4,861.0 L591.2,861.0 L590.6,861.6 L590.8,862.4 L590.1,862.0 L589.4,862.4 L589.6,861.6 L588.9,861.0 L589.8,861.0Z M588.3,853.9 L588.6,854.7 L589.4,854.8 L588.8,855.3 L589.0,856.1 L588.3,855.7 L587.6,856.1 L587.8,855.3 L587.2,854.8 L588.0,854.7Z M590.2,860.6 L590.5,861.3 L591.3,861.4 L590.7,861.9 L590.9,862.7 L590.2,862.3 L589.5,862.7 L589.7,861.9 L589.1,861.4 L589.9,861.3Z M589.3,855.1 L589.7,856.0 L590.7,856.1 L590.0,856.8 L590.2,857.8 L589.3,857.3 L588.4,857.8 L588.7,856.8 L587.9,856.1 L588.9,856.0Z M590.7,854.8 L591.0,855.6 L591.9,855.6 L591.2,856.2 L591.4,857.0 L590.7,856.6 L590.0,857.0 L590.2,856.2 L589.5,855.6 L590.4,855.6Z M594.6,853.4 L594.9,854.3 L595.8,854.3 L595.1,854.9 L595.3,855.8 L594.6,855.3 L593.8,855.8 L594.0,854.9 L593.3,854.3 L594.2,854.3Z M607.2,946.2 L607.6,947.1 L608.6,947.2 L607.8,947.9 L608.1,948.9 L607.2,948.3 L606.3,948.9 L606.6,947.9 L605.8,947.2 L606.8,947.1Z M603.6,948.5 L604.1,949.7 L605.4,949.8 L604.4,950.7 L604.7,951.9 L603.6,951.3 L602.5,951.9 L602.8,950.7 L601.8,949.8 L603.1,949.7Z M604.9,947.7 L605.2,948.3 L605.9,948.4 L605.3,948.8 L605.5,949.5 L604.9,949.1 L604.3,949.5 L604.5,948.8 L603.9,948.4 L604.6,948.3Z M603.1,949.5 L603.6,950.6 L604.8,950.7 L603.9,951.4 L604.2,952.6 L603.1,952.0 L602.1,952.6 L602.4,951.4 L601.5,950.7 L602.7,950.6Z M605.2,945.3 L605.5,946.0 L606.3,946.1 L605.7,946.6 L605.9,947.3 L605.2,946.9 L604.5,947.3 L604.7,946.6 L604.1,946.1 L604.9,946.0Z M607.7,951.8 L608.1,952.6 L608.9,952.6 L608.3,953.2 L608.5,954.0 L607.7,953.6 L607.0,954.0 L607.2,953.2 L606.6,952.6 L607.4,952.6Z M601.0,916.7 L601.3,917.3 L602.0,917.4 L601.4,917.8 L601.6,918.5 L601.0,918.1 L600.4,918.5 L600.6,917.8 L600.1,917.4 L600.7,917.3Z M600.5,905.9 L601.0,907.0 L602.1,907.1 L601.2,907.9 L601.5,909.0 L600.5,908.4 L599.5,909.0 L599.7,907.9 L598.8,907.1 L600.0,907.0Z M600.0,912.8 L600.4,913.9 L601.6,914.0 L600.7,914.7 L601.0,915.8 L600.0,915.2 L599.0,915.8 L599.3,914.7 L598.4,914.0 L599.6,913.9Z M600.8,913.9 L601.2,914.8 L602.2,914.9 L601.4,915.5 L601.6,916.5 L600.8,916.0 L600.0,916.5 L600.2,915.5 L599.5,914.9 L600.4,914.8Z M593.0,862.0 L593.2,862.7 L594.0,862.8 L593.4,863.3 L593.6,864.0 L593.0,863.6 L592.3,864.0 L592.5,863.3 L591.9,862.8 L592.7,862.7Z M600.2,856.1 L600.5,857.1 L601.6,857.2 L600.8,857.8 L601.0,858.8 L600.2,858.3 L599.3,858.8 L599.5,857.8 L598.7,857.2 L599.8,857.1Z M597.3,857.5 L597.8,858.6 L599.0,858.7 L598.0,859.5 L598.3,860.7 L597.3,860.0 L596.3,860.7 L596.5,859.5 L595.6,858.7 L596.8,858.6Z M598.1,861.0 L598.4,861.7 L599.1,861.8 L598.6,862.3 L598.7,863.0 L598.1,862.6 L597.5,863.0 L597.6,862.3 L597.1,861.8 L597.8,861.7Z M597.9,861.3 L598.3,862.3 L599.5,862.4 L598.6,863.2 L598.9,864.3 L597.9,863.7 L596.9,864.3 L597.2,863.2 L596.4,862.4 L597.5,862.3Z M558.0,924.5 L558.3,925.2 L559.0,925.2 L558.4,925.7 L558.6,926.3 L558.0,926.0 L557.4,926.3 L557.6,925.7 L557.0,925.2 L557.7,925.2Z M552.1,931.9 L552.5,932.7 L553.3,932.7 L552.7,933.3 L552.9,934.1 L552.1,933.7 L551.4,934.1 L551.6,933.3 L551.0,932.7 L551.8,932.7Z M552.5,927.2 L552.8,927.9 L553.5,927.9 L552.9,928.4 L553.1,929.0 L552.5,928.7 L551.9,929.0 L552.1,928.4 L551.5,927.9 L552.2,927.9Z M561.5,928.1 L561.8,928.9 L562.6,928.9 L562.0,929.5 L562.2,930.3 L561.5,929.8 L560.8,930.3 L561.0,929.5 L560.4,928.9 L561.2,928.9Z M553.8,926.5 L554.1,927.4 L555.1,927.4 L554.4,928.0 L554.6,928.9 L553.8,928.4 L553.0,928.9 L553.2,928.0 L552.5,927.4 L553.4,927.4Z M553.1,927.6 L553.5,928.5 L554.4,928.5 L553.7,929.1 L553.9,930.0 L553.1,929.5 L552.4,930.0 L552.6,929.1 L551.9,928.5 L552.8,928.5Z M552.1,931.3 L552.4,932.1 L553.2,932.2 L552.6,932.8 L552.8,933.6 L552.1,933.1 L551.3,933.6 L551.5,932.8 L550.9,932.2 L551.7,932.1Z M557.4,933.2 L557.7,934.1 L558.6,934.1 L557.9,934.7 L558.1,935.6 L557.4,935.1 L556.6,935.6 L556.8,934.7 L556.1,934.1 L557.0,934.1Z M600.2,905.6 L600.5,906.3 L601.2,906.4 L600.6,906.9 L600.8,907.6 L600.2,907.2 L599.5,907.6 L599.7,906.9 L599.1,906.4 L599.9,906.3Z M596.5,900.1 L596.8,900.8 L597.6,900.9 L597.0,901.4 L597.2,902.2 L596.5,901.8 L595.8,902.2 L596.0,901.4 L595.4,900.9 L596.2,900.8Z M593.7,907.7 L594.1,908.7 L595.2,908.8 L594.4,909.5 L594.6,910.5 L593.7,910.0 L592.8,910.5 L593.1,909.5 L592.3,908.8 L593.3,908.7Z M600.6,905.8 L600.9,906.6 L601.7,906.6 L601.1,907.1 L601.3,907.9 L600.6,907.5 L600.0,907.9 L600.1,907.1 L599.5,906.6 L600.3,906.6Z M601.0,907.0 L601.3,907.7 L602.0,907.7 L601.5,908.2 L601.6,908.9 L601.0,908.5 L600.4,908.9 L600.6,908.2 L600.0,907.7 L600.7,907.7Z M601.7,902.7 L602.0,903.6 L603.0,903.7 L602.3,904.3 L602.5,905.3 L601.7,904.8 L600.8,905.3 L601.0,904.3 L600.3,903.7 L601.3,903.6Z M595.4,899.7 L595.9,900.8 L597.1,900.9 L596.2,901.6 L596.4,902.8 L595.4,902.2 L594.4,902.8 L594.7,901.6 L593.8,900.9 L594.9,900.8Z M590.3,925.8 L590.8,927.0 L592.1,927.1 L591.1,927.9 L591.4,929.2 L590.3,928.5 L589.2,929.2 L589.5,927.9 L588.5,927.1 L589.8,927.0Z M595.5,918.7 L595.9,919.7 L596.9,919.8 L596.1,920.4 L596.4,921.5 L595.5,920.9 L594.5,921.5 L594.8,920.4 L594.0,919.8 L595.0,919.7Z M597.1,923.8 L597.5,924.6 L598.4,924.7 L597.7,925.3 L597.9,926.2 L597.1,925.7 L596.4,926.2 L596.6,925.3 L595.9,924.7 L596.8,924.6Z M593.4,922.2 L593.8,923.1 L594.7,923.1 L594.0,923.7 L594.2,924.6 L593.4,924.2 L592.6,924.6 L592.8,923.7 L592.1,923.1 L593.1,923.1Z M588.7,922.7 L589.1,923.8 L590.3,923.9 L589.4,924.7 L589.7,925.9 L588.7,925.2 L587.6,925.9 L587.9,924.7 L587.0,923.9 L588.2,923.8Z M592.9,921.9 L593.3,923.0 L594.5,923.1 L593.6,923.8 L593.9,924.9 L592.9,924.3 L591.9,924.9 L592.1,923.8 L591.3,923.1 L592.4,923.0Z M597.6,921.2 L598.0,922.0 L598.9,922.1 L598.2,922.7 L598.4,923.5 L597.6,923.1 L596.8,923.5 L597.0,922.7 L596.4,922.1 L597.3,922.0Z M592.5,923.1 L593.0,924.2 L594.1,924.3 L593.2,925.0 L593.5,926.1 L592.5,925.5 L591.6,926.1 L591.8,925.0 L591.0,924.3 L592.1,924.2Z M598.1,922.8 L598.6,923.9 L599.7,924.0 L598.8,924.7 L599.1,925.8 L598.1,925.2 L597.2,925.8 L597.4,924.7 L596.6,924.0 L597.7,923.9Z M563.7,922.1 L564.0,923.0 L565.0,923.1 L564.3,923.7 L564.5,924.7 L563.7,924.2 L562.8,924.7 L563.0,923.7 L562.3,923.1 L563.3,923.0Z M560.9,925.6 L561.2,926.3 L561.9,926.3 L561.3,926.8 L561.5,927.5 L560.9,927.1 L560.2,927.5 L560.4,926.8 L559.8,926.3 L560.6,926.3Z M565.1,921.6 L565.6,922.8 L566.8,922.9 L565.9,923.7 L566.2,924.9 L565.1,924.2 L564.1,924.9 L564.4,923.7 L563.4,922.9 L564.6,922.8Z M558.4,925.5 L558.7,926.3 L559.6,926.4 L558.9,926.9 L559.1,927.7 L558.4,927.3 L557.7,927.7 L557.9,926.9 L557.3,926.4 L558.1,926.3Z M559.7,922.5 L560.0,923.1 L560.7,923.2 L560.2,923.7 L560.3,924.4 L559.7,924.0 L559.1,924.4 L559.3,923.7 L558.7,923.2 L559.4,923.1Z M591.5,920.7 L591.9,921.8 L593.0,921.9 L592.1,922.6 L592.4,923.7 L591.5,923.1 L590.5,923.7 L590.8,922.6 L589.9,921.9 L591.0,921.8Z M587.7,925.2 L588.0,926.1 L588.9,926.1 L588.2,926.7 L588.5,927.6 L587.7,927.1 L586.9,927.6 L587.1,926.7 L586.4,926.1 L587.3,926.1Z M593.4,924.5 L593.8,925.6 L595.0,925.7 L594.1,926.4 L594.4,927.6 L593.4,927.0 L592.4,927.6 L592.6,926.4 L591.7,925.7 L592.9,925.6Z M588.1,921.7 L588.5,922.8 L589.7,922.9 L588.8,923.6 L589.1,924.8 L588.1,924.1 L587.1,924.8 L587.4,923.6 L586.5,922.9 L587.6,922.8Z M568.9,883.5 L569.3,884.5 L570.4,884.5 L569.5,885.2 L569.8,886.3 L568.9,885.7 L568.0,886.3 L568.2,885.2 L567.4,884.5 L568.5,884.5Z M561.4,885.4 L561.7,886.1 L562.5,886.2 L561.9,886.7 L562.1,887.5 L561.4,887.0 L560.8,887.5 L560.9,886.7 L560.3,886.2 L561.1,886.1Z M564.2,889.7 L564.6,890.6 L565.6,890.7 L564.8,891.4 L565.0,892.4 L564.2,891.8 L563.3,892.4 L563.5,891.4 L562.8,890.7 L563.8,890.6Z M567.3,891.6 L567.6,892.5 L568.5,892.5 L567.8,893.1 L568.0,894.0 L567.3,893.5 L566.5,894.0 L566.7,893.1 L566.0,892.5 L566.9,892.5Z M566.5,890.6 L567.0,891.8 L568.2,891.9 L567.3,892.7 L567.6,894.0 L566.5,893.3 L565.4,894.0 L565.7,892.7 L564.8,891.9 L566.0,891.8Z M570.2,890.9 L570.6,892.0 L571.7,892.1 L570.9,892.8 L571.1,893.9 L570.2,893.3 L569.2,893.9 L569.5,892.8 L568.6,892.1 L569.7,892.0Z M565.6,886.1 L566.0,887.0 L567.0,887.1 L566.3,887.8 L566.5,888.7 L565.6,888.2 L564.8,888.7 L565.0,887.8 L564.3,887.1 L565.3,887.0Z M567.2,890.7 L567.7,891.8 L569.0,891.9 L568.0,892.7 L568.3,894.0 L567.2,893.3 L566.2,894.0 L566.5,892.7 L565.5,891.9 L566.8,891.8Z M568.4,887.2 L568.8,888.1 L569.7,888.2 L569.0,888.8 L569.2,889.7 L568.4,889.2 L567.6,889.7 L567.8,888.8 L567.1,888.2 L568.0,888.1Z M567.7,858.3 L568.0,859.0 L568.8,859.0 L568.2,859.5 L568.4,860.3 L567.7,859.9 L567.1,860.3 L567.3,859.5 L566.7,859.0 L567.4,859.0Z M604.7,957.0 L605.0,957.8 L605.9,957.9 L605.2,958.5 L605.4,959.3 L604.7,958.9 L603.9,959.3 L604.1,958.5 L603.5,957.9 L604.3,957.8Z M562.5,906.4 L562.7,907.1 L563.4,907.1 L562.9,907.6 L563.1,908.3 L562.5,907.9 L561.9,908.3 L562.0,907.6 L561.5,907.1 L562.2,907.1Z M588.5,896.2 L588.9,897.1 L589.9,897.2 L589.1,897.9 L589.4,898.9 L588.5,898.3 L587.6,898.9 L587.9,897.9 L587.1,897.2 L588.1,897.1Z M564.7,922.1 L565.0,922.9 L565.9,923.0 L565.2,923.6 L565.4,924.4 L564.7,923.9 L563.9,924.4 L564.1,923.6 L563.5,923.0 L564.4,922.9Z M586.0,894.2 L586.5,895.2 L587.6,895.3 L586.8,896.1 L587.0,897.2 L586.0,896.6 L585.1,897.2 L585.3,896.1 L584.4,895.3 L585.6,895.2Z M594.8,904.6 L595.1,905.3 L595.8,905.3 L595.3,905.8 L595.4,906.5 L594.8,906.1 L594.2,906.5 L594.3,905.8 L593.8,905.3 L594.5,905.3Z M593.9,889.8 L594.3,890.8 L595.3,890.8 L594.5,891.5 L594.8,892.6 L593.9,892.0 L593.0,892.6 L593.2,891.5 L592.4,890.8 L593.5,890.8Z M606.7,887.1 L607.2,888.2 L608.4,888.3 L607.5,889.1 L607.8,890.3 L606.7,889.7 L605.7,890.3 L606.0,889.1 L605.0,888.3 L606.2,888.2Z M565.2,937.7 L565.6,938.7 L566.6,938.7 L565.8,939.4 L566.1,940.4 L565.2,939.8 L564.3,940.4 L564.6,939.4 L563.8,938.7 L564.8,938.7Z M589.2,947.4 L589.5,948.3 L590.4,948.4 L589.7,949.0 L589.9,949.9 L589.2,949.4 L588.4,949.9 L588.6,949.0 L587.9,948.4 L588.8,948.3Z M582.2,918.1 L582.5,919.0 L583.5,919.1 L582.8,919.8 L583.0,920.7 L582.2,920.2 L581.3,920.7 L581.5,919.8 L580.8,919.1 L581.8,919.0Z M599.2,955.3 L599.6,956.2 L600.6,956.3 L599.9,956.9 L600.1,957.9 L599.2,957.4 L598.4,957.9 L598.6,956.9 L597.9,956.3 L598.9,956.2Z M566.0,917.2 L566.4,918.2 L567.5,918.3 L566.6,919.0 L566.9,920.1 L566.0,919.5 L565.0,920.1 L565.3,919.0 L564.5,918.3 L565.6,918.2Z M587.1,912.9 L587.5,913.8 L588.4,913.8 L587.7,914.4 L587.9,915.4 L587.1,914.9 L586.3,915.4 L586.5,914.4 L585.8,913.8 L586.8,913.8Z M560.5,921.8 L560.8,922.5 L561.5,922.5 L560.9,923.0 L561.1,923.8 L560.5,923.4 L559.8,923.8 L560.0,923.0 L559.4,922.5 L560.2,922.5Z M574.1,889.9 L574.5,890.7 L575.3,890.8 L574.7,891.4 L574.9,892.2 L574.1,891.7 L573.4,892.2 L573.6,891.4 L573.0,890.8 L573.8,890.7Z M565.5,917.5 L565.8,918.3 L566.7,918.4 L566.0,919.0 L566.2,919.8 L565.5,919.3 L564.8,919.8 L565.0,919.0 L564.3,918.4 L565.2,918.3Z M594.1,950.6 L594.6,951.6 L595.7,951.7 L594.8,952.4 L595.1,953.5 L594.1,952.9 L593.2,953.5 L593.5,952.4 L592.6,951.7 L593.7,951.6Z M585.3,895.9 L585.8,896.9 L586.9,897.0 L586.0,897.8 L586.3,898.9 L585.3,898.3 L584.3,898.9 L584.6,897.8 L583.7,897.0 L584.9,896.9Z M576.2,900.5 L576.5,901.3 L577.3,901.3 L576.7,901.9 L576.9,902.7 L576.2,902.3 L575.4,902.7 L575.6,901.9 L575.0,901.3 L575.8,901.3Z M598.4,860.7 L598.6,861.4 L599.3,861.4 L598.8,861.9 L599.0,862.6 L598.4,862.2 L597.8,862.6 L597.9,861.9 L597.4,861.4 L598.1,861.4Z M562.7,875.2 L563.1,876.1 L564.1,876.2 L563.3,876.8 L563.5,877.8 L562.7,877.3 L561.8,877.8 L562.1,876.8 L561.3,876.2 L562.3,876.1Z M567.2,905.2 L567.7,906.3 L568.9,906.4 L568.0,907.2 L568.3,908.4 L567.2,907.7 L566.2,908.4 L566.5,907.2 L565.6,906.4 L566.8,906.3Z M599.5,903.8 L599.8,904.6 L600.7,904.7 L600.0,905.2 L600.2,906.0 L599.5,905.6 L598.8,906.0 L599.0,905.2 L598.3,904.7 L599.2,904.6Z M575.7,940.8 L576.1,941.9 L577.3,942.0 L576.4,942.7 L576.7,943.9 L575.7,943.2 L574.7,943.9 L574.9,942.7 L574.0,942.0 L575.2,941.9Z M580.8,879.8 L581.1,880.5 L581.9,880.6 L581.3,881.1 L581.5,881.9 L580.8,881.4 L580.1,881.9 L580.3,881.1 L579.7,880.6 L580.5,880.5Z M582.9,898.3 L583.3,899.3 L584.4,899.4 L583.6,900.1 L583.8,901.1 L582.9,900.6 L582.0,901.1 L582.2,900.1 L581.4,899.4 L582.5,899.3Z M575.2,957.6 L575.5,958.5 L576.5,958.6 L575.8,959.2 L576.0,960.2 L575.2,959.7 L574.3,960.2 L574.6,959.2 L573.8,958.6 L574.8,958.5Z M574.6,932.9 L575.1,933.9 L576.2,934.0 L575.3,934.7 L575.6,935.8 L574.6,935.2 L573.7,935.8 L573.9,934.7 L573.1,934.0 L574.2,933.9Z M570.6,907.8 L571.0,908.7 L572.0,908.8 L571.3,909.4 L571.5,910.4 L570.6,909.9 L569.8,910.4 L570.0,909.4 L569.3,908.8 L570.3,908.7Z M609.6,901.2 L609.9,902.0 L610.6,902.0 L610.0,902.5 L610.2,903.3 L609.6,902.9 L608.9,903.3 L609.1,902.5 L608.5,902.0 L609.2,902.0Z M579.2,925.8 L579.6,926.8 L580.7,926.8 L579.9,927.5 L580.1,928.6 L579.2,928.0 L578.3,928.6 L578.5,927.5 L577.7,926.8 L578.8,926.8Z M572.2,912.5 L572.6,913.6 L573.8,913.7 L572.9,914.5 L573.2,915.7 L572.2,915.1 L571.2,915.7 L571.4,914.5 L570.5,913.7 L571.7,913.6Z M607.3,939.8 L607.5,940.4 L608.2,940.5 L607.7,940.9 L607.9,941.6 L607.3,941.2 L606.7,941.6 L606.8,940.9 L606.3,940.5 L607.0,940.4Z M562.1,890.9 L562.4,891.7 L563.3,891.8 L562.6,892.4 L562.9,893.3 L562.1,892.8 L561.3,893.3 L561.5,892.4 L560.8,891.8 L561.7,891.7Z M569.8,902.2 L570.3,903.3 L571.5,903.4 L570.6,904.2 L570.9,905.4 L569.8,904.8 L568.8,905.4 L569.1,904.2 L568.1,903.4 L569.4,903.3Z M581.5,927.4 L581.9,928.4 L583.0,928.5 L582.2,929.2 L582.4,930.3 L581.5,929.7 L580.6,930.3 L580.8,929.2 L580.0,928.5 L581.1,928.4Z M604.1,919.9 L604.4,920.6 L605.1,920.7 L604.6,921.2 L604.7,922.0 L604.1,921.6 L603.4,922.0 L603.6,921.2 L603.0,920.7 L603.8,920.6Z M594.8,884.7 L595.2,885.8 L596.4,885.9 L595.5,886.7 L595.8,887.9 L594.8,887.2 L593.7,887.9 L594.0,886.7 L593.1,885.9 L594.3,885.8Z M577.1,908.7 L577.5,909.8 L578.7,909.9 L577.8,910.6 L578.1,911.8 L577.1,911.2 L576.1,911.8 L576.3,910.6 L575.4,909.9 L576.6,909.8Z M583.1,913.9 L583.5,914.9 L584.6,915.0 L583.8,915.8 L584.0,916.8 L583.1,916.3 L582.1,916.8 L582.4,915.8 L581.5,915.0 L582.6,914.9Z M589.1,895.9 L589.5,896.8 L590.4,896.9 L589.7,897.5 L589.9,898.4 L589.1,897.9 L588.3,898.4 L588.5,897.5 L587.8,896.9 L588.8,896.8Z M590.2,914.8 L590.6,915.9 L591.8,916.0 L590.9,916.7 L591.2,917.8 L590.2,917.2 L589.2,917.8 L589.5,916.7 L588.6,916.0 L589.8,915.9Z M577.3,873.1 L577.7,874.0 L578.7,874.1 L578.0,874.8 L578.2,875.8 L577.3,875.2 L576.5,875.8 L576.7,874.8 L575.9,874.1 L577.0,874.0Z M579.0,895.7 L579.3,896.5 L580.3,896.6 L579.6,897.2 L579.8,898.1 L579.0,897.6 L578.2,898.1 L578.4,897.2 L577.7,896.6 L578.6,896.5Z M568.7,877.4 L569.1,878.1 L569.9,878.2 L569.2,878.7 L569.4,879.5 L568.7,879.1 L568.0,879.5 L568.2,878.7 L567.6,878.2 L568.4,878.1Z M572.9,863.4 L573.3,864.2 L574.1,864.2 L573.4,864.8 L573.6,865.6 L572.9,865.2 L572.2,865.6 L572.4,864.8 L571.8,864.2 L572.6,864.2Z M549.8,893.9 L550.2,894.9 L551.2,895.0 L550.4,895.6 L550.6,896.6 L549.8,896.1 L548.9,896.6 L549.1,895.6 L548.4,895.0 L549.4,894.9Z M577.3,929.9 L577.8,931.0 L579.0,931.1 L578.0,931.9 L578.3,933.1 L577.3,932.4 L576.2,933.1 L576.5,931.9 L575.6,931.1 L576.8,931.0Z M593.5,920.4 L593.9,921.5 L595.1,921.6 L594.2,922.3 L594.5,923.5 L593.5,922.9 L592.5,923.5 L592.7,922.3 L591.9,921.6 L593.0,921.5Z M568.7,946.6 L569.1,947.5 L570.1,947.6 L569.3,948.3 L569.5,949.3 L568.7,948.8 L567.8,949.3 L568.0,948.3 L567.3,947.6 L568.3,947.5Z M584.1,876.6 L584.6,877.6 L585.6,877.7 L584.8,878.4 L585.1,879.5 L584.1,878.9 L583.2,879.5 L583.5,878.4 L582.6,877.7 L583.7,877.6Z M580.3,904.5 L580.6,905.2 L581.4,905.3 L580.8,905.8 L581.0,906.5 L580.3,906.1 L579.7,906.5 L579.9,905.8 L579.3,905.3 L580.0,905.2Z M587.3,948.6 L587.7,949.6 L588.7,949.6 L588.0,950.3 L588.2,951.3 L587.3,950.7 L586.5,951.3 L586.7,950.3 L586.0,949.6 L587.0,949.6Z M574.4,869.2 L574.6,869.8 L575.4,869.9 L574.8,870.4 L575.0,871.1 L574.4,870.7 L573.7,871.1 L573.9,870.4 L573.4,869.9 L574.1,869.8Z M557.4,930.8 L557.8,931.8 L558.9,931.9 L558.1,932.6 L558.3,933.8 L557.4,933.2 L556.4,933.8 L556.7,932.6 L555.8,931.9 L556.9,931.8Z M576.1,857.8 L576.5,858.8 L577.6,858.9 L576.8,859.6 L577.1,860.7 L576.1,860.1 L575.2,860.7 L575.4,859.6 L574.6,858.9 L575.7,858.8Z M556.3,910.5 L556.6,911.4 L557.6,911.5 L556.9,912.1 L557.1,913.1 L556.3,912.6 L555.4,913.1 L555.7,912.1 L554.9,911.5 L555.9,911.4Z M569.8,925.7 L570.2,926.6 L571.1,926.7 L570.4,927.3 L570.6,928.3 L569.8,927.8 L569.0,928.3 L569.2,927.3 L568.5,926.7 L569.4,926.6Z M567.1,876.2 L567.4,877.0 L568.4,877.1 L567.7,877.7 L567.9,878.6 L567.1,878.2 L566.3,878.6 L566.5,877.7 L565.8,877.1 L566.7,877.0Z M571.2,940.8 L571.7,941.7 L572.7,941.8 L571.9,942.5 L572.2,943.6 L571.2,943.0 L570.3,943.6 L570.6,942.5 L569.8,941.8 L570.8,941.7Z" fill="#3c9a3c" fill-opacity="0.75" stroke="#2a8a40" stroke-width="0.4"/><rect x="565.3" y="865.5" width="21.6" height="87.8" fill="none" stroke="#555" stroke-width="0.5"/><rect x="569.4" y="868.0" width="13.5" height="82.4" fill="none" stroke="#3a6a4a" stroke-width="0.5"/><path d="M576.1,851.5 L578.4,895.5 L578.2,925.5 L577.0,969.5 L575.4,969.5 L574.6,925.5 L574.4,895.5 Z" fill="#178c47"/><path d="M576.1,842.5 L576.1,852.5" stroke="#c98a4a" stroke-width="1.8" opacity="0.85"/></g>
<rect x="574.4" y="779" width="3.2" height="2.4" fill="#fff" stroke="#333" stroke-width="0.4"/>
<rect x="574.4" y="968" width="3.2" height="2.4" fill="#fff" stroke="#333" stroke-width="0.4"/>
<rect x="609.6" y="1231.8" width="76.9" height="118.4" fill="#fff" stroke="#2b2a2a" stroke-width="1"/>
<path d="M611.8,1234 L646.3,1234 L646.3,1348 L611.8,1348 Z M649.6,1234 L684.2,1234 L684.2,1348 L649.6,1348 Z" fill="none" stroke="#2b2a2a" stroke-width="0.6"/>
<path d="M611.8,1234 L646.3,1291 L611.8,1348 M684.2,1234 L649.6,1291 L684.2,1348" fill="none" stroke="#2b2a2a" stroke-width="0.6"/>
<circle cx="630.6" cy="1250.5" r="2.8" fill="#000"/>
<circle cx="629.4" cy="1232.2" r="2.8" fill="#000"/>
<path d="M117.5,475.5 L601.3,475.5" fill="none" stroke="#2b2a2a" stroke-width="0.7"/>
<path d="M117.5,444.2 L117.5,505.5" fill="none" stroke="#666" stroke-width="0.8"/>
<path d="M119.5,604.5 L575.2,604.5" fill="none" stroke="#2b2a2a" stroke-width="0.7"/>
<path d="M119.5,584 L119.5,625.7" fill="none" stroke="#666" stroke-width="0.8"/>
<path d="M114.5,667.5 L867.5,667.5" fill="none" stroke="#2b2a2a" stroke-width="0.7"/>
<path d="M114.5,646.9 L114.5,688.4" fill="none" stroke="#666" stroke-width="0.8"/>
<path d="M104.5,745.5 L574.2,745.5" fill="none" stroke="#2b2a2a" stroke-width="0.7"/>
<path d="M104.5,705.3 L104.5,786.3" fill="none" stroke="#666" stroke-width="0.8"/>
<path d="M72.5,1048.2 L612.1,1048.2" fill="none" stroke="#2b2a2a" stroke-width="0.7"/>
<path d="M72.5,1027.1 L72.5,1068.7" fill="none" stroke="#666" stroke-width="0.8"/>
<path d="M107.5,1250.5 L630.6,1250.5" fill="none" stroke="#2b2a2a" stroke-width="0.7"/>
<path d="M107.5,1229.6 L107.5,1271.5" fill="none" stroke="#666" stroke-width="0.8"/>
<circle cx="601.3" cy="475.5" r="2.8" fill="#000"/>
<circle cx="575.2" cy="604.5" r="2.8" fill="#000"/>
<circle cx="574.2" cy="745.5" r="2.8" fill="#000"/>
<circle cx="612.1" cy="1048.2" r="2.8" fill="#000"/>
<circle cx="630.6" cy="1250.5" r="2.8" fill="#000"/>
<path d="M589.2,241.8 L707.6,241.8" fill="none" stroke="#2b2a2a" stroke-width="0.7"/>
<path d="M589.5,241.8 L589.5,355.6" fill="none" stroke="#2b2a2a" stroke-width="0.7" stroke-dasharray="38.6 10.4 26.3 8.5 24.5 2 100"/>
<circle cx="589.5" cy="241.8" r="2.8" fill="#000"/>
<circle cx="707.6" cy="241.8" r="2.8" fill="#000"/>
<path d="M543,355.3 L543,576.4" fill="none" stroke="#3a3a3a" stroke-width="1"/>
<path d="M543,355.3 L589.5,355.3 M543,532.2 L589.5,532.2 M543,576.4 L587,576.4" fill="none" stroke="#2b2a2a" stroke-width="0.7"/>
<circle cx="543" cy="355.3" r="2.8" fill="#000"/>
<circle cx="543" cy="532.2" r="2.8" fill="#000"/>
<circle cx="543" cy="576.4" r="2.8" fill="#000"/>
<path d="M633.1,576.3 L633.1,1054.4" fill="none" stroke="#4a4a4a" stroke-width="1.3"/>
<circle cx="633.1" cy="576.3" r="2.8" fill="#000"/>
<circle cx="633.1" cy="676.5" r="2.8" fill="#000"/>
<circle cx="633.1" cy="765.5" r="2.8" fill="#000"/>
<circle cx="633.1" cy="865.5" r="2.8" fill="#000"/>
<circle cx="633.1" cy="954.2" r="2.8" fill="#000"/>
<circle cx="633.1" cy="1054.4" r="2.8" fill="#000"/>
<path d="M657.5,649.8 L657.5,792.1" fill="none" stroke="#2b2a2a" stroke-width="0.7"/>
<circle cx="657.5" cy="649.8" r="2.8" fill="#000"/>
<circle cx="657.5" cy="792.1" r="2.8" fill="#000"/>
<path d="M657.5,838.8 L657.5,980.9" fill="none" stroke="#2b2a2a" stroke-width="0.7"/>
<circle cx="657.5" cy="838.8" r="2.8" fill="#000"/>
<circle cx="657.5" cy="980.9" r="2.8" fill="#000"/>
<path d="M596,576.3 L713,576.3" fill="none" stroke="#2b2a2a" stroke-width="0.7" stroke-dasharray="9 6"/>
<path d="M590,1054.4 L713,1054.4" fill="none" stroke="#2b2a2a" stroke-width="0.7" stroke-dasharray="9 6"/>
<path d="M578,1054.4 L587,1054.4" fill="none" stroke="#2b2a2a" stroke-width="0.7"/>
<path d="M590,676.5 L682,676.5" fill="none" stroke="#2b2a2a" stroke-width="0.7" stroke-dasharray="9 6"/>
<path d="M590,765.5 L682,765.5" fill="none" stroke="#2b2a2a" stroke-width="0.7" stroke-dasharray="9 6"/>
<path d="M590,865.5 L682,865.5" fill="none" stroke="#2b2a2a" stroke-width="0.7" stroke-dasharray="9 6"/>
<path d="M590,954.2 L682,954.2" fill="none" stroke="#2b2a2a" stroke-width="0.7" stroke-dasharray="9 6"/>
<path d="M667.5,626.4 L673.5,626.4 M678,626.4 L695,626.4 M703.5,626.4 L713,626.4" fill="none" stroke="#2b2a2a" stroke-width="0.7"/>
<path d="M667.5,815.5 L673.5,815.5 M678,815.5 L695,815.5 M703.5,815.5 L713,815.5" fill="none" stroke="#2b2a2a" stroke-width="0.7"/>
<path d="M667.5,1004.3 L673.5,1004.3 M678,1004.3 L695,1004.3 M703.5,1004.3 L713,1004.3" fill="none" stroke="#2b2a2a" stroke-width="0.7"/>
<path d="M707.6,532.2 L713,532.2" fill="none" stroke="#2b2a2a" stroke-width="0.7"/>
<path d="M666.6,1131.3 A58,58 0 0 1 707.6,1114.2" fill="none" stroke="#2b2a2a" stroke-width="0.7"/>
<circle cx="666.2" cy="1131.6" r="2.8" fill="#000"/>
<circle cx="707.6" cy="1114.2" r="2.8" fill="#000"/>
<path d="M589.4,1172.6 L707.6,1172.6" fill="none" stroke="#858585" stroke-width="1.6" stroke-dasharray="9 6.5"/>
<circle cx="629.7" cy="1115.3" r="1.5" fill="#fff" stroke="#222" stroke-width="0.6"/>
<path d="M589.5,1064 L589.5,1084 M589.5,1095 L589.5,1133" fill="none" stroke="#2b2a2a" stroke-width="0.7"/>
<path d="M629.4,1172.6 L629.4,1232.2" fill="none" stroke="#2b2a2a" stroke-width="0.7"/>
<circle cx="629.4" cy="1172.6" r="2.8" fill="#000"/>
<circle cx="629.4" cy="1232.2" r="2.8" fill="#000"/>
<path d="M589.4,1232.2 L597,1232.2 M604,1232.2 L610,1232.2" fill="none" stroke="#7a7a7a" stroke-width="1"/>
<circle cx="642.1" cy="418.8" r="12.4" fill="none" stroke="#fff" stroke-linecap="round" stroke-linejoin="round" stroke-width="3.2"/>
<circle cx="642.1" cy="460.2" r="12.4" fill="none" stroke="#fff" stroke-linecap="round" stroke-linejoin="round" stroke-width="3"/>
<path d="M641,417.3 L671.2,424.1 L671,431.2 L673.2,434.3" fill="none" stroke="#fff" stroke-linecap="round" stroke-linejoin="round" stroke-width="3"/>
<path d="M659.6,423.6 L661.6,449.4 M659.6,424.5 L642.6,439.6 L642.6,460.6 L661.6,449.4 M642.6,440.4 L667.5,452.8" fill="none" stroke="#fff" stroke-linecap="round" stroke-linejoin="round" stroke-width="2.8"/>
<path d="M669.2,446.6 L669.2,456 M666.4,457.6 L670.4,457.6" fill="none" stroke="#fff" stroke-linecap="round" stroke-linejoin="round" stroke-width="3"/>
<path d="M658.6,453 L660.9,456.8 L660.9,471 M661,462.8 L665,462.8" fill="none" stroke="#fff" stroke-linecap="round" stroke-linejoin="round" stroke-width="2"/>
<rect x="664.3" y="460.2" width="14.4" height="15.8" fill="#fff"/>
<path d="M327.6,860.3 L355.1,888.5 L335.1,888.5 L335.1,925.2 L320.7,925.2 L320.7,888.5 L300,888.5 Z" fill="none" stroke="#2b2a2a" stroke-width="0.8"/>
<rect x="909" y="526" width="84" height="578.8" fill="#e4ecee"/>
<path d="M896.5,107.1 L896.5,43.1 L906.4,35.5 L914.2,44.7 L909.3,48.6 L909.3,107.1 Z" fill="#fff" stroke="#a0a0a0" stroke-width="1.4"/>
<path d="M906.4,35.5 L915.1,29.3 M910.3,36.9 L919.2,30 M914.4,43.8 L928.9,30.7 M916.5,42.4 L933.7,29.3 M909.2,38.8 L912.6,43.2" fill="none" stroke="#c4c4c4" stroke-width="0.6"/>
<path d="M896.6,107.1 L896.6,478.6" fill="none" stroke="#e2e2e2" stroke-width="0.7"/>
<path d="M900,107.1 L900,478.6 M906.5,107.1 L906.5,478.6" fill="none" stroke="#d6d6d6" stroke-width="0.7"/>
<path d="M903.2,107.1 L903.2,176" fill="none" stroke="#b0b0b0" stroke-width="0.7"/>
<rect x="900" y="175.8" width="6.5" height="3.2" fill="#fff" stroke="#bdbdbd" stroke-width="0.6"/>
<rect x="900" y="326.6" width="6.5" height="3.2" fill="#fff" stroke="#bdbdbd" stroke-width="0.6"/>
<rect x="900" y="474.2" width="6.5" height="3.2" fill="#fff" stroke="#bdbdbd" stroke-width="0.6"/>
<path d="M900,108.8 L906.5,108.8" fill="none" stroke="#bdbdbd" stroke-width="0.6"/>
<rect x="896.8" y="478.6" width="12.6" height="35.4" fill="#fff" stroke="#a0a0a0" stroke-width="1.4"/>
<path d="M993,514 L896.6,514 L896.6,591.2 L909,591.2 L909,526 L993,526" fill="#fff" stroke="#111" stroke-width="2" stroke-linejoin="miter"/>
<path d="M993,1116 L896.6,1116 L896.6,1045.4 L909,1045.4 L909,1104.8 L993,1104.8" fill="#fff" stroke="#111" stroke-width="2" stroke-linejoin="miter"/>
<path d="M897.2,591.2 L897.2,1045.4" fill="none" stroke="#d6d6d6" stroke-width="0.7"/>
<path d="M899.6,591.6 L909,591.6 L909,594 L899.6,594 Z" fill="#fff" stroke="#aaa" stroke-width="0.5"/>
<path d="M909,593.7 L972.8,593.7 C972.8,630 945,658.5 906,660.4" fill="none" stroke="#2b2a2a" stroke-width="0.6"/>
<rect x="899.8" y="660.4" width="6.6" height="385" fill="#fff" stroke="#9c9c9c" stroke-width="0.6"/>
<path d="M903.1,664 L903.1,1042" fill="none" stroke="#d0d0d0" stroke-width="0.6"/>
<rect x="899.8" y="660.4" width="6.6" height="3.2" fill="#fff" stroke="#6a6a6a" stroke-width="0.6"/>
<rect x="899.8" y="787.8" width="6.6" height="3.2" fill="#fff" stroke="#6a6a6a" stroke-width="0.6"/>
<rect x="899.8" y="915.8" width="6.6" height="3.2" fill="#fff" stroke="#6a6a6a" stroke-width="0.6"/>
<rect x="899.8" y="1042.2" width="6.6" height="3.2" fill="#fff" stroke="#6a6a6a" stroke-width="0.6"/>
<rect x="896.5" y="1116.4" width="12.9" height="54" fill="#fff" stroke="#a0a0a0" stroke-width="1.4"/>
<path d="M896.7,1170.5 L896.7,1399.5" fill="none" stroke="#e2e2e2" stroke-width="0.7"/>
<path d="M899.9,1170.5 L899.9,1399.5 M906.5,1170.5 L906.5,1399.5" fill="none" stroke="#d6d6d6" stroke-width="0.7"/>
<path d="M903.2,1170.5 L903.2,1240.5" fill="none" stroke="#c0c0c0" stroke-width="0.7"/>
<rect x="899.9" y="1240.3" width="6.6" height="3.2" fill="#fff" stroke="#c8c8c8" stroke-width="0.6"/>
<rect x="899.9" y="1368.2" width="6.6" height="3.2" fill="#fff" stroke="#c8c8c8" stroke-width="0.6"/>
<path d="M899.9,1172.2 L906.5,1172.2" fill="none" stroke="#c8c8c8" stroke-width="0.6"/>
<path d="M843.5,682.7 L843.5,948.3" fill="none" stroke="#2b2a2a" stroke-width="0.7"/>
<path d="M843.5,682.7 L852.4,682.7" fill="none" stroke="#444" stroke-width="0.8"/>
<rect x="852.4" y="679.7" width="35.4" height="6" fill="#fcc324" stroke="#6b5312" stroke-width="0.7"/>
<circle cx="843.6" cy="682.7" r="2.7" fill="#000"/>
<path d="M843.5,771.2 L852.4,771.2" fill="none" stroke="#444" stroke-width="0.8"/>
<rect x="852.4" y="768.2" width="35.4" height="6" fill="#fcc324" stroke="#6b5312" stroke-width="0.7"/>
<circle cx="843.6" cy="771.2" r="2.7" fill="#000"/>
<path d="M843.5,859.8 L852.4,859.8" fill="none" stroke="#444" stroke-width="0.8"/>
<rect x="852.4" y="856.8" width="35.4" height="6" fill="#fcc324" stroke="#6b5312" stroke-width="0.7"/>
<circle cx="843.6" cy="859.8" r="2.7" fill="#000"/>
<path d="M843.5,948.3 L852.4,948.3" fill="none" stroke="#444" stroke-width="0.8"/>
<rect x="852.4" y="945.3" width="35.4" height="6" fill="#fcc324" stroke="#6b5312" stroke-width="0.7"/>
<circle cx="843.6" cy="948.3" r="2.7" fill="#000"/>
<path d="M867.5,667.5 L867.5,682.7" fill="none" stroke="#2b2a2a" stroke-width="0.7"/>
<circle cx="867.5" cy="682.7" r="2.8" fill="#000"/>
<path d="M737.4,936 L737.4,1065.5 L770,1065.5" fill="none" stroke="#2b2a2a" stroke-width="0.8"/>
<rect x="757" y="1063.6" width="118.6" height="47.6" rx="22" ry="22" fill="#fff" stroke="#4c9c3c" stroke-width="1.6"/>
<circle cx="737.3" cy="907.7" r="29.5" fill="#1b9b57"/>
<path d="M717.16,907.62 L721.22,906.72 L734.24,894.98 L735.52,895.43 L733.71,900.25 M717.16,915.30 L721.97,912.89 L732.51,899.19 M735.36,895.73 L730.25,910.03 L739.28,906.87 M729.95,911.01 L748.31,904.76 L751.32,907.62 L736.27,912.59 M736.27,912.59 L751.92,908.37 L752.82,912.14 L737.62,916.35 M737.62,916.35 L752.07,912.74 L752.07,915.90 L738.53,920.11 M738.53,920.11 L749.81,916.95 L749.81,919.96 L732.51,925.68 L725.58,926.58 L721.22,928.54" fill="none" stroke="#fff" stroke-width="1.05" stroke-linecap="round" stroke-linejoin="round"/>
<path d="M745.15,888.22 C746.15,890.42 747.35,892.22 747.35,893.42 A2.2,2.2 0 0 1 742.95,893.42 C742.95,892.22 744.15,890.42 745.15,888.22 Z" fill="none" stroke="#fff" stroke-width="1.05" stroke-linecap="round" stroke-linejoin="round"/>
<path d="M749.66,895.37 C750.66,897.57 751.86,899.37 751.86,900.57 A2.2,2.2 0 0 1 747.46,900.57 C747.46,899.37 748.66,897.57 749.66,895.37 Z" fill="none" stroke="#fff" stroke-width="1.05" stroke-linecap="round" stroke-linejoin="round"/>
<path d="M755.68,890.48 C756.68,892.68 757.88,894.48 757.88,895.68 A2.2,2.2 0 0 1 753.48,895.68 C753.48,894.48 754.68,892.68 755.68,890.48 Z" fill="none" stroke="#fff" stroke-width="1.05" stroke-linecap="round" stroke-linejoin="round"/>
<g opacity="0.995" text-rendering="geometricPrecision">
<text transform="translate(114.8,420.6) rotate(-90)" font-size="17" text-anchor="start" fill="#000" font-weight="normal" stroke="#000" stroke-width="0.42" textLength="50" lengthAdjust="spacingAndGlyphs">Vereda</text>
<text transform="translate(734,758.7) rotate(-90)" font-size="16.4" text-anchor="start" fill="#000" font-weight="normal" stroke="#000" stroke-width="0.42" textLength="47.9" lengthAdjust="spacingAndGlyphs">Vereda</text>
<text transform="translate(243.5,949.5) rotate(0)" font-size="17.2" text-anchor="start" fill="#000" font-weight="normal" stroke="#000" stroke-width="0.42" textLength="156.7" lengthAdjust="spacingAndGlyphs">Sentido de circulación</text>
<text transform="translate(632.4,236.3) rotate(0)" font-size="16.6" text-anchor="start" fill="#000" font-weight="normal" stroke="#000" stroke-width="0.42" textLength="28.3" lengthAdjust="spacingAndGlyphs">2.00</text>
<text transform="translate(539.2,458.5) rotate(-90)" font-size="16.6" text-anchor="start" fill="#000" font-weight="normal" stroke="#000" stroke-width="0.42" textLength="28.2" lengthAdjust="spacingAndGlyphs">3.00</text>
<text transform="translate(539.2,569.2) rotate(-90)" font-size="16.6" text-anchor="start" fill="#000" font-weight="normal" stroke="#000" stroke-width="0.42" textLength="27.6" lengthAdjust="spacingAndGlyphs">0.75</text>
<text transform="translate(628.9,660.3) rotate(-90)" font-size="16.6" text-anchor="start" fill="#000" font-weight="normal" stroke="#000" stroke-width="0.42" textLength="28.2" lengthAdjust="spacingAndGlyphs">1.70</text>
<text transform="translate(628.9,838.9) rotate(-90)" font-size="16.6" text-anchor="start" fill="#000" font-weight="normal" stroke="#000" stroke-width="0.42" textLength="28.2" lengthAdjust="spacingAndGlyphs">1.70</text>
<text transform="translate(628.9,1018.8) rotate(-90)" font-size="16.6" text-anchor="start" fill="#000" font-weight="normal" stroke="#000" stroke-width="0.42" textLength="28.2" lengthAdjust="spacingAndGlyphs">1.70</text>
<text transform="translate(630,771.1) rotate(-90)" font-size="16.6" text-anchor="start" fill="#000" font-weight="normal" stroke="#000" stroke-width="0.5" textLength="70" lengthAdjust="spacingAndGlyphs">mín 1,5 m</text>
<text transform="translate(630,950.8) rotate(-90)" font-size="16.6" text-anchor="start" fill="#000" font-weight="normal" stroke="#000" stroke-width="0.5" textLength="70" lengthAdjust="spacingAndGlyphs">mín 1,5 m</text>
<text transform="translate(653.7,749.7) rotate(-90)" font-size="16.6" text-anchor="start" fill="#000" font-weight="normal" stroke="#000" stroke-width="0.5" textLength="55.8" lengthAdjust="spacingAndGlyphs">mín 2 m</text>
<text transform="translate(653.7,938.2) rotate(-90)" font-size="16.6" text-anchor="start" fill="#000" font-weight="normal" stroke="#000" stroke-width="0.5" textLength="55.8" lengthAdjust="spacingAndGlyphs">mín 2 m</text>
<text transform="translate(625,1228.9) rotate(-90)" font-size="16.6" text-anchor="start" fill="#000" font-weight="normal" stroke="#000" stroke-width="0.5" textLength="51.5" lengthAdjust="spacingAndGlyphs">mín 1 m</text>
<text transform="translate(666.5,1111.5) rotate(-21)" font-size="18.2" text-anchor="start" fill="#000" font-weight="normal" stroke="#000" stroke-width="0.42" textLength="30" lengthAdjust="spacingAndGlyphs">45°</text>
<text transform="translate(839.9,748.8) rotate(-90)" font-size="16.6" text-anchor="start" fill="#000" font-weight="normal" stroke="#000" stroke-width="0.42" textLength="28" lengthAdjust="spacingAndGlyphs">1.50</text>
<text transform="translate(839.9,833.2) rotate(-90)" font-size="16.6" text-anchor="start" fill="#000" font-weight="normal" stroke="#000" stroke-width="0.42" textLength="28" lengthAdjust="spacingAndGlyphs">1.50</text>
<text transform="translate(839.9,918.4) rotate(-90)" font-size="16.6" text-anchor="start" fill="#000" font-weight="normal" stroke="#000" stroke-width="0.42" textLength="28" lengthAdjust="spacingAndGlyphs">1.50</text>
<text transform="translate(952.5,1004.4) rotate(-90)" font-size="19.8" text-anchor="start" fill="#000" font-weight="normal" stroke="#000" stroke-width="0.15" textLength="200.4" lengthAdjust="spacingAndGlyphs">LOCAL GASTRONÓMICO</text>
<text transform="translate(815.4,1084.8) rotate(0)" font-size="14.3" text-anchor="middle" fill="#1a1a1a" font-weight="normal">Punto de</text>
<text transform="translate(815.4,1099.6) rotate(0)" font-size="14.3" text-anchor="middle" fill="#1a1a1a" font-weight="normal">higienización</text>
<path d="M575.05,365.30 L588.20,352.15 M600.45,339.90 L632.40,307.95 M645.60,294.75 L658.80,281.55 M672.10,268.25 L685.30,255.05 M698.60,241.75 L711.80,228.55 M725.10,215.25 L738.30,202.05 M751.60,188.75 L764.80,175.55 M778.10,162.25 L791.30,149.05 M804.60,135.75 L817.80,122.55 M831.10,109.25 L844.30,96.05 M857.60,82.75 L870.80,69.55 M884.10,56.25 L897.30,43.05" fill="none" stroke="#e0161e" stroke-width="2.3"/>
<text transform="translate(723.9,210.9) rotate(-44.8)" font-size="18.6" text-anchor="start" fill="#e0161e" font-weight="normal" stroke="#e0161e" stroke-width="0.42" textLength="248" lengthAdjust="spacingAndGlyphs">Polígono de visibilidad de ochava</text>
</g>
</svg>
</body></html>
